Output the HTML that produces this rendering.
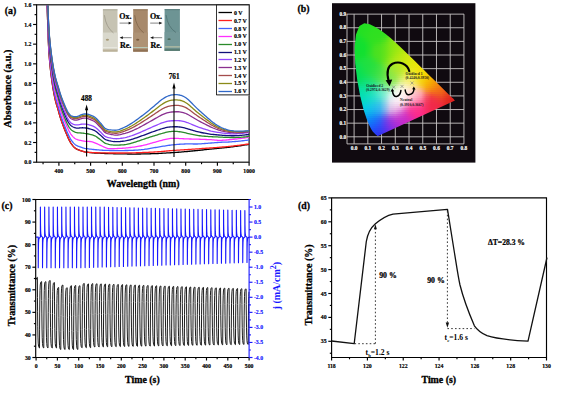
<!DOCTYPE html>
<html><head><meta charset="utf-8"><style>
html,body{margin:0;padding:0;background:#fff;width:575px;height:398px;overflow:hidden}
svg{display:block}
</style></head><body>
<svg width="575" height="398" viewBox="0 0 575 398">
<rect width="575" height="398" fill="#fff"/>
<text x="10.5" y="13.6" font-family="Liberation Serif" font-weight="bold" font-size="9.8" text-anchor="middle" fill="#000" stroke="#000" stroke-width="0.29" >(a)</text>
<rect x="36.6" y="4.8" width="212.5" height="157.4" fill="none" stroke="#111" stroke-width="1.2"/>
<line x1="33.1" y1="162.2" x2="36.6" y2="162.2" stroke="#000" stroke-width="1.15" />
<text x="31.4" y="164.3" font-family="Liberation Serif" font-weight="bold" font-size="5.8" text-anchor="end" fill="#000" stroke="#000" stroke-width="0.17" >0.0</text>
<line x1="34.6" y1="152.36" x2="36.6" y2="152.36" stroke="#000" stroke-width="1.15" />
<line x1="33.1" y1="142.52" x2="36.6" y2="142.52" stroke="#000" stroke-width="1.15" />
<text x="31.4" y="144.62" font-family="Liberation Serif" font-weight="bold" font-size="5.8" text-anchor="end" fill="#000" stroke="#000" stroke-width="0.17" >0.2</text>
<line x1="34.6" y1="132.69" x2="36.6" y2="132.69" stroke="#000" stroke-width="1.15" />
<line x1="33.1" y1="122.85" x2="36.6" y2="122.85" stroke="#000" stroke-width="1.15" />
<text x="31.4" y="124.95" font-family="Liberation Serif" font-weight="bold" font-size="5.8" text-anchor="end" fill="#000" stroke="#000" stroke-width="0.17" >0.4</text>
<line x1="34.6" y1="113.01" x2="36.6" y2="113.01" stroke="#000" stroke-width="1.15" />
<line x1="33.1" y1="103.17" x2="36.6" y2="103.17" stroke="#000" stroke-width="1.15" />
<text x="31.4" y="105.27" font-family="Liberation Serif" font-weight="bold" font-size="5.8" text-anchor="end" fill="#000" stroke="#000" stroke-width="0.17" >0.6</text>
<line x1="34.6" y1="93.34" x2="36.6" y2="93.34" stroke="#000" stroke-width="1.15" />
<line x1="33.1" y1="83.5" x2="36.6" y2="83.5" stroke="#000" stroke-width="1.15" />
<text x="31.4" y="85.6" font-family="Liberation Serif" font-weight="bold" font-size="5.8" text-anchor="end" fill="#000" stroke="#000" stroke-width="0.17" >0.8</text>
<line x1="34.6" y1="73.66" x2="36.6" y2="73.66" stroke="#000" stroke-width="1.15" />
<line x1="33.1" y1="63.83" x2="36.6" y2="63.83" stroke="#000" stroke-width="1.15" />
<text x="31.4" y="65.92" font-family="Liberation Serif" font-weight="bold" font-size="5.8" text-anchor="end" fill="#000" stroke="#000" stroke-width="0.17" >1.0</text>
<line x1="34.6" y1="53.99" x2="36.6" y2="53.99" stroke="#000" stroke-width="1.15" />
<line x1="33.1" y1="44.15" x2="36.6" y2="44.15" stroke="#000" stroke-width="1.15" />
<text x="31.4" y="46.25" font-family="Liberation Serif" font-weight="bold" font-size="5.8" text-anchor="end" fill="#000" stroke="#000" stroke-width="0.17" >1.2</text>
<line x1="34.6" y1="34.31" x2="36.6" y2="34.31" stroke="#000" stroke-width="1.15" />
<line x1="33.1" y1="24.48" x2="36.6" y2="24.48" stroke="#000" stroke-width="1.15" />
<text x="31.4" y="26.58" font-family="Liberation Serif" font-weight="bold" font-size="5.8" text-anchor="end" fill="#000" stroke="#000" stroke-width="0.17" >1.4</text>
<line x1="34.6" y1="14.64" x2="36.6" y2="14.64" stroke="#000" stroke-width="1.15" />
<line x1="33.1" y1="4.8" x2="36.6" y2="4.8" stroke="#000" stroke-width="1.15" />
<text x="31.4" y="6.9" font-family="Liberation Serif" font-weight="bold" font-size="5.8" text-anchor="end" fill="#000" stroke="#000" stroke-width="0.17" >1.6</text>
<line x1="43.05" y1="162.2" x2="43.05" y2="164.2" stroke="#000" stroke-width="1.15" />
<line x1="58.9" y1="162.2" x2="58.9" y2="165.7" stroke="#000" stroke-width="1.15" />
<text x="58.9" y="172.8" font-family="Liberation Serif" font-weight="bold" font-size="5.8" text-anchor="middle" fill="#000" stroke="#000" stroke-width="0.17" >400</text>
<line x1="74.75" y1="162.2" x2="74.75" y2="164.2" stroke="#000" stroke-width="1.15" />
<line x1="90.6" y1="162.2" x2="90.6" y2="165.7" stroke="#000" stroke-width="1.15" />
<text x="90.6" y="172.8" font-family="Liberation Serif" font-weight="bold" font-size="5.8" text-anchor="middle" fill="#000" stroke="#000" stroke-width="0.17" >500</text>
<line x1="106.45" y1="162.2" x2="106.45" y2="164.2" stroke="#000" stroke-width="1.15" />
<line x1="122.3" y1="162.2" x2="122.3" y2="165.7" stroke="#000" stroke-width="1.15" />
<text x="122.3" y="172.8" font-family="Liberation Serif" font-weight="bold" font-size="5.8" text-anchor="middle" fill="#000" stroke="#000" stroke-width="0.17" >600</text>
<line x1="138.15" y1="162.2" x2="138.15" y2="164.2" stroke="#000" stroke-width="1.15" />
<line x1="154" y1="162.2" x2="154" y2="165.7" stroke="#000" stroke-width="1.15" />
<text x="154" y="172.8" font-family="Liberation Serif" font-weight="bold" font-size="5.8" text-anchor="middle" fill="#000" stroke="#000" stroke-width="0.17" >700</text>
<line x1="169.85" y1="162.2" x2="169.85" y2="164.2" stroke="#000" stroke-width="1.15" />
<line x1="185.7" y1="162.2" x2="185.7" y2="165.7" stroke="#000" stroke-width="1.15" />
<text x="185.7" y="172.8" font-family="Liberation Serif" font-weight="bold" font-size="5.8" text-anchor="middle" fill="#000" stroke="#000" stroke-width="0.17" >800</text>
<line x1="201.55" y1="162.2" x2="201.55" y2="164.2" stroke="#000" stroke-width="1.15" />
<line x1="217.4" y1="162.2" x2="217.4" y2="165.7" stroke="#000" stroke-width="1.15" />
<text x="217.4" y="172.8" font-family="Liberation Serif" font-weight="bold" font-size="5.8" text-anchor="middle" fill="#000" stroke="#000" stroke-width="0.17" >900</text>
<line x1="233.25" y1="162.2" x2="233.25" y2="164.2" stroke="#000" stroke-width="1.15" />
<line x1="249.1" y1="162.2" x2="249.1" y2="165.7" stroke="#000" stroke-width="1.15" />
<text x="249.1" y="172.8" font-family="Liberation Serif" font-weight="bold" font-size="5.8" text-anchor="middle" fill="#000" stroke="#000" stroke-width="0.17" >1000</text>
<text x="143.2" y="186.6" font-family="Liberation Serif" font-weight="bold" font-size="9.9" text-anchor="middle" fill="#000" stroke="#000" stroke-width="0.30" >Wavelength (nm)</text>
<text x="11.5" y="88.6" font-family="Liberation Serif" font-weight="bold" font-size="10.3" text-anchor="middle" fill="#000" stroke="#000" stroke-width="0.31" transform="rotate(-90 11.5 88.6)">Absorbance (a.u.)</text>
<clipPath id="clipA"><rect x="36.6" y="5.3" width="212.5" height="157.39999999999998"/></clipPath>
<g clip-path="url(#clipA)">
<path d="M45.2,-51.28 L45.68,-36.68 L46.15,-22.45 L46.62,-8.56 L47.1,5 L47.57,19.05 L48.05,33.03 L48.52,44.86 L49,52.87 L49.47,59.11 L49.94,64.47 L50.42,69.11 L50.89,73.2 L51.37,76.9 L51.84,80.4 L52.31,83.71 L52.79,86.79 L53.26,89.66 L53.74,92.32 L54.21,94.81 L54.69,97.12 L55.16,99.28 L55.63,101.27 L56.11,103.07 L56.58,104.72 L57.06,106.29 L57.53,107.83 L58,109.41 L58.48,111.07 L58.95,112.76 L59.43,114.45 L59.9,116.11 L60.38,117.69 L60.85,119.16 L61.32,120.57 L61.8,121.94 L62.27,123.27 L62.75,124.56 L63.22,125.83 L63.69,127.06 L64.17,128.27 L64.64,129.46 L65.12,130.64 L65.59,131.81 L66.07,132.96 L66.54,134.1 L67.01,135.22 L67.49,136.31 L67.96,137.38 L68.44,138.41 L68.91,139.41 L69.38,140.36 L69.86,141.3 L70.33,142.19 L70.81,143 L71.28,143.69 L71.75,144.34 L72.23,144.97 L72.7,145.56 L73.18,146.13 L73.65,146.66 L74.13,147.16 L74.6,147.61 L75.07,148.01 L75.55,148.36 L76.02,148.66 L76.5,148.93 L76.97,149.18 L77.44,149.41 L77.92,149.63 L78.39,149.82 L78.87,150.01 L79.34,150.18 L79.82,150.35 L80.29,150.51 L80.76,150.67 L81.24,150.82 L81.71,150.98 L82.19,151.14 L82.66,151.29 L83.13,151.44 L83.61,151.59 L84.08,151.72 L84.56,151.84 L84.72,151.88 L85.98,152.1 L87.24,152.25 L88.51,152.4 L89.77,152.56 L91.04,152.7 L92.3,152.83 L93.57,152.93 L94.83,153 L96.09,153.05 L97.36,153.11 L98.62,153.16 L99.89,153.22 L101.15,153.28 L102.42,153.36 L103.68,153.43 L104.95,153.49 L106.21,153.54 L107.47,153.58 L108.74,153.62 L110,153.65 L111.27,153.68 L112.53,153.7 L113.8,153.73 L115.06,153.76 L116.32,153.78 L117.59,153.81 L118.85,153.84 L120.12,153.86 L121.38,153.89 L122.65,153.91 L123.91,153.94 L125.18,153.96 L126.44,153.97 L127.7,153.99 L128.97,154 L130.23,154.01 L131.5,154.02 L132.76,154.03 L134.03,154.03 L135.29,154.03 L136.56,154.02 L137.82,154.01 L139.08,154 L140.35,153.98 L141.61,153.97 L142.88,153.94 L144.14,153.92 L145.41,153.89 L146.67,153.86 L147.94,153.83 L149.2,153.79 L150.46,153.76 L151.73,153.72 L152.99,153.69 L154.26,153.65 L155.52,153.61 L156.79,153.55 L158.05,153.49 L159.31,153.42 L160.58,153.34 L161.84,153.26 L163.11,153.19 L164.37,153.12 L165.64,153.05 L166.9,152.97 L168.17,152.9 L169.43,152.83 L170.69,152.76 L171.96,152.68 L173.22,152.61 L174.49,152.53 L175.75,152.44 L177.02,152.35 L178.28,152.26 L179.55,152.16 L180.81,152.05 L182.07,151.94 L183.34,151.84 L184.6,151.72 L185.87,151.61 L187.13,151.49 L188.4,151.37 L189.66,151.26 L190.92,151.14 L192.19,151.01 L193.45,150.89 L194.72,150.77 L195.98,150.64 L197.25,150.52 L198.51,150.39 L199.78,150.27 L201.04,150.14 L202.3,150 L203.57,149.86 L204.83,149.72 L206.1,149.58 L207.36,149.44 L208.63,149.31 L209.89,149.19 L211.15,149.07 L212.42,148.95 L213.68,148.83 L214.95,148.71 L216.21,148.59 L217.48,148.47 L218.74,148.34 L220.01,148.21 L221.27,148.08 L222.53,147.95 L223.8,147.82 L225.06,147.68 L226.33,147.54 L227.59,147.4 L228.86,147.25 L230.12,147.1 L231.39,146.94 L232.65,146.78 L233.91,146.62 L235.18,146.45 L236.44,146.28 L237.71,146.1 L238.97,145.92 L240.24,145.74 L241.5,145.56 L242.76,145.37 L244.03,145.17 L245.29,144.97 L246.56,144.77 L247.82,144.57 L249.09,144.36" fill="none" stroke="#000000" stroke-width="1.3" stroke-linejoin="round" />
<path d="M45.2,-51.28 L45.68,-36.68 L46.15,-22.45 L46.62,-8.56 L47.1,5 L47.57,19.05 L48.05,33.03 L48.52,44.86 L49,52.87 L49.47,59.11 L49.94,64.47 L50.42,69.11 L50.89,73.2 L51.37,76.9 L51.84,80.4 L52.31,83.71 L52.79,86.79 L53.26,89.66 L53.74,92.32 L54.21,94.81 L54.69,97.12 L55.16,99.28 L55.63,101.27 L56.11,103.07 L56.58,104.72 L57.06,106.29 L57.53,107.83 L58,109.41 L58.48,111.07 L58.95,112.76 L59.43,114.45 L59.9,116.11 L60.38,117.69 L60.85,119.16 L61.32,120.57 L61.8,121.94 L62.27,123.27 L62.75,124.56 L63.22,125.83 L63.69,127.06 L64.17,128.27 L64.64,129.46 L65.12,130.64 L65.59,131.81 L66.07,132.96 L66.54,134.1 L67.01,135.22 L67.49,136.31 L67.96,137.38 L68.44,138.41 L68.91,139.41 L69.38,140.36 L69.86,141.3 L70.33,142.19 L70.81,143 L71.28,143.69 L71.75,144.34 L72.23,144.97 L72.7,145.56 L73.18,146.13 L73.65,146.66 L74.13,147.16 L74.6,147.61 L75.07,148.01 L75.55,148.36 L76.02,148.66 L76.5,148.93 L76.97,149.18 L77.44,149.41 L77.92,149.63 L78.39,149.82 L78.87,150.01 L79.34,150.18 L79.82,150.35 L80.29,150.51 L80.76,150.67 L81.24,150.82 L81.71,150.98 L82.19,151.14 L82.66,151.29 L83.13,151.44 L83.61,151.59 L84.08,151.72 L84.56,151.84 L84.72,151.88 L85.98,152.1 L87.24,152.23 L88.51,152.34 L89.77,152.44 L91.04,152.52 L92.3,152.59 L93.57,152.64 L94.83,152.69 L96.09,152.73 L97.36,152.76 L98.62,152.8 L99.89,152.83 L101.15,152.86 L102.42,152.89 L103.68,152.92 L104.95,152.94 L106.21,152.96 L107.47,152.97 L108.74,152.98 L110,152.98 L111.27,152.98 L112.53,152.98 L113.8,152.98 L115.06,152.98 L116.32,152.98 L117.59,152.98 L118.85,152.98 L120.12,152.98 L121.38,152.98 L122.65,152.98 L123.91,152.98 L125.18,152.97 L126.44,152.96 L127.7,152.94 L128.97,152.93 L130.23,152.9 L131.5,152.88 L132.76,152.85 L134.03,152.81 L135.29,152.78 L136.56,152.74 L137.82,152.7 L139.08,152.65 L140.35,152.61 L141.61,152.56 L142.88,152.51 L144.14,152.45 L145.41,152.4 L146.67,152.35 L147.94,152.29 L149.2,152.23 L150.46,152.18 L151.73,152.12 L152.99,152.06 L154.26,152 L155.52,151.93 L156.79,151.86 L158.05,151.77 L159.31,151.67 L160.58,151.57 L161.84,151.46 L163.11,151.35 L164.37,151.23 L165.64,151.11 L166.9,150.99 L168.17,150.88 L169.43,150.76 L170.69,150.65 L171.96,150.55 L173.22,150.45 L174.49,150.37 L175.75,150.28 L177.02,150.2 L178.28,150.12 L179.55,150.04 L180.81,149.97 L182.07,149.89 L183.34,149.81 L184.6,149.73 L185.87,149.65 L187.13,149.56 L188.4,149.48 L189.66,149.39 L190.92,149.3 L192.19,149.22 L193.45,149.13 L194.72,149.04 L195.98,148.95 L197.25,148.86 L198.51,148.78 L199.78,148.69 L201.04,148.6 L202.3,148.52 L203.57,148.43 L204.83,148.35 L206.1,148.27 L207.36,148.18 L208.63,148.09 L209.89,148 L211.15,147.91 L212.42,147.82 L213.68,147.72 L214.95,147.63 L216.21,147.53 L217.48,147.43 L218.74,147.33 L220.01,147.22 L221.27,147.12 L222.53,147.01 L223.8,146.91 L225.06,146.8 L226.33,146.68 L227.59,146.57 L228.86,146.44 L230.12,146.32 L231.39,146.18 L232.65,146.04 L233.91,145.9 L235.18,145.76 L236.44,145.61 L237.71,145.45 L238.97,145.29 L240.24,145.13 L241.5,144.96 L242.76,144.79 L244.03,144.61 L245.29,144.43 L246.56,144.25 L247.82,144.06 L249.09,143.87" fill="none" stroke="#ff2020" stroke-width="1.3" stroke-linejoin="round" />
<path d="M45.2,-54.81 L45.68,-40.21 L46.15,-25.98 L46.62,-12.09 L47.1,1.47 L47.57,15.52 L48.05,29.5 L48.52,41.34 L49,49.34 L49.47,55.58 L49.94,60.94 L50.42,65.58 L50.89,69.67 L51.37,73.37 L51.84,76.87 L52.31,80.18 L52.79,83.26 L53.26,86.13 L53.74,88.8 L54.21,91.28 L54.69,93.59 L55.16,95.75 L55.63,97.74 L56.11,99.54 L56.58,101.19 L57.06,102.76 L57.53,104.31 L58,105.89 L58.48,107.54 L58.95,109.23 L59.43,110.92 L59.9,112.58 L60.38,114.16 L60.85,115.63 L61.32,117.04 L61.8,118.41 L62.27,119.74 L62.75,121.04 L63.22,122.3 L63.69,123.53 L64.17,124.74 L64.64,125.94 L65.12,127.11 L65.59,128.28 L66.07,129.43 L66.54,130.57 L67.01,131.69 L67.49,132.79 L67.96,133.85 L68.44,134.88 L68.91,135.88 L69.38,136.83 L69.86,137.77 L70.33,138.66 L70.81,139.47 L71.28,140.17 L71.75,140.81 L72.23,141.44 L72.7,142.04 L73.18,142.6 L73.65,143.14 L74.13,143.63 L74.6,144.08 L75.07,144.48 L75.55,144.84 L76.02,145.14 L76.5,145.41 L76.97,145.66 L77.44,145.88 L77.92,146.1 L78.39,146.3 L78.87,146.48 L79.34,146.66 L79.82,146.82 L80.29,146.98 L80.76,147.14 L81.24,147.3 L81.71,147.45 L82.19,147.61 L82.66,147.76 L83.13,147.92 L83.61,148.06 L84.08,148.19 L84.56,148.31 L84.72,148.35 L85.98,148.57 L87.24,148.72 L88.51,148.88 L89.77,149.04 L91.04,149.2 L92.3,149.35 L93.57,149.49 L94.83,149.61 L96.09,149.73 L97.36,149.85 L98.62,149.97 L99.89,150.07 L101.15,150.17 L102.42,150.25 L103.68,150.31 L104.95,150.37 L106.21,150.41 L107.47,150.44 L108.74,150.47 L110,150.49 L111.27,150.5 L112.53,150.51 L113.8,150.52 L115.06,150.53 L116.32,150.53 L117.59,150.54 L118.85,150.54 L120.12,150.54 L121.38,150.54 L122.65,150.53 L123.91,150.53 L125.18,150.52 L126.44,150.5 L127.7,150.48 L128.97,150.45 L130.23,150.42 L131.5,150.37 L132.76,150.32 L134.03,150.27 L135.29,150.2 L136.56,150.12 L137.82,150.04 L139.08,149.95 L140.35,149.85 L141.61,149.72 L142.88,149.58 L144.14,149.42 L145.41,149.23 L146.67,149.04 L147.94,148.83 L149.2,148.62 L150.46,148.4 L151.73,148.18 L152.99,147.95 L154.26,147.73 L155.52,147.51 L156.79,147.29 L158.05,147.07 L159.31,146.85 L160.58,146.65 L161.84,146.44 L163.11,146.23 L164.37,146.03 L165.64,145.82 L166.9,145.63 L168.17,145.44 L169.43,145.25 L170.69,145.08 L171.96,144.93 L173.22,144.78 L174.49,144.65 L175.75,144.54 L177.02,144.44 L178.28,144.34 L179.55,144.26 L180.81,144.19 L182.07,144.13 L183.34,144.07 L184.6,144.01 L185.87,143.96 L187.13,143.93 L188.4,143.92 L189.66,143.92 L190.92,143.93 L192.19,143.96 L193.45,143.98 L194.72,143.99 L195.98,144 L197.25,143.98 L198.51,143.95 L199.78,143.89 L201.04,143.8 L202.3,143.71 L203.57,143.61 L204.83,143.51 L206.1,143.41 L207.36,143.31 L208.63,143.21 L209.89,143.11 L211.15,143.01 L212.42,142.91 L213.68,142.81 L214.95,142.71 L216.21,142.61 L217.48,142.51 L218.74,142.41 L220.01,142.32 L221.27,142.24 L222.53,142.18 L223.8,142.14 L225.06,142.11 L226.33,142.07 L227.59,142.04 L228.86,141.98 L230.12,141.91 L231.39,141.81 L232.65,141.72 L233.91,141.62 L235.18,141.51 L236.44,141.4 L237.71,141.28 L238.97,141.16 L240.24,141.03 L241.5,140.89 L242.76,140.75 L244.03,140.6 L245.29,140.45 L246.56,140.29 L247.82,140.12 L249.09,139.95" fill="none" stroke="#4464ff" stroke-width="1.3" stroke-linejoin="round" />
<path d="M45.2,-58.87 L45.68,-44.26 L46.15,-30.02 L46.62,-16.13 L47.1,-2.56 L47.57,11.5 L48.05,25.48 L48.52,37.32 L49,45.33 L49.47,51.58 L49.94,56.94 L50.42,61.57 L50.89,65.66 L51.37,69.37 L51.84,72.86 L52.31,76.16 L52.79,79.24 L53.26,82.1 L53.74,84.76 L54.21,87.23 L54.69,89.54 L55.16,91.68 L55.63,93.66 L56.11,95.44 L56.58,97.08 L57.06,98.63 L57.53,100.15 L58,101.71 L58.48,103.34 L58.95,105.01 L59.43,106.67 L59.9,108.3 L60.38,109.85 L60.85,111.29 L61.32,112.67 L61.8,114 L62.27,115.29 L62.75,116.54 L63.22,117.76 L63.69,118.95 L64.17,120.11 L64.64,121.26 L65.12,122.38 L65.59,123.5 L66.07,124.59 L66.54,125.68 L67.01,126.74 L67.49,127.78 L67.96,128.78 L68.44,129.75 L68.91,130.69 L69.38,131.58 L69.86,132.46 L70.33,133.29 L70.81,134.04 L71.28,134.67 L71.75,135.26 L72.23,135.82 L72.7,136.36 L73.18,136.87 L73.65,137.34 L74.13,137.77 L74.6,138.16 L75.07,138.51 L75.55,138.8 L76.02,139.04 L76.5,139.25 L76.97,139.44 L77.44,139.62 L77.92,139.77 L78.39,139.91 L78.87,140.04 L79.34,140.16 L79.82,140.27 L80.29,140.38 L80.76,140.48 L81.24,140.58 L81.71,140.68 L82.19,140.78 L82.66,140.89 L83.13,140.98 L83.61,141.07 L84.08,141.15 L84.56,141.22 L84.72,141.24 L85.98,141.32 L87.24,141.33 L88.51,141.39 L89.77,141.49 L91.04,141.68 L92.3,141.95 L93.57,142.34 L94.83,142.84 L96.09,143.37 L97.36,143.92 L98.62,144.49 L99.89,145.06 L101.15,145.64 L102.42,146.25 L103.68,146.87 L104.95,147.45 L106.21,147.96 L107.47,148.33 L108.74,148.57 L110,148.69 L111.27,148.72 L112.53,148.7 L113.8,148.64 L115.06,148.58 L116.32,148.54 L117.59,148.49 L118.85,148.44 L120.12,148.38 L121.38,148.32 L122.65,148.24 L123.91,148.15 L125.18,148.04 L126.44,147.93 L127.7,147.8 L128.97,147.66 L130.23,147.52 L131.5,147.36 L132.76,147.2 L134.03,147.02 L135.29,146.84 L136.56,146.64 L137.82,146.44 L139.08,146.22 L140.35,145.99 L141.61,145.74 L142.88,145.47 L144.14,145.17 L145.41,144.85 L146.67,144.52 L147.94,144.17 L149.2,143.81 L150.46,143.45 L151.73,143.09 L152.99,142.73 L154.26,142.37 L155.52,142.02 L156.79,141.66 L158.05,141.31 L159.31,140.97 L160.58,140.64 L161.84,140.3 L163.11,139.97 L164.37,139.64 L165.64,139.33 L166.9,139.04 L168.17,138.79 L169.43,138.58 L170.69,138.41 L171.96,138.31 L173.22,138.28 L174.49,138.3 L175.75,138.35 L177.02,138.4 L178.28,138.47 L179.55,138.54 L180.81,138.62 L182.07,138.69 L183.34,138.76 L184.6,138.82 L185.87,138.87 L187.13,138.91 L188.4,138.94 L189.66,138.98 L190.92,139.01 L192.19,139.04 L193.45,139.08 L194.72,139.11 L195.98,139.14 L197.25,139.18 L198.51,139.21 L199.78,139.25 L201.04,139.29 L202.3,139.34 L203.57,139.38 L204.83,139.44 L206.1,139.49 L207.36,139.54 L208.63,139.59 L209.89,139.64 L211.15,139.7 L212.42,139.8 L213.68,139.92 L214.95,140.05 L216.21,140.17 L217.48,140.27 L218.74,140.33 L220.01,140.34 L221.27,140.31 L222.53,140.25 L223.8,140.18 L225.06,140.09 L226.33,139.99 L227.59,139.89 L228.86,139.77 L230.12,139.65 L231.39,139.53 L232.65,139.4 L233.91,139.27 L235.18,139.13 L236.44,138.99 L237.71,138.84 L238.97,138.69 L240.24,138.54 L241.5,138.38 L242.76,138.21 L244.03,138.04 L245.29,137.87 L246.56,137.68 L247.82,137.5 L249.09,137.3" fill="none" stroke="#ff30ff" stroke-width="1.3" stroke-linejoin="round" />
<path d="M45.2,-63.04 L45.68,-48.44 L46.15,-34.21 L46.62,-20.32 L47.1,-6.76 L47.57,7.29 L48.05,21.27 L48.52,33.1 L49,41.11 L49.47,47.35 L49.94,52.71 L50.42,57.35 L50.89,61.44 L51.37,65.14 L51.84,68.64 L52.31,71.95 L52.79,75.03 L53.26,77.9 L53.74,80.56 L54.21,83.05 L54.69,85.36 L55.16,87.52 L55.63,89.51 L56.11,91.31 L56.58,92.96 L57.06,94.53 L57.53,96.07 L58,97.65 L58.48,99.31 L58.95,101 L59.43,102.69 L59.9,104.35 L60.38,105.93 L60.85,107.4 L61.32,108.81 L61.8,110.18 L62.27,111.51 L62.75,112.8 L63.22,114.07 L63.69,115.3 L64.17,116.51 L64.64,117.7 L65.12,118.88 L65.59,120.05 L66.07,121.19 L66.54,122.28 L67.01,123.31 L67.49,124.28 L67.96,125.19 L68.44,126.04 L68.91,126.83 L69.38,127.55 L69.86,128.24 L70.33,128.88 L70.81,129.42 L71.28,129.84 L71.75,130.2 L72.23,130.55 L72.7,130.87 L73.18,131.17 L73.65,131.44 L74.13,131.69 L74.6,131.92 L75.07,132.12 L75.55,132.3 L76.02,132.45 L76.5,132.57 L76.97,132.67 L77.44,132.75 L77.92,132.81 L78.39,132.85 L78.87,132.89 L79.34,132.92 L79.82,132.94 L80.29,132.96 L80.76,132.98 L81.24,133.01 L81.71,133.05 L82.19,133.09 L82.66,133.14 L83.13,133.2 L83.61,133.26 L84.08,133.33 L84.56,133.39 L84.72,133.42 L85.98,133.58 L87.24,133.75 L88.51,133.99 L89.77,134.27 L91.04,134.59 L92.3,134.94 L93.57,135.31 L94.83,135.78 L96.09,136.5 L97.36,137.4 L98.62,138.36 L99.89,139.3 L101.15,140.2 L102.42,141.23 L103.68,142.24 L104.95,143.09 L106.21,143.65 L107.47,143.99 L108.74,144.3 L110,144.57 L111.27,144.79 L112.53,144.97 L113.8,145.08 L115.06,145.14 L116.32,145.13 L117.59,145.11 L118.85,145.06 L120.12,145 L121.38,144.92 L122.65,144.83 L123.91,144.73 L125.18,144.59 L126.44,144.37 L127.7,144.11 L128.97,143.82 L130.23,143.51 L131.5,143.17 L132.76,142.81 L134.03,142.43 L135.29,142.03 L136.56,141.63 L137.82,141.21 L139.08,140.79 L140.35,140.36 L141.61,139.93 L142.88,139.5 L144.14,139.07 L145.41,138.64 L146.67,138.22 L147.94,137.8 L149.2,137.38 L150.46,136.97 L151.73,136.56 L152.99,136.17 L154.26,135.78 L155.52,135.39 L156.79,135.01 L158.05,134.62 L159.31,134.24 L160.58,133.86 L161.84,133.5 L163.11,133.14 L164.37,132.8 L165.64,132.49 L166.9,132.2 L168.17,131.95 L169.43,131.73 L170.69,131.56 L171.96,131.43 L173.22,131.35 L174.49,131.33 L175.75,131.36 L177.02,131.44 L178.28,131.57 L179.55,131.74 L180.81,131.94 L182.07,132.17 L183.34,132.42 L184.6,132.69 L185.87,132.97 L187.13,133.27 L188.4,133.56 L189.66,133.86 L190.92,134.15 L192.19,134.44 L193.45,134.71 L194.72,134.96 L195.98,135.19 L197.25,135.4 L198.51,135.59 L199.78,135.75 L201.04,135.9 L202.3,136.04 L203.57,136.16 L204.83,136.27 L206.1,136.37 L207.36,136.45 L208.63,136.53 L209.89,136.6 L211.15,136.67 L212.42,136.73 L213.68,136.79 L214.95,136.85 L216.21,136.91 L217.48,136.97 L218.74,137.04 L220.01,137.1 L221.27,137.16 L222.53,137.22 L223.8,137.28 L225.06,137.34 L226.33,137.39 L227.59,137.44 L228.86,137.47 L230.12,137.5 L231.39,137.51 L232.65,137.51 L233.91,137.51 L235.18,137.49 L236.44,137.46 L237.71,137.42 L238.97,137.36 L240.24,137.29 L241.5,137.2 L242.76,137.1 L244.03,136.98 L245.29,136.84 L246.56,136.69 L247.82,136.51 L249.09,136.32" fill="none" stroke="#2a8a2a" stroke-width="1.3" stroke-linejoin="round" />
<path d="M45.2,-66.11 L45.68,-51.51 L46.15,-37.29 L46.62,-23.4 L47.1,-9.85 L47.57,4.2 L48.05,18.16 L48.52,29.99 L49,37.99 L49.47,44.23 L49.94,49.57 L50.42,54.2 L50.89,58.28 L51.37,61.98 L51.84,65.46 L52.31,68.77 L52.79,71.84 L53.26,74.7 L53.74,77.35 L54.21,79.82 L54.69,82.12 L55.16,84.27 L55.63,86.25 L56.11,88.03 L56.58,89.67 L57.06,91.23 L57.53,92.76 L58,94.33 L58.48,95.97 L58.95,97.65 L59.43,99.32 L59.9,100.96 L60.38,102.52 L60.85,103.98 L61.32,105.38 L61.8,106.73 L62.27,108.04 L62.75,109.32 L63.22,110.56 L63.69,111.78 L64.17,112.97 L64.64,114.15 L65.12,115.3 L65.59,116.45 L66.07,117.57 L66.54,118.64 L67.01,119.65 L67.49,120.59 L67.96,121.47 L68.44,122.28 L68.91,123.04 L69.38,123.72 L69.86,124.38 L70.33,124.97 L70.81,125.47 L71.28,125.84 L71.75,126.17 L72.23,126.47 L72.7,126.74 L73.18,126.99 L73.65,127.22 L74.13,127.42 L74.6,127.6 L75.07,127.75 L75.55,127.88 L76.02,127.98 L76.5,128.05 L76.97,128.09 L77.44,128.1 L77.92,128.1 L78.39,128.08 L78.87,128.04 L79.34,128 L79.82,127.95 L80.29,127.9 L80.76,127.86 L81.24,127.82 L81.71,127.79 L82.19,127.77 L82.66,127.77 L83.13,127.78 L83.61,127.79 L84.08,127.82 L84.56,127.85 L84.72,127.87 L85.98,127.99 L87.24,128.21 L88.51,128.5 L89.77,128.85 L91.04,129.25 L92.3,129.69 L93.57,130.14 L94.83,130.71 L96.09,131.56 L97.36,132.6 L98.62,133.72 L99.89,134.81 L101.15,135.87 L102.42,137.08 L103.68,138.27 L104.95,139.27 L106.21,139.89 L107.47,140.25 L108.74,140.58 L110,140.87 L111.27,141.14 L112.53,141.36 L113.8,141.52 L115.06,141.63 L116.32,141.66 L117.59,141.65 L118.85,141.58 L120.12,141.49 L121.38,141.37 L122.65,141.23 L123.91,141.1 L125.18,140.93 L126.44,140.69 L127.7,140.41 L128.97,140.1 L130.23,139.77 L131.5,139.41 L132.76,139.03 L134.03,138.64 L135.29,138.23 L136.56,137.82 L137.82,137.39 L139.08,136.94 L140.35,136.46 L141.61,135.98 L142.88,135.5 L144.14,135.02 L145.41,134.54 L146.67,134.07 L147.94,133.6 L149.2,133.13 L150.46,132.66 L151.73,132.21 L152.99,131.75 L154.26,131.31 L155.52,130.87 L156.79,130.43 L158.05,129.99 L159.31,129.56 L160.58,129.15 L161.84,128.75 L163.11,128.37 L164.37,128.02 L165.64,127.71 L166.9,127.44 L168.17,127.21 L169.43,127.02 L170.69,126.88 L171.96,126.8 L173.22,126.77 L174.49,126.73 L175.75,126.72 L177.02,126.76 L178.28,126.86 L179.55,127 L180.81,127.18 L182.07,127.41 L183.34,127.67 L184.6,127.96 L185.87,128.29 L187.13,128.64 L188.4,129.02 L189.66,129.4 L190.92,129.8 L192.19,130.19 L193.45,130.58 L194.72,130.95 L195.98,131.3 L197.25,131.63 L198.51,131.93 L199.78,132.22 L201.04,132.49 L202.3,132.75 L203.57,132.99 L204.83,133.23 L206.1,133.46 L207.36,133.68 L208.63,133.9 L209.89,134.1 L211.15,134.3 L212.42,134.41 L213.68,134.52 L214.95,134.63 L216.21,134.75 L217.48,134.86 L218.74,134.98 L220.01,135.08 L221.27,135.19 L222.53,135.29 L223.8,135.39 L225.06,135.48 L226.33,135.55 L227.59,135.62 L228.86,135.67 L230.12,135.71 L231.39,135.73 L232.65,135.74 L233.91,135.73 L235.18,135.7 L236.44,135.66 L237.71,135.61 L238.97,135.53 L240.24,135.44 L241.5,135.34 L242.76,135.22 L244.03,135.08 L245.29,134.92 L246.56,134.75 L247.82,134.57 L249.09,134.36" fill="none" stroke="#10107a" stroke-width="1.3" stroke-linejoin="round" />
<path d="M45.2,-68.19 L45.68,-53.6 L46.15,-39.38 L46.62,-25.5 L47.1,-11.95 L47.57,2.09 L48.05,16.05 L48.52,27.88 L49,35.87 L49.47,42.1 L49.94,47.44 L50.42,52.07 L50.89,56.14 L51.37,59.83 L51.84,63.31 L52.31,66.6 L52.79,69.67 L53.26,72.52 L53.74,75.17 L54.21,77.63 L54.69,79.92 L55.16,82.06 L55.63,84.03 L56.11,85.81 L56.58,87.44 L57.06,88.99 L57.53,90.51 L58,92.06 L58.48,93.69 L58.95,95.36 L59.43,97.03 L59.9,98.65 L60.38,100.21 L60.85,101.66 L61.32,103.04 L61.8,104.38 L62.27,105.68 L62.75,106.94 L63.22,108.18 L63.69,109.38 L64.17,110.56 L64.64,111.72 L65.12,112.86 L65.59,114 L66.07,115.11 L66.54,116.16 L67.01,117.14 L67.49,118.07 L67.96,118.93 L68.44,119.72 L68.91,120.45 L69.38,121.11 L69.86,121.74 L70.33,122.3 L70.81,122.78 L71.28,123.12 L71.75,123.41 L72.23,123.68 L72.7,123.93 L73.18,124.15 L73.65,124.34 L74.13,124.51 L74.6,124.65 L75.07,124.77 L75.55,124.86 L76.02,124.92 L76.5,124.96 L76.97,124.96 L77.44,124.93 L77.92,124.88 L78.39,124.81 L78.87,124.73 L79.34,124.64 L79.82,124.54 L80.29,124.44 L80.76,124.35 L81.24,124.26 L81.71,124.19 L82.19,124.14 L82.66,124.09 L83.13,124.07 L83.61,124.05 L84.08,124.05 L84.56,124.06 L84.72,124.07 L85.98,124.17 L87.24,124.39 L88.51,124.69 L89.77,125.06 L91.04,125.48 L92.3,125.95 L93.57,126.44 L94.83,127.04 L96.09,127.96 L97.36,129.08 L98.62,130.28 L99.89,131.45 L101.15,132.6 L102.42,133.93 L103.68,135.23 L104.95,136.31 L106.21,136.96 L107.47,137.32 L108.74,137.64 L110,137.91 L111.27,138.19 L112.53,138.41 L113.8,138.59 L115.06,138.7 L116.32,138.74 L117.59,138.7 L118.85,138.59 L120.12,138.43 L121.38,138.24 L122.65,138.03 L123.91,137.82 L125.18,137.59 L126.44,137.28 L127.7,136.94 L128.97,136.57 L130.23,136.17 L131.5,135.75 L132.76,135.3 L134.03,134.84 L135.29,134.36 L136.56,133.88 L137.82,133.38 L139.08,132.85 L140.35,132.29 L141.61,131.73 L142.88,131.17 L144.14,130.61 L145.41,130.04 L146.67,129.48 L147.94,128.91 L149.2,128.35 L150.46,127.79 L151.73,127.24 L152.99,126.69 L154.26,126.14 L155.52,125.6 L156.79,125.05 L158.05,124.51 L159.31,123.98 L160.58,123.47 L161.84,122.98 L163.11,122.53 L164.37,122.12 L165.64,121.75 L166.9,121.44 L168.17,121.19 L169.43,120.99 L170.69,120.84 L171.96,120.76 L173.22,120.73 L174.49,120.65 L175.75,120.59 L177.02,120.58 L178.28,120.63 L179.55,120.73 L180.81,120.89 L182.07,121.11 L183.34,121.37 L184.6,121.7 L185.87,122.08 L187.13,122.51 L188.4,122.98 L189.66,123.49 L190.92,124.02 L192.19,124.56 L193.45,125.1 L194.72,125.62 L195.98,126.13 L197.25,126.61 L198.51,127.08 L199.78,127.52 L201.04,127.95 L202.3,128.36 L203.57,128.77 L204.83,129.18 L206.1,129.58 L207.36,129.99 L208.63,130.38 L209.89,130.77 L211.15,131.15 L212.42,131.37 L213.68,131.6 L214.95,131.83 L216.21,132.05 L217.48,132.27 L218.74,132.48 L220.01,132.68 L221.27,132.86 L222.53,133.04 L223.8,133.2 L225.06,133.35 L226.33,133.48 L227.59,133.58 L228.86,133.67 L230.12,133.74 L231.39,133.79 L232.65,133.81 L233.91,133.81 L235.18,133.8 L236.44,133.76 L237.71,133.7 L238.97,133.62 L240.24,133.53 L241.5,133.41 L242.76,133.28 L244.03,133.14 L245.29,132.97 L246.56,132.8 L247.82,132.61 L249.09,132.41" fill="none" stroke="#9448ff" stroke-width="1.3" stroke-linejoin="round" />
<path d="M45.2,-71.57 L45.68,-56.98 L46.15,-42.76 L46.62,-28.89 L47.1,-15.35 L47.57,-1.31 L48.05,12.64 L48.52,24.46 L49,32.44 L49.47,38.67 L49.94,44 L50.42,48.62 L50.89,52.68 L51.37,56.36 L51.84,59.83 L52.31,63.12 L52.79,66.17 L53.26,69.01 L53.74,71.65 L54.21,74.1 L54.69,76.38 L55.16,78.51 L55.63,80.47 L56.11,82.23 L56.58,83.85 L57.06,85.38 L57.53,86.89 L58,88.43 L58.48,90.05 L58.95,91.7 L59.43,93.35 L59.9,94.96 L60.38,96.5 L60.85,97.93 L61.32,99.3 L61.8,100.62 L62.27,101.91 L62.75,103.15 L63.22,104.37 L63.69,105.55 L64.17,106.71 L64.64,107.85 L65.12,108.98 L65.59,110.09 L66.07,111.18 L66.54,112.21 L67.01,113.17 L67.49,114.06 L67.96,114.89 L68.44,115.65 L68.91,116.34 L69.38,116.97 L69.86,117.55 L70.33,118.08 L70.81,118.5 L71.28,118.8 L71.75,119.05 L72.23,119.27 L72.7,119.47 L73.18,119.64 L73.65,119.78 L74.13,119.9 L74.6,119.99 L75.07,120.06 L75.55,120.1 L76.02,120.11 L76.5,120.08 L76.97,120.02 L77.44,119.93 L77.92,119.81 L78.39,119.67 L78.87,119.52 L79.34,119.35 L79.82,119.18 L80.29,119.01 L80.76,118.84 L81.24,118.69 L81.71,118.55 L82.19,118.43 L82.66,118.33 L83.13,118.25 L83.61,118.19 L84.08,118.15 L84.56,118.13 L84.72,118.12 L85.98,118.19 L87.24,118.48 L88.51,118.86 L89.77,119.32 L91.04,119.84 L92.3,120.41 L93.57,121.01 L94.83,121.74 L96.09,122.8 L97.36,124.09 L98.62,125.47 L99.89,126.82 L101.15,128.15 L102.42,129.68 L103.68,131.18 L104.95,132.42 L106.21,133.16 L107.47,133.55 L108.74,133.91 L110,134.22 L111.27,134.49 L112.53,134.73 L113.8,134.9 L115.06,135.03 L116.32,135.07 L117.59,135 L118.85,134.83 L120.12,134.59 L121.38,134.3 L122.65,133.99 L123.91,133.68 L125.18,133.37 L126.44,132.98 L127.7,132.55 L128.97,132.09 L130.23,131.6 L131.5,131.09 L132.76,130.55 L134.03,130 L135.29,129.43 L136.56,128.85 L137.82,128.26 L139.08,127.62 L140.35,126.93 L141.61,126.24 L142.88,125.54 L144.14,124.84 L145.41,124.14 L146.67,123.43 L147.94,122.72 L149.2,122.01 L150.46,121.29 L151.73,120.58 L152.99,119.86 L154.26,119.14 L155.52,118.42 L156.79,117.7 L158.05,116.98 L159.31,116.27 L160.58,115.6 L161.84,114.95 L163.11,114.36 L164.37,113.82 L165.64,113.34 L166.9,112.94 L168.17,112.61 L169.43,112.35 L170.69,112.15 L171.96,112.02 L173.22,111.96 L174.49,111.85 L175.75,111.76 L177.02,111.73 L178.28,111.76 L179.55,111.86 L180.81,112.03 L182.07,112.28 L183.34,112.61 L184.6,113.02 L185.87,113.52 L187.13,114.1 L188.4,114.76 L189.66,115.47 L190.92,116.21 L192.19,116.99 L193.45,117.77 L194.72,118.54 L195.98,119.29 L197.25,120.01 L198.51,120.71 L199.78,121.39 L201.04,122.05 L202.3,122.71 L203.57,123.36 L204.83,124 L206.1,124.65 L207.36,125.31 L208.63,125.95 L209.89,126.59 L211.15,127.21 L212.42,127.75 L213.68,128.27 L214.95,128.77 L216.21,129.24 L217.48,129.68 L218.74,130.09 L220.01,130.47 L221.27,130.83 L222.53,131.15 L223.8,131.45 L225.06,131.72 L226.33,131.96 L227.59,132.16 L228.86,132.34 L230.12,132.49 L231.39,132.61 L232.65,132.69 L233.91,132.76 L235.18,132.79 L236.44,132.81 L237.71,132.8 L238.97,132.76 L240.24,132.71 L241.5,132.63 L242.76,132.54 L244.03,132.43 L245.29,132.3 L246.56,132.16 L247.82,132.01 L249.09,131.85" fill="none" stroke="#8a3090" stroke-width="1.3" stroke-linejoin="round" />
<path d="M45.2,-72.55 L45.68,-57.97 L46.15,-43.75 L46.62,-29.88 L47.1,-16.34 L47.57,-2.31 L48.05,11.65 L48.52,23.46 L49,31.44 L49.47,37.67 L49.94,43 L50.42,47.61 L50.89,51.67 L51.37,55.35 L51.84,58.82 L52.31,62.1 L52.79,65.15 L53.26,67.99 L53.74,70.62 L54.21,73.07 L54.69,75.35 L55.16,77.47 L55.63,79.43 L56.11,81.19 L56.58,82.8 L57.06,84.33 L57.53,85.84 L58,87.37 L58.48,88.98 L58.95,90.63 L59.43,92.28 L59.9,93.89 L60.38,95.42 L60.85,96.85 L61.32,98.21 L61.8,99.52 L62.27,100.8 L62.75,102.04 L63.22,103.25 L63.69,104.43 L64.17,105.59 L64.64,106.72 L65.12,107.84 L65.59,108.95 L66.07,110.03 L66.54,111.05 L67.01,112 L67.49,112.89 L67.96,113.71 L68.44,114.46 L68.91,115.14 L69.38,115.75 L69.86,116.32 L70.33,116.84 L70.81,117.25 L71.28,117.54 L71.75,117.77 L72.23,117.98 L72.7,118.16 L73.18,118.31 L73.65,118.44 L74.13,118.55 L74.6,118.62 L75.07,118.67 L75.55,118.7 L76.02,118.69 L76.5,118.65 L76.97,118.57 L77.44,118.46 L77.92,118.32 L78.39,118.16 L78.87,117.98 L79.34,117.79 L79.82,117.6 L80.29,117.41 L80.76,117.22 L81.24,117.05 L81.71,116.89 L82.19,116.75 L82.66,116.63 L83.13,116.53 L83.61,116.46 L84.08,116.41 L84.56,116.38 L84.72,116.37 L85.98,116.43 L87.24,116.69 L88.51,117.06 L89.77,117.51 L91.04,118.03 L92.3,118.6 L93.57,119.19 L94.83,119.92 L96.09,121 L97.36,122.31 L98.62,123.72 L99.89,125.09 L101.15,126.46 L102.42,128.03 L103.68,129.58 L104.95,130.85 L106.21,131.59 L107.47,131.96 L108.74,132.3 L110,132.59 L111.27,132.83 L112.53,133.02 L113.8,133.17 L115.06,133.26 L116.32,133.26 L117.59,133.13 L118.85,132.89 L120.12,132.56 L121.38,132.18 L122.65,131.78 L123.91,131.37 L125.18,130.96 L126.44,130.47 L127.7,129.94 L128.97,129.38 L130.23,128.78 L131.5,128.16 L132.76,127.51 L134.03,126.84 L135.29,126.15 L136.56,125.44 L137.82,124.72 L139.08,123.97 L140.35,123.19 L141.61,122.4 L142.88,121.61 L144.14,120.8 L145.41,119.99 L146.67,119.18 L147.94,118.36 L149.2,117.53 L150.46,116.7 L151.73,115.86 L152.99,115.02 L154.26,114.17 L155.52,113.31 L156.79,112.45 L158.05,111.6 L159.31,110.76 L160.58,109.95 L161.84,109.19 L163.11,108.48 L164.37,107.84 L165.64,107.27 L166.9,106.79 L168.17,106.4 L169.43,106.08 L170.69,105.83 L171.96,105.67 L173.22,105.57 L174.49,105.46 L175.75,105.39 L177.02,105.38 L178.28,105.44 L179.55,105.58 L180.81,105.8 L182.07,106.11 L183.34,106.52 L184.6,107.03 L185.87,107.65 L187.13,108.38 L188.4,109.19 L189.66,110.07 L190.92,111 L192.19,111.96 L193.45,112.93 L194.72,113.9 L195.98,114.84 L197.25,115.75 L198.51,116.62 L199.78,117.48 L201.04,118.32 L202.3,119.14 L203.57,119.97 L204.83,120.79 L206.1,121.61 L207.36,122.44 L208.63,123.26 L209.89,124.06 L211.15,124.84 L212.42,125.55 L213.68,126.23 L214.95,126.88 L216.21,127.48 L217.48,128.05 L218.74,128.57 L220.01,129.06 L221.27,129.5 L222.53,129.91 L223.8,130.28 L225.06,130.62 L226.33,130.92 L227.59,131.18 L228.86,131.4 L230.12,131.59 L231.39,131.75 L232.65,131.87 L233.91,131.97 L235.18,132.03 L236.44,132.07 L237.71,132.08 L238.97,132.06 L240.24,132.03 L241.5,131.97 L242.76,131.9 L244.03,131.8 L245.29,131.69 L246.56,131.57 L247.82,131.44 L249.09,131.29" fill="none" stroke="#a44c4c" stroke-width="1.3" stroke-linejoin="round" />
<path d="M45.2,-73.2 L45.68,-58.62 L46.15,-44.41 L46.62,-30.54 L47.1,-17 L47.57,-2.97 L48.05,10.99 L48.52,22.8 L49,30.78 L49.47,37 L49.94,42.33 L50.42,46.94 L50.89,51 L51.37,54.68 L51.84,58.14 L52.31,61.42 L52.79,64.47 L53.26,67.31 L53.74,69.94 L54.21,72.38 L54.69,74.66 L55.16,76.78 L55.63,78.73 L56.11,80.49 L56.58,82.1 L57.06,83.63 L57.53,85.13 L58,86.66 L58.48,88.27 L58.95,89.92 L59.43,91.56 L59.9,93.17 L60.38,94.7 L60.85,96.12 L61.32,97.48 L61.8,98.79 L62.27,100.07 L62.75,101.3 L63.22,102.51 L63.69,103.68 L64.17,104.84 L64.64,105.97 L65.12,107.08 L65.59,108.18 L66.07,109.26 L66.54,110.28 L67.01,111.22 L67.49,112.1 L67.96,112.92 L68.44,113.66 L68.91,114.33 L69.38,114.94 L69.86,115.51 L70.33,116.01 L70.81,116.42 L71.28,116.69 L71.75,116.92 L72.23,117.11 L72.7,117.29 L73.18,117.43 L73.65,117.55 L74.13,117.64 L74.6,117.71 L75.07,117.75 L75.55,117.76 L76.02,117.75 L76.5,117.69 L76.97,117.6 L77.44,117.48 L77.92,117.32 L78.39,117.15 L78.87,116.96 L79.34,116.76 L79.82,116.55 L80.29,116.34 L80.76,116.14 L81.24,115.95 L81.71,115.78 L82.19,115.63 L82.66,115.5 L83.13,115.39 L83.61,115.31 L84.08,115.25 L84.56,115.21 L84.72,115.2 L85.98,115.25 L87.24,115.5 L88.51,115.85 L89.77,116.29 L91.04,116.8 L92.3,117.35 L93.57,117.94 L94.83,118.67 L96.09,119.75 L97.36,121.07 L98.62,122.5 L99.89,123.88 L101.15,125.26 L102.42,126.86 L103.68,128.43 L104.95,129.72 L106.21,130.46 L107.47,130.82 L108.74,131.14 L110,131.41 L111.27,131.62 L112.53,131.78 L113.8,131.9 L115.06,131.96 L116.32,131.93 L117.59,131.76 L118.85,131.46 L120.12,131.07 L121.38,130.62 L122.65,130.14 L123.91,129.65 L125.18,129.17 L126.44,128.61 L127.7,128 L128.97,127.36 L130.23,126.68 L131.5,125.98 L132.76,125.24 L134.03,124.48 L135.29,123.7 L136.56,122.9 L137.82,122.08 L139.08,121.23 L140.35,120.36 L141.61,119.48 L142.88,118.59 L144.14,117.69 L145.41,116.78 L146.67,115.87 L147.94,114.94 L149.2,114 L150.46,113.06 L151.73,112.11 L152.99,111.14 L154.26,110.17 L155.52,109.19 L156.79,108.19 L158.05,107.21 L159.31,106.24 L160.58,105.31 L161.84,104.42 L163.11,103.59 L164.37,102.84 L165.64,102.18 L166.9,101.61 L168.17,101.14 L169.43,100.74 L170.69,100.44 L171.96,100.21 L173.22,100.06 L174.49,99.96 L175.75,99.91 L177.02,99.94 L178.28,100.04 L179.55,100.22 L180.81,100.49 L182.07,100.87 L183.34,101.35 L184.6,101.96 L185.87,102.69 L187.13,103.55 L188.4,104.51 L189.66,105.55 L190.92,106.64 L192.19,107.77 L193.45,108.91 L194.72,110.05 L195.98,111.15 L197.25,112.22 L198.51,113.26 L199.78,114.27 L201.04,115.26 L202.3,116.24 L203.57,117.21 L204.83,118.18 L206.1,119.15 L207.36,120.12 L208.63,121.09 L209.89,122.03 L211.15,122.95 L212.42,123.81 L213.68,124.63 L214.95,125.4 L216.21,126.13 L217.48,126.8 L218.74,127.42 L220.01,127.99 L221.27,128.52 L222.53,129 L223.8,129.44 L225.06,129.83 L226.33,130.18 L227.59,130.49 L228.86,130.76 L230.12,130.99 L231.39,131.18 L232.65,131.33 L233.91,131.45 L235.18,131.54 L236.44,131.6 L237.71,131.63 L238.97,131.64 L240.24,131.62 L241.5,131.59 L242.76,131.53 L244.03,131.45 L245.29,131.36 L246.56,131.26 L247.82,131.14 L249.09,131.01" fill="none" stroke="#8a8a18" stroke-width="1.3" stroke-linejoin="round" />
<path d="M45.2,-73.96 L45.68,-59.38 L46.15,-45.16 L46.62,-31.3 L47.1,-17.76 L47.57,-3.73 L48.05,10.23 L48.52,22.04 L49,30.01 L49.47,36.23 L49.94,41.56 L50.42,46.17 L50.89,50.23 L51.37,53.91 L51.84,57.37 L52.31,60.65 L52.79,63.7 L53.26,66.53 L53.74,69.16 L54.21,71.6 L54.69,73.88 L55.16,75.99 L55.63,77.94 L56.11,79.7 L56.58,81.31 L57.06,82.83 L57.53,84.33 L58,85.86 L58.48,87.47 L58.95,89.11 L59.43,90.75 L59.9,92.35 L60.38,93.88 L60.85,95.3 L61.32,96.66 L61.8,97.97 L62.27,99.24 L62.75,100.47 L63.22,101.67 L63.69,102.85 L64.17,103.99 L64.64,105.12 L65.12,106.23 L65.59,107.33 L66.07,108.4 L66.54,109.41 L67.01,110.36 L67.49,111.23 L67.96,112.04 L68.44,112.77 L68.91,113.44 L69.38,114.04 L69.86,114.6 L70.33,115.09 L70.81,115.49 L71.28,115.76 L71.75,115.97 L72.23,116.16 L72.7,116.32 L73.18,116.46 L73.65,116.56 L74.13,116.65 L74.6,116.7 L75.07,116.73 L75.55,116.73 L76.02,116.71 L76.5,116.64 L76.97,116.54 L77.44,116.4 L77.92,116.23 L78.39,116.04 L78.87,115.84 L79.34,115.62 L79.82,115.4 L80.29,115.17 L80.76,114.96 L81.24,114.75 L81.71,114.57 L82.19,114.4 L82.66,114.26 L83.13,114.15 L83.61,114.05 L84.08,113.98 L84.56,113.94 L84.72,113.93 L85.98,113.98 L87.24,114.18 L88.51,114.49 L89.77,114.89 L91.04,115.36 L92.3,115.89 L93.57,116.45 L94.83,117.15 L96.09,118.21 L97.36,119.53 L98.62,120.95 L99.89,122.33 L101.15,123.72 L102.42,125.33 L103.68,126.93 L104.95,128.23 L106.21,128.95 L107.47,129.27 L108.74,129.55 L110,129.78 L111.27,129.97 L112.53,130.11 L113.8,130.2 L115.06,130.24 L116.32,130.19 L117.59,129.97 L118.85,129.62 L120.12,129.16 L121.38,128.63 L122.65,128.07 L123.91,127.51 L125.18,126.95 L126.44,126.31 L127.7,125.62 L128.97,124.9 L130.23,124.14 L131.5,123.35 L132.76,122.52 L134.03,121.67 L135.29,120.8 L136.56,119.9 L137.82,118.98 L139.08,118.05 L140.35,117.1 L141.61,116.14 L142.88,115.17 L144.14,114.19 L145.41,113.2 L146.67,112.2 L147.94,111.18 L149.2,110.16 L150.46,109.12 L151.73,108.07 L152.99,107.01 L154.26,105.94 L155.52,104.85 L156.79,103.75 L158.05,102.66 L159.31,101.59 L160.58,100.56 L161.84,99.58 L163.11,98.67 L164.37,97.84 L165.64,97.12 L166.9,96.5 L168.17,95.98 L169.43,95.55 L170.69,95.22 L171.96,94.97 L173.22,94.79 L174.49,94.7 L175.75,94.66 L177.02,94.69 L178.28,94.81 L179.55,95.01 L180.81,95.32 L182.07,95.74 L183.34,96.28 L184.6,96.96 L185.87,97.79 L187.13,98.76 L188.4,99.84 L189.66,101.01 L190.92,102.25 L192.19,103.53 L193.45,104.83 L194.72,106.12 L195.98,107.38 L197.25,108.6 L198.51,109.78 L199.78,110.94 L201.04,112.07 L202.3,113.19 L203.57,114.3 L204.83,115.42 L206.1,116.53 L207.36,117.65 L208.63,118.76 L209.89,119.85 L211.15,120.9 L212.42,121.92 L213.68,122.9 L214.95,123.81 L216.21,124.67 L217.48,125.46 L218.74,126.18 L220.01,126.85 L221.27,127.47 L222.53,128.03 L223.8,128.53 L225.06,128.99 L226.33,129.4 L227.59,129.76 L228.86,130.07 L230.12,130.34 L231.39,130.57 L232.65,130.76 L233.91,130.91 L235.18,131.03 L236.44,131.11 L237.71,131.17 L238.97,131.2 L240.24,131.21 L241.5,131.19 L242.76,131.15 L244.03,131.1 L245.29,131.02 L246.56,130.94 L247.82,130.84 L249.09,130.73" fill="none" stroke="#3068c8" stroke-width="1.3" stroke-linejoin="round" />
</g>
<line x1="86.6" y1="156.5" x2="86.6" y2="109.5" stroke="#000" stroke-width="1.1" />
<path d="M85.0,110.2 L86.6,104.4 L88.2,110.2 Z" fill="#000"/>
<text x="86.5" y="101" font-family="Liberation Serif" font-weight="bold" font-size="7.2" text-anchor="middle" fill="#000" stroke="#000" stroke-width="0.22" >488</text>
<line x1="174" y1="157" x2="174" y2="87.5" stroke="#000" stroke-width="1.1" />
<path d="M172.4,88.4 L174,82.6 L175.6,88.4 Z" fill="#000"/>
<text x="174.1" y="79.2" font-family="Liberation Serif" font-weight="bold" font-size="7.2" text-anchor="middle" fill="#000" stroke="#000" stroke-width="0.22" >761</text>
<rect x="216.5" y="5" width="32.6" height="89.8" fill="#fff" stroke="#222" stroke-width="0.9"/>
<line x1="217" y1="95.3" x2="249.5" y2="95.3" stroke="#999" stroke-width="0.8" />
<line x1="218.5" y1="12.5" x2="232" y2="12.5" stroke="#000000" stroke-width="1.3" />
<text x="233.9" y="14.9" font-family="Liberation Serif" font-weight="bold" font-size="5.9" text-anchor="start" fill="#000" stroke="#000" stroke-width="0.18" >0 V</text>
<line x1="218.5" y1="20.5" x2="232" y2="20.5" stroke="#ff2020" stroke-width="1.3" />
<text x="233.9" y="22.73" font-family="Liberation Serif" font-weight="bold" font-size="5.9" text-anchor="start" fill="#000" stroke="#000" stroke-width="0.18" >0.7 V</text>
<line x1="218.5" y1="28.5" x2="232" y2="28.5" stroke="#4464ff" stroke-width="1.3" />
<text x="233.9" y="30.56" font-family="Liberation Serif" font-weight="bold" font-size="5.9" text-anchor="start" fill="#000" stroke="#000" stroke-width="0.18" >0.8 V</text>
<line x1="218.5" y1="36.5" x2="232" y2="36.5" stroke="#ff30ff" stroke-width="1.3" />
<text x="233.9" y="38.39" font-family="Liberation Serif" font-weight="bold" font-size="5.9" text-anchor="start" fill="#000" stroke="#000" stroke-width="0.18" >0.9 V</text>
<line x1="218.5" y1="44.5" x2="232" y2="44.5" stroke="#2a8a2a" stroke-width="1.3" />
<text x="233.9" y="46.22" font-family="Liberation Serif" font-weight="bold" font-size="5.9" text-anchor="start" fill="#000" stroke="#000" stroke-width="0.18" >1.0 V</text>
<line x1="218.5" y1="52.5" x2="232" y2="52.5" stroke="#10107a" stroke-width="1.3" />
<text x="233.9" y="54.05" font-family="Liberation Serif" font-weight="bold" font-size="5.9" text-anchor="start" fill="#000" stroke="#000" stroke-width="0.18" >1.1 V</text>
<line x1="218.5" y1="59.5" x2="232" y2="59.5" stroke="#9448ff" stroke-width="1.3" />
<text x="233.9" y="61.88" font-family="Liberation Serif" font-weight="bold" font-size="5.9" text-anchor="start" fill="#000" stroke="#000" stroke-width="0.18" >1.2 V</text>
<line x1="218.5" y1="67.5" x2="232" y2="67.5" stroke="#8a3090" stroke-width="1.3" />
<text x="233.9" y="69.71" font-family="Liberation Serif" font-weight="bold" font-size="5.9" text-anchor="start" fill="#000" stroke="#000" stroke-width="0.18" >1.3 V</text>
<line x1="218.5" y1="75.5" x2="232" y2="75.5" stroke="#a44c4c" stroke-width="1.3" />
<text x="233.9" y="77.54" font-family="Liberation Serif" font-weight="bold" font-size="5.9" text-anchor="start" fill="#000" stroke="#000" stroke-width="0.18" >1.4 V</text>
<line x1="218.5" y1="83.5" x2="232" y2="83.5" stroke="#8a8a18" stroke-width="1.3" />
<text x="233.9" y="85.37" font-family="Liberation Serif" font-weight="bold" font-size="5.9" text-anchor="start" fill="#000" stroke="#000" stroke-width="0.18" >1.5 V</text>
<line x1="218.5" y1="91.5" x2="232" y2="91.5" stroke="#3068c8" stroke-width="1.3" />
<text x="233.9" y="93.2" font-family="Liberation Serif" font-weight="bold" font-size="5.9" text-anchor="start" fill="#000" stroke="#000" stroke-width="0.18" >1.6 V</text>
<rect x="102.9" y="9.2" width="14.6" height="42.4" fill="#c6c3b3"/>
<rect x="102.9" y="32.519999999999996" width="14.6" height="19.08" fill="#d9d8cc"/>
<path d="M104.4,15.2 Q105.9,27.2 113.5,32.944" stroke="#9a9686" stroke-width="0.8" fill="none"/>
<rect x="102.9" y="9.2" width="14.6" height="1.2" fill="#9a9686" opacity="0.5"/>
<ellipse cx="107.4" cy="39.727999999999994" rx="1.6" ry="0.9" fill="#a89a78"/>
<rect x="102.9" y="47.099999999999994" width="14.6" height="1.0" fill="#e8e8e0"/>
<rect x="102.9" y="49.39999999999999" width="14.6" height="2.2" fill="#a89a78" opacity="0.6"/>
<rect x="133.2" y="9.2" width="14.6" height="42.4" fill="#a7896b"/>
<rect x="133.2" y="32.519999999999996" width="14.6" height="19.08" fill="#ae9274"/>
<path d="M134.7,15.2 Q136.2,27.2 143.79999999999998,32.944" stroke="#806548" stroke-width="0.8" fill="none"/>
<rect x="133.2" y="9.2" width="14.6" height="1.2" fill="#806548" opacity="0.5"/>
<ellipse cx="137.7" cy="39.727999999999994" rx="1.6" ry="0.9" fill="#7a5c40"/>
<rect x="133.2" y="47.099999999999994" width="14.6" height="1.0" fill="#b8d0c0"/>
<rect x="133.2" y="49.39999999999999" width="14.6" height="2.2" fill="#7a5c40" opacity="0.6"/>
<rect x="164.6" y="9.0" width="15.3" height="41.9" fill="#6d9494"/>
<rect x="164.6" y="32.045" width="15.3" height="18.855" fill="#739898"/>
<path d="M166.1,15.0 Q167.6,27.0 175.9,32.464" stroke="#4f7070" stroke-width="0.8" fill="none"/>
<rect x="164.6" y="9.0" width="15.3" height="1.2" fill="#4f7070" opacity="0.5"/>
<ellipse cx="169.1" cy="39.168" rx="1.6" ry="0.9" fill="#4a6a5a"/>
<rect x="164.6" y="46.4" width="15.3" height="1.0" fill="#c8c8a8"/>
<rect x="164.6" y="48.699999999999996" width="15.3" height="2.2" fill="#4a6a5a" opacity="0.6"/>
<text x="125.4" y="19.3" font-family="Liberation Serif" font-weight="bold" font-size="8.0" text-anchor="middle" fill="#000" stroke="#000" stroke-width="0.24" >Ox.</text>
<text x="125.6" y="47.8" font-family="Liberation Serif" font-weight="bold" font-size="8.0" text-anchor="middle" fill="#000" stroke="#000" stroke-width="0.24" >Re.</text>
<line x1="119.6" y1="23.1" x2="129.6" y2="23.1" stroke="#666" stroke-width="0.8" />
<path d="M128.6,21.7 L131.79999999999998,23.1 L128.6,24.5 Z" fill="#111"/>
<line x1="121.6" y1="37.7" x2="131.6" y2="37.7" stroke="#666" stroke-width="0.8" />
<path d="M122.8,36.3 L119.6,37.7 L122.8,39.1 Z" fill="#111"/>
<text x="156" y="19.3" font-family="Liberation Serif" font-weight="bold" font-size="8.0" text-anchor="middle" fill="#000" stroke="#000" stroke-width="0.24" >Ox.</text>
<text x="156.2" y="47.8" font-family="Liberation Serif" font-weight="bold" font-size="8.0" text-anchor="middle" fill="#000" stroke="#000" stroke-width="0.24" >Re.</text>
<line x1="150.2" y1="23.1" x2="160.2" y2="23.1" stroke="#666" stroke-width="0.8" />
<path d="M159.2,21.7 L162.39999999999998,23.1 L159.2,24.5 Z" fill="#111"/>
<line x1="152.2" y1="37.7" x2="162.2" y2="37.7" stroke="#666" stroke-width="0.8" />
<path d="M153.39999999999998,36.3 L150.2,37.7 L153.39999999999998,39.1 Z" fill="#111"/>
<text x="303.5" y="12.2" font-family="Liberation Serif" font-weight="bold" font-size="9.8" text-anchor="middle" fill="#000" stroke="#000" stroke-width="0.29" >(b)</text>
<rect x="332" y="3.2" width="143.4" height="159.4" fill="#100a10"/>
<clipPath id="cie"><path d="M378.0,136.1 L377.9,136.1 L377.8,136.1 L377.6,136.1 L377.3,135.9 L376.7,135.3 L375.6,134.4 L373.9,132.8 L372.7,131.4 L371.1,128.9 L369.1,125.0 L366.6,118.7 L363.5,109.4 L360.3,96.6 L357.3,80.5 L355.2,63.4 L354.6,47.6 L356.0,34.5 L359.4,26.1 L364.3,23.2 L369.8,24.2 L375.3,27.0 L380.6,30.3 L385.6,34.0 L390.6,38.1 L395.5,42.4 L400.4,47.0 L405.3,51.7 L410.2,56.4 L415.1,61.2 L419.8,65.9 L424.5,70.5 L428.9,74.9 L433.1,79.0 L436.9,82.8 L440.2,86.0 L445.5,91.3 L449.0,94.8 L451.3,97.0 L453.2,98.5 L454.3,100.0 L455.0,100.6 Z"/></clipPath>
<line x1="354.1" y1="14.1" x2="354.1" y2="143.9" stroke="#c9c6c6" stroke-width="0.9" />
<line x1="367.83" y1="14.1" x2="367.83" y2="143.9" stroke="#c9c6c6" stroke-width="0.9" />
<line x1="381.56" y1="14.1" x2="381.56" y2="143.9" stroke="#c9c6c6" stroke-width="0.9" />
<line x1="395.29" y1="14.1" x2="395.29" y2="143.9" stroke="#c9c6c6" stroke-width="0.9" />
<line x1="409.02" y1="14.1" x2="409.02" y2="143.9" stroke="#c9c6c6" stroke-width="0.9" />
<line x1="422.75" y1="14.1" x2="422.75" y2="143.9" stroke="#c9c6c6" stroke-width="0.9" />
<line x1="436.48" y1="14.1" x2="436.48" y2="143.9" stroke="#c9c6c6" stroke-width="0.9" />
<line x1="450.21" y1="14.1" x2="450.21" y2="143.9" stroke="#c9c6c6" stroke-width="0.9" />
<line x1="463.94" y1="14.1" x2="463.94" y2="143.9" stroke="#c9c6c6" stroke-width="0.9" />
<line x1="347" y1="136.8" x2="464" y2="136.8" stroke="#c9c6c6" stroke-width="0.9" />
<line x1="347" y1="123.17" x2="464" y2="123.17" stroke="#c9c6c6" stroke-width="0.9" />
<line x1="347" y1="109.54" x2="464" y2="109.54" stroke="#c9c6c6" stroke-width="0.9" />
<line x1="347" y1="95.91" x2="464" y2="95.91" stroke="#c9c6c6" stroke-width="0.9" />
<line x1="347" y1="82.28" x2="464" y2="82.28" stroke="#c9c6c6" stroke-width="0.9" />
<line x1="347" y1="68.65" x2="464" y2="68.65" stroke="#c9c6c6" stroke-width="0.9" />
<line x1="347" y1="55.02" x2="464" y2="55.02" stroke="#c9c6c6" stroke-width="0.9" />
<line x1="347" y1="41.39" x2="464" y2="41.39" stroke="#c9c6c6" stroke-width="0.9" />
<line x1="347" y1="27.76" x2="464" y2="27.76" stroke="#c9c6c6" stroke-width="0.9" />
<line x1="347" y1="14.13" x2="464" y2="14.13" stroke="#c9c6c6" stroke-width="0.9" />
<line x1="347" y1="14.1" x2="347" y2="143.9" stroke="#c9c6c6" stroke-width="0.9" />
<line x1="347" y1="143.9" x2="464" y2="143.9" stroke="#c9c6c6" stroke-width="0.9" />
<g clip-path="url(#cie)">
<defs><linearGradient id="g20" gradientUnits="userSpaceOnUse" x1="354.1" y1="0" x2="457.1" y2="0"><stop offset="0.000" stop-color="#22e022"/><stop offset="0.050" stop-color="#22e022"/><stop offset="0.100" stop-color="#22e022"/><stop offset="0.150" stop-color="#23e022"/><stop offset="0.200" stop-color="#26e021"/><stop offset="0.250" stop-color="#2be021"/><stop offset="0.300" stop-color="#2fe020"/><stop offset="0.350" stop-color="#30e020"/><stop offset="0.400" stop-color="#31e020"/><stop offset="0.450" stop-color="#37e11f"/><stop offset="0.500" stop-color="#5de319"/><stop offset="0.550" stop-color="#8de712"/><stop offset="0.600" stop-color="#99e712"/><stop offset="0.650" stop-color="#95d339"/><stop offset="0.700" stop-color="#83b07d"/><stop offset="0.750" stop-color="#82ad81"/><stop offset="0.800" stop-color="#82ad81"/><stop offset="0.850" stop-color="#82ad81"/><stop offset="0.900" stop-color="#82ad81"/><stop offset="0.950" stop-color="#82ad81"/><stop offset="1.000" stop-color="#82ad81"/></linearGradient><linearGradient id="g22" gradientUnits="userSpaceOnUse" x1="354.1" y1="0" x2="457.1" y2="0"><stop offset="0.000" stop-color="#22e022"/><stop offset="0.050" stop-color="#22e022"/><stop offset="0.100" stop-color="#23e022"/><stop offset="0.150" stop-color="#24e022"/><stop offset="0.200" stop-color="#28e021"/><stop offset="0.250" stop-color="#2de020"/><stop offset="0.300" stop-color="#2fe020"/><stop offset="0.350" stop-color="#30e020"/><stop offset="0.400" stop-color="#32e020"/><stop offset="0.450" stop-color="#3fe11e"/><stop offset="0.500" stop-color="#74e516"/><stop offset="0.550" stop-color="#94e811"/><stop offset="0.600" stop-color="#9be810"/><stop offset="0.650" stop-color="#a1e31a"/><stop offset="0.700" stop-color="#8dba69"/><stop offset="0.750" stop-color="#82ae80"/><stop offset="0.800" stop-color="#82ad81"/><stop offset="0.850" stop-color="#82ad81"/><stop offset="0.900" stop-color="#82ad81"/><stop offset="0.950" stop-color="#82ad81"/><stop offset="1.000" stop-color="#82ad81"/></linearGradient><linearGradient id="g24" gradientUnits="userSpaceOnUse" x1="354.1" y1="0" x2="457.1" y2="0"><stop offset="0.000" stop-color="#22e022"/><stop offset="0.050" stop-color="#22e022"/><stop offset="0.100" stop-color="#23e022"/><stop offset="0.150" stop-color="#26e022"/><stop offset="0.200" stop-color="#2ae021"/><stop offset="0.250" stop-color="#2ee020"/><stop offset="0.300" stop-color="#30e020"/><stop offset="0.350" stop-color="#30e020"/><stop offset="0.400" stop-color="#34e01f"/><stop offset="0.450" stop-color="#50e21b"/><stop offset="0.500" stop-color="#87e713"/><stop offset="0.550" stop-color="#98e810"/><stop offset="0.600" stop-color="#9de810"/><stop offset="0.650" stop-color="#a8e712"/><stop offset="0.700" stop-color="#a9d339"/><stop offset="0.750" stop-color="#87b17a"/><stop offset="0.800" stop-color="#82ad81"/><stop offset="0.850" stop-color="#82ad81"/><stop offset="0.900" stop-color="#82ad81"/><stop offset="0.950" stop-color="#82ad81"/><stop offset="1.000" stop-color="#82ad81"/></linearGradient><linearGradient id="g26" gradientUnits="userSpaceOnUse" x1="354.1" y1="0" x2="457.1" y2="0"><stop offset="0.000" stop-color="#22e022"/><stop offset="0.050" stop-color="#22e022"/><stop offset="0.100" stop-color="#24e022"/><stop offset="0.150" stop-color="#27e021"/><stop offset="0.200" stop-color="#2ce021"/><stop offset="0.250" stop-color="#2fe020"/><stop offset="0.300" stop-color="#30e020"/><stop offset="0.350" stop-color="#31e020"/><stop offset="0.400" stop-color="#3ae11f"/><stop offset="0.450" stop-color="#67e418"/><stop offset="0.500" stop-color="#91e711"/><stop offset="0.550" stop-color="#99e810"/><stop offset="0.600" stop-color="#a0e810"/><stop offset="0.650" stop-color="#afe810"/><stop offset="0.700" stop-color="#c2e418"/><stop offset="0.750" stop-color="#9fc15a"/><stop offset="0.800" stop-color="#83ae7f"/><stop offset="0.850" stop-color="#82ad81"/><stop offset="0.900" stop-color="#82ad81"/><stop offset="0.950" stop-color="#82ad81"/><stop offset="1.000" stop-color="#82ad81"/></linearGradient><linearGradient id="g28" gradientUnits="userSpaceOnUse" x1="354.1" y1="0" x2="457.1" y2="0"><stop offset="0.000" stop-color="#22e022"/><stop offset="0.050" stop-color="#22e022"/><stop offset="0.100" stop-color="#25e022"/><stop offset="0.150" stop-color="#29e021"/><stop offset="0.200" stop-color="#2ee020"/><stop offset="0.250" stop-color="#2fe020"/><stop offset="0.300" stop-color="#30e020"/><stop offset="0.350" stop-color="#33e020"/><stop offset="0.400" stop-color="#46e21d"/><stop offset="0.450" stop-color="#7de614"/><stop offset="0.500" stop-color="#96e811"/><stop offset="0.550" stop-color="#9be810"/><stop offset="0.600" stop-color="#a3e810"/><stop offset="0.650" stop-color="#b6e90f"/><stop offset="0.700" stop-color="#cee80f"/><stop offset="0.750" stop-color="#cadb26"/><stop offset="0.800" stop-color="#8eb473"/><stop offset="0.850" stop-color="#82ad81"/><stop offset="0.900" stop-color="#82ad81"/><stop offset="0.950" stop-color="#82ad81"/><stop offset="1.000" stop-color="#82ad81"/></linearGradient><linearGradient id="g30" gradientUnits="userSpaceOnUse" x1="354.1" y1="0" x2="457.1" y2="0"><stop offset="0.000" stop-color="#21e023"/><stop offset="0.050" stop-color="#22e022"/><stop offset="0.100" stop-color="#26e022"/><stop offset="0.150" stop-color="#2be021"/><stop offset="0.200" stop-color="#2fe020"/><stop offset="0.250" stop-color="#30e020"/><stop offset="0.300" stop-color="#31e020"/><stop offset="0.350" stop-color="#36e01f"/><stop offset="0.400" stop-color="#59e31a"/><stop offset="0.450" stop-color="#8be712"/><stop offset="0.500" stop-color="#98e810"/><stop offset="0.550" stop-color="#9de810"/><stop offset="0.600" stop-color="#a8e910"/><stop offset="0.650" stop-color="#bee90f"/><stop offset="0.700" stop-color="#d4e90c"/><stop offset="0.750" stop-color="#dde60f"/><stop offset="0.800" stop-color="#b2c948"/><stop offset="0.850" stop-color="#84af7e"/><stop offset="0.900" stop-color="#82ad81"/><stop offset="0.950" stop-color="#82ad81"/><stop offset="1.000" stop-color="#82ad81"/></linearGradient><linearGradient id="g32" gradientUnits="userSpaceOnUse" x1="354.1" y1="0" x2="457.1" y2="0"><stop offset="0.000" stop-color="#1de026"/><stop offset="0.050" stop-color="#21e024"/><stop offset="0.100" stop-color="#27e022"/><stop offset="0.150" stop-color="#2de021"/><stop offset="0.200" stop-color="#2fe020"/><stop offset="0.250" stop-color="#30e020"/><stop offset="0.300" stop-color="#32e020"/><stop offset="0.350" stop-color="#3ee11e"/><stop offset="0.400" stop-color="#70e516"/><stop offset="0.450" stop-color="#92e711"/><stop offset="0.500" stop-color="#99e810"/><stop offset="0.550" stop-color="#a0e810"/><stop offset="0.600" stop-color="#aee910"/><stop offset="0.650" stop-color="#c5e90e"/><stop offset="0.700" stop-color="#d9e90b"/><stop offset="0.750" stop-color="#e2e80a"/><stop offset="0.800" stop-color="#d7df1b"/><stop offset="0.850" stop-color="#8eb472"/><stop offset="0.900" stop-color="#82ad81"/><stop offset="0.950" stop-color="#82ad81"/><stop offset="1.000" stop-color="#82ad81"/></linearGradient><linearGradient id="g34" gradientUnits="userSpaceOnUse" x1="354.1" y1="0" x2="457.1" y2="0"><stop offset="0.000" stop-color="#18e02a"/><stop offset="0.050" stop-color="#1ee027"/><stop offset="0.100" stop-color="#27e023"/><stop offset="0.150" stop-color="#2de021"/><stop offset="0.200" stop-color="#30e020"/><stop offset="0.250" stop-color="#31e020"/><stop offset="0.300" stop-color="#35e01f"/><stop offset="0.350" stop-color="#4de21c"/><stop offset="0.400" stop-color="#81e614"/><stop offset="0.450" stop-color="#95e811"/><stop offset="0.500" stop-color="#9be810"/><stop offset="0.550" stop-color="#a3e810"/><stop offset="0.600" stop-color="#b4e90f"/><stop offset="0.650" stop-color="#cbe90d"/><stop offset="0.700" stop-color="#dce90b"/><stop offset="0.750" stop-color="#e4e809"/><stop offset="0.800" stop-color="#e4e60c"/><stop offset="0.850" stop-color="#b0c74b"/><stop offset="0.900" stop-color="#83ae7f"/><stop offset="0.950" stop-color="#82ad81"/><stop offset="1.000" stop-color="#82ad81"/></linearGradient><linearGradient id="g36" gradientUnits="userSpaceOnUse" x1="354.1" y1="0" x2="457.1" y2="0"><stop offset="0.000" stop-color="#13e02e"/><stop offset="0.050" stop-color="#19e02a"/><stop offset="0.100" stop-color="#25e025"/><stop offset="0.150" stop-color="#2ee021"/><stop offset="0.200" stop-color="#30e020"/><stop offset="0.250" stop-color="#32e020"/><stop offset="0.300" stop-color="#3be11f"/><stop offset="0.350" stop-color="#60e319"/><stop offset="0.400" stop-color="#8ae712"/><stop offset="0.450" stop-color="#97e810"/><stop offset="0.500" stop-color="#9de810"/><stop offset="0.550" stop-color="#a7e910"/><stop offset="0.600" stop-color="#bbe90f"/><stop offset="0.650" stop-color="#d0e90d"/><stop offset="0.700" stop-color="#dfe80a"/><stop offset="0.750" stop-color="#e5e809"/><stop offset="0.800" stop-color="#e7e709"/><stop offset="0.850" stop-color="#d6db1e"/><stop offset="0.900" stop-color="#8ab177"/><stop offset="0.950" stop-color="#82ad81"/><stop offset="1.000" stop-color="#82ad81"/></linearGradient><linearGradient id="g38" gradientUnits="userSpaceOnUse" x1="354.1" y1="0" x2="457.1" y2="0"><stop offset="0.000" stop-color="#11e02f"/><stop offset="0.050" stop-color="#14e02d"/><stop offset="0.100" stop-color="#20e027"/><stop offset="0.150" stop-color="#2de022"/><stop offset="0.200" stop-color="#31e020"/><stop offset="0.250" stop-color="#35e020"/><stop offset="0.300" stop-color="#45e11e"/><stop offset="0.350" stop-color="#70e417"/><stop offset="0.400" stop-color="#8fe712"/><stop offset="0.450" stop-color="#98e810"/><stop offset="0.500" stop-color="#9fe810"/><stop offset="0.550" stop-color="#ade910"/><stop offset="0.600" stop-color="#c2e90f"/><stop offset="0.650" stop-color="#d5e90c"/><stop offset="0.700" stop-color="#e1e80a"/><stop offset="0.750" stop-color="#e6e808"/><stop offset="0.800" stop-color="#e8e708"/><stop offset="0.850" stop-color="#e6e20b"/><stop offset="0.900" stop-color="#a8be56"/><stop offset="0.950" stop-color="#83ae80"/><stop offset="1.000" stop-color="#82ad81"/></linearGradient><linearGradient id="g40" gradientUnits="userSpaceOnUse" x1="354.1" y1="0" x2="457.1" y2="0"><stop offset="0.000" stop-color="#10e030"/><stop offset="0.050" stop-color="#12e02f"/><stop offset="0.100" stop-color="#1be02a"/><stop offset="0.150" stop-color="#2be023"/><stop offset="0.200" stop-color="#33e020"/><stop offset="0.250" stop-color="#3be01f"/><stop offset="0.300" stop-color="#51e21c"/><stop offset="0.350" stop-color="#79e516"/><stop offset="0.400" stop-color="#91e712"/><stop offset="0.450" stop-color="#9ae810"/><stop offset="0.500" stop-color="#a3e810"/><stop offset="0.550" stop-color="#b3e910"/><stop offset="0.600" stop-color="#c8e90e"/><stop offset="0.650" stop-color="#d9e90b"/><stop offset="0.700" stop-color="#e3e809"/><stop offset="0.750" stop-color="#e7e808"/><stop offset="0.800" stop-color="#e9e707"/><stop offset="0.850" stop-color="#ebe206"/><stop offset="0.900" stop-color="#d6cf21"/><stop offset="0.950" stop-color="#8bb077"/><stop offset="1.000" stop-color="#82ad81"/></linearGradient><linearGradient id="g42" gradientUnits="userSpaceOnUse" x1="354.1" y1="0" x2="457.1" y2="0"><stop offset="0.000" stop-color="#10e030"/><stop offset="0.050" stop-color="#11e030"/><stop offset="0.100" stop-color="#17e02d"/><stop offset="0.150" stop-color="#29e025"/><stop offset="0.200" stop-color="#37e020"/><stop offset="0.250" stop-color="#42e01f"/><stop offset="0.300" stop-color="#5be21b"/><stop offset="0.350" stop-color="#7ee515"/><stop offset="0.400" stop-color="#92e711"/><stop offset="0.450" stop-color="#9ce810"/><stop offset="0.500" stop-color="#a7e910"/><stop offset="0.550" stop-color="#b9e90f"/><stop offset="0.600" stop-color="#cde90e"/><stop offset="0.650" stop-color="#dce90b"/><stop offset="0.700" stop-color="#e4e809"/><stop offset="0.750" stop-color="#e7e808"/><stop offset="0.800" stop-color="#eae607"/><stop offset="0.850" stop-color="#eee004"/><stop offset="0.900" stop-color="#ecd508"/><stop offset="0.950" stop-color="#acb752"/><stop offset="1.000" stop-color="#84ad7f"/></linearGradient><linearGradient id="g44" gradientUnits="userSpaceOnUse" x1="354.1" y1="0" x2="457.1" y2="0"><stop offset="0.000" stop-color="#10e030"/><stop offset="0.050" stop-color="#10e030"/><stop offset="0.100" stop-color="#14e02e"/><stop offset="0.150" stop-color="#28e026"/><stop offset="0.200" stop-color="#3ce021"/><stop offset="0.250" stop-color="#49e11f"/><stop offset="0.300" stop-color="#60e31b"/><stop offset="0.350" stop-color="#80e615"/><stop offset="0.400" stop-color="#93e711"/><stop offset="0.450" stop-color="#9ee810"/><stop offset="0.500" stop-color="#ace910"/><stop offset="0.550" stop-color="#bfe90f"/><stop offset="0.600" stop-color="#d1e90d"/><stop offset="0.650" stop-color="#dee90a"/><stop offset="0.700" stop-color="#e5e809"/><stop offset="0.750" stop-color="#e8e708"/><stop offset="0.800" stop-color="#ebe406"/><stop offset="0.850" stop-color="#f0de03"/><stop offset="0.900" stop-color="#f2d302"/><stop offset="0.950" stop-color="#dcbd1c"/><stop offset="1.000" stop-color="#8eae74"/></linearGradient><linearGradient id="g46" gradientUnits="userSpaceOnUse" x1="354.1" y1="0" x2="457.1" y2="0"><stop offset="0.000" stop-color="#10e030"/><stop offset="0.050" stop-color="#10e030"/><stop offset="0.100" stop-color="#13e02f"/><stop offset="0.150" stop-color="#27e028"/><stop offset="0.200" stop-color="#41e021"/><stop offset="0.250" stop-color="#4de11e"/><stop offset="0.300" stop-color="#63e31a"/><stop offset="0.350" stop-color="#81e615"/><stop offset="0.400" stop-color="#95e711"/><stop offset="0.450" stop-color="#a1e810"/><stop offset="0.500" stop-color="#b2e910"/><stop offset="0.550" stop-color="#c5e90f"/><stop offset="0.600" stop-color="#d5e90c"/><stop offset="0.650" stop-color="#e0e80a"/><stop offset="0.700" stop-color="#e6e808"/><stop offset="0.750" stop-color="#e9e707"/><stop offset="0.800" stop-color="#ede305"/><stop offset="0.850" stop-color="#f1db02"/><stop offset="0.900" stop-color="#f4cf01"/><stop offset="0.950" stop-color="#f1bc06"/><stop offset="1.000" stop-color="#b5ad4a"/></linearGradient><linearGradient id="g48" gradientUnits="userSpaceOnUse" x1="354.1" y1="0" x2="457.1" y2="0"><stop offset="0.000" stop-color="#10e030"/><stop offset="0.050" stop-color="#10e030"/><stop offset="0.100" stop-color="#13e02f"/><stop offset="0.150" stop-color="#28e029"/><stop offset="0.200" stop-color="#44e021"/><stop offset="0.250" stop-color="#4fe11e"/><stop offset="0.300" stop-color="#64e31a"/><stop offset="0.350" stop-color="#82e615"/><stop offset="0.400" stop-color="#97e811"/><stop offset="0.450" stop-color="#a6e810"/><stop offset="0.500" stop-color="#b8e910"/><stop offset="0.550" stop-color="#c9e90e"/><stop offset="0.600" stop-color="#d8e90c"/><stop offset="0.650" stop-color="#e2e809"/><stop offset="0.700" stop-color="#e7e808"/><stop offset="0.750" stop-color="#eae607"/><stop offset="0.800" stop-color="#eee104"/><stop offset="0.850" stop-color="#f3d801"/><stop offset="0.900" stop-color="#f5ca00"/><stop offset="0.950" stop-color="#f5b702"/><stop offset="1.000" stop-color="#e2a918"/></linearGradient><linearGradient id="g50" gradientUnits="userSpaceOnUse" x1="354.1" y1="0" x2="457.1" y2="0"><stop offset="0.000" stop-color="#10e030"/><stop offset="0.050" stop-color="#10e030"/><stop offset="0.100" stop-color="#13e030"/><stop offset="0.150" stop-color="#2ae029"/><stop offset="0.200" stop-color="#46e021"/><stop offset="0.250" stop-color="#50e11e"/><stop offset="0.300" stop-color="#65e31a"/><stop offset="0.350" stop-color="#83e615"/><stop offset="0.400" stop-color="#99e812"/><stop offset="0.450" stop-color="#abe911"/><stop offset="0.500" stop-color="#bde910"/><stop offset="0.550" stop-color="#cde90e"/><stop offset="0.600" stop-color="#dbe90b"/><stop offset="0.650" stop-color="#e4e809"/><stop offset="0.700" stop-color="#e8e708"/><stop offset="0.750" stop-color="#ebe406"/><stop offset="0.800" stop-color="#f0de03"/><stop offset="0.850" stop-color="#f3d501"/><stop offset="0.900" stop-color="#f6c500"/><stop offset="0.950" stop-color="#f7b201"/><stop offset="1.000" stop-color="#f2a408"/></linearGradient><linearGradient id="g52" gradientUnits="userSpaceOnUse" x1="354.1" y1="0" x2="457.1" y2="0"><stop offset="0.000" stop-color="#10e030"/><stop offset="0.050" stop-color="#10e030"/><stop offset="0.100" stop-color="#14e030"/><stop offset="0.150" stop-color="#2ce02a"/><stop offset="0.200" stop-color="#46e021"/><stop offset="0.250" stop-color="#50e11e"/><stop offset="0.300" stop-color="#65e31a"/><stop offset="0.350" stop-color="#85e615"/><stop offset="0.400" stop-color="#9de812"/><stop offset="0.450" stop-color="#b0e911"/><stop offset="0.500" stop-color="#c2e910"/><stop offset="0.550" stop-color="#d1e90e"/><stop offset="0.600" stop-color="#dde90b"/><stop offset="0.650" stop-color="#e5e809"/><stop offset="0.700" stop-color="#e9e707"/><stop offset="0.750" stop-color="#ede305"/><stop offset="0.800" stop-color="#f1dc02"/><stop offset="0.850" stop-color="#f4d101"/><stop offset="0.900" stop-color="#f6bf00"/><stop offset="0.950" stop-color="#f7ae01"/><stop offset="1.000" stop-color="#f69f05"/></linearGradient><linearGradient id="g54" gradientUnits="userSpaceOnUse" x1="354.1" y1="0" x2="457.1" y2="0"><stop offset="0.000" stop-color="#10e031"/><stop offset="0.050" stop-color="#11e031"/><stop offset="0.100" stop-color="#15e032"/><stop offset="0.150" stop-color="#2ce02d"/><stop offset="0.200" stop-color="#45e023"/><stop offset="0.250" stop-color="#50e11f"/><stop offset="0.300" stop-color="#66e31b"/><stop offset="0.350" stop-color="#87e615"/><stop offset="0.400" stop-color="#a2e813"/><stop offset="0.450" stop-color="#b6e912"/><stop offset="0.500" stop-color="#c6e910"/><stop offset="0.550" stop-color="#d4e90d"/><stop offset="0.600" stop-color="#e0e80a"/><stop offset="0.650" stop-color="#e6e808"/><stop offset="0.700" stop-color="#eae607"/><stop offset="0.750" stop-color="#eee104"/><stop offset="0.800" stop-color="#f2d901"/><stop offset="0.850" stop-color="#f5cc00"/><stop offset="0.900" stop-color="#f6ba01"/><stop offset="0.950" stop-color="#f7a902"/><stop offset="1.000" stop-color="#f69a06"/></linearGradient><linearGradient id="g56" gradientUnits="userSpaceOnUse" x1="354.1" y1="0" x2="457.1" y2="0"><stop offset="0.000" stop-color="#10e032"/><stop offset="0.050" stop-color="#12e033"/><stop offset="0.100" stop-color="#18e036"/><stop offset="0.150" stop-color="#2ae032"/><stop offset="0.200" stop-color="#42e026"/><stop offset="0.250" stop-color="#50e120"/><stop offset="0.300" stop-color="#68e31b"/><stop offset="0.350" stop-color="#8be616"/><stop offset="0.400" stop-color="#a7e814"/><stop offset="0.450" stop-color="#bae913"/><stop offset="0.500" stop-color="#c9e910"/><stop offset="0.550" stop-color="#d7e90d"/><stop offset="0.600" stop-color="#e1e80a"/><stop offset="0.650" stop-color="#e7e708"/><stop offset="0.700" stop-color="#ebe406"/><stop offset="0.750" stop-color="#f0df03"/><stop offset="0.800" stop-color="#f3d601"/><stop offset="0.850" stop-color="#f5c700"/><stop offset="0.900" stop-color="#f7b501"/><stop offset="0.950" stop-color="#f7a503"/><stop offset="1.000" stop-color="#f59508"/></linearGradient><linearGradient id="g58" gradientUnits="userSpaceOnUse" x1="354.1" y1="0" x2="457.1" y2="0"><stop offset="0.000" stop-color="#10e036"/><stop offset="0.050" stop-color="#14e038"/><stop offset="0.100" stop-color="#1be03b"/><stop offset="0.150" stop-color="#27e038"/><stop offset="0.200" stop-color="#3ce02c"/><stop offset="0.250" stop-color="#4ee122"/><stop offset="0.300" stop-color="#6ae31d"/><stop offset="0.350" stop-color="#91e719"/><stop offset="0.400" stop-color="#ace817"/><stop offset="0.450" stop-color="#bde915"/><stop offset="0.500" stop-color="#cbe911"/><stop offset="0.550" stop-color="#d9e90d"/><stop offset="0.600" stop-color="#e3e80a"/><stop offset="0.650" stop-color="#e8e708"/><stop offset="0.700" stop-color="#ede305"/><stop offset="0.750" stop-color="#f1dc02"/><stop offset="0.800" stop-color="#f4d201"/><stop offset="0.850" stop-color="#f6c200"/><stop offset="0.900" stop-color="#f7b001"/><stop offset="0.950" stop-color="#f6a004"/><stop offset="1.000" stop-color="#f58f0a"/></linearGradient><linearGradient id="g60" gradientUnits="userSpaceOnUse" x1="354.1" y1="0" x2="457.1" y2="0"><stop offset="0.000" stop-color="#0fe03f"/><stop offset="0.050" stop-color="#16e03f"/><stop offset="0.100" stop-color="#1de03f"/><stop offset="0.150" stop-color="#24e03d"/><stop offset="0.200" stop-color="#34e033"/><stop offset="0.250" stop-color="#4be127"/><stop offset="0.300" stop-color="#6de420"/><stop offset="0.350" stop-color="#97e71d"/><stop offset="0.400" stop-color="#afe91b"/><stop offset="0.450" stop-color="#bee917"/><stop offset="0.500" stop-color="#cde912"/><stop offset="0.550" stop-color="#dbe90d"/><stop offset="0.600" stop-color="#e5e80a"/><stop offset="0.650" stop-color="#e9e607"/><stop offset="0.700" stop-color="#eee104"/><stop offset="0.750" stop-color="#f2da01"/><stop offset="0.800" stop-color="#f5ce00"/><stop offset="0.850" stop-color="#f6bd01"/><stop offset="0.900" stop-color="#f7ab02"/><stop offset="0.950" stop-color="#f69b06"/><stop offset="1.000" stop-color="#f4890c"/></linearGradient><linearGradient id="g62" gradientUnits="userSpaceOnUse" x1="354.1" y1="0" x2="457.1" y2="0"><stop offset="0.000" stop-color="#0ce04a"/><stop offset="0.050" stop-color="#15e045"/><stop offset="0.100" stop-color="#1de041"/><stop offset="0.150" stop-color="#23e03f"/><stop offset="0.200" stop-color="#2fe039"/><stop offset="0.250" stop-color="#47e12f"/><stop offset="0.300" stop-color="#70e427"/><stop offset="0.350" stop-color="#9ce723"/><stop offset="0.400" stop-color="#b0e920"/><stop offset="0.450" stop-color="#bee91a"/><stop offset="0.500" stop-color="#cee913"/><stop offset="0.550" stop-color="#dde90d"/><stop offset="0.600" stop-color="#e6e70a"/><stop offset="0.650" stop-color="#ebe407"/><stop offset="0.700" stop-color="#f0df03"/><stop offset="0.750" stop-color="#f3d701"/><stop offset="0.800" stop-color="#f5ca00"/><stop offset="0.850" stop-color="#f6b701"/><stop offset="0.900" stop-color="#f7a603"/><stop offset="0.950" stop-color="#f59607"/><stop offset="1.000" stop-color="#f3820e"/></linearGradient><linearGradient id="g64" gradientUnits="userSpaceOnUse" x1="354.1" y1="0" x2="457.1" y2="0"><stop offset="0.000" stop-color="#09e050"/><stop offset="0.050" stop-color="#13e049"/><stop offset="0.100" stop-color="#1ce043"/><stop offset="0.150" stop-color="#22e040"/><stop offset="0.200" stop-color="#2de03d"/><stop offset="0.250" stop-color="#43e138"/><stop offset="0.300" stop-color="#71e430"/><stop offset="0.350" stop-color="#9ee72a"/><stop offset="0.400" stop-color="#b0e925"/><stop offset="0.450" stop-color="#bde91e"/><stop offset="0.500" stop-color="#cfe916"/><stop offset="0.550" stop-color="#e0e80f"/><stop offset="0.600" stop-color="#e8e70b"/><stop offset="0.650" stop-color="#ede307"/><stop offset="0.700" stop-color="#f1dd02"/><stop offset="0.750" stop-color="#f4d401"/><stop offset="0.800" stop-color="#f6c500"/><stop offset="0.850" stop-color="#f7b201"/><stop offset="0.900" stop-color="#f6a104"/><stop offset="0.950" stop-color="#f59009"/><stop offset="1.000" stop-color="#f27c10"/></linearGradient><linearGradient id="g66" gradientUnits="userSpaceOnUse" x1="354.1" y1="0" x2="457.1" y2="0"><stop offset="0.000" stop-color="#06e053"/><stop offset="0.050" stop-color="#10e04c"/><stop offset="0.100" stop-color="#1be045"/><stop offset="0.150" stop-color="#22e042"/><stop offset="0.200" stop-color="#2de040"/><stop offset="0.250" stop-color="#42e13d"/><stop offset="0.300" stop-color="#6ee438"/><stop offset="0.350" stop-color="#9be730"/><stop offset="0.400" stop-color="#ade82a"/><stop offset="0.450" stop-color="#bbe923"/><stop offset="0.500" stop-color="#d0e91b"/><stop offset="0.550" stop-color="#e2e814"/><stop offset="0.600" stop-color="#e9e60d"/><stop offset="0.650" stop-color="#eee107"/><stop offset="0.700" stop-color="#f2db02"/><stop offset="0.750" stop-color="#f4d100"/><stop offset="0.800" stop-color="#f6bf00"/><stop offset="0.850" stop-color="#f7ad02"/><stop offset="0.900" stop-color="#f69c05"/><stop offset="0.950" stop-color="#f4890c"/><stop offset="1.000" stop-color="#f27712"/></linearGradient><linearGradient id="g68" gradientUnits="userSpaceOnUse" x1="354.1" y1="0" x2="457.1" y2="0"><stop offset="0.000" stop-color="#05e055"/><stop offset="0.050" stop-color="#0ee04e"/><stop offset="0.100" stop-color="#19e047"/><stop offset="0.150" stop-color="#23e043"/><stop offset="0.200" stop-color="#2fe041"/><stop offset="0.250" stop-color="#43e140"/><stop offset="0.300" stop-color="#6ae43e"/><stop offset="0.350" stop-color="#96e736"/><stop offset="0.400" stop-color="#aae82f"/><stop offset="0.450" stop-color="#bae929"/><stop offset="0.500" stop-color="#d3e922"/><stop offset="0.550" stop-color="#e4e91b"/><stop offset="0.600" stop-color="#ece611"/><stop offset="0.650" stop-color="#f0e007"/><stop offset="0.700" stop-color="#f3d802"/><stop offset="0.750" stop-color="#f5cc00"/><stop offset="0.800" stop-color="#f6ba01"/><stop offset="0.850" stop-color="#f7a803"/><stop offset="0.900" stop-color="#f59607"/><stop offset="0.950" stop-color="#f3830e"/><stop offset="1.000" stop-color="#f17114"/></linearGradient><linearGradient id="g70" gradientUnits="userSpaceOnUse" x1="354.1" y1="0" x2="457.1" y2="0"><stop offset="0.000" stop-color="#03e056"/><stop offset="0.050" stop-color="#0be051"/><stop offset="0.100" stop-color="#17e04a"/><stop offset="0.150" stop-color="#23e045"/><stop offset="0.200" stop-color="#31e043"/><stop offset="0.250" stop-color="#45e142"/><stop offset="0.300" stop-color="#67e442"/><stop offset="0.350" stop-color="#90e73c"/><stop offset="0.400" stop-color="#a6e834"/><stop offset="0.450" stop-color="#bae930"/><stop offset="0.500" stop-color="#d6ea2e"/><stop offset="0.550" stop-color="#e8e926"/><stop offset="0.600" stop-color="#eee517"/><stop offset="0.650" stop-color="#f2de08"/><stop offset="0.700" stop-color="#f4d602"/><stop offset="0.750" stop-color="#f5c800"/><stop offset="0.800" stop-color="#f6b401"/><stop offset="0.850" stop-color="#f6a204"/><stop offset="0.900" stop-color="#f59009"/><stop offset="0.950" stop-color="#f37d10"/><stop offset="1.000" stop-color="#f06c15"/></linearGradient><linearGradient id="g72" gradientUnits="userSpaceOnUse" x1="354.1" y1="0" x2="457.1" y2="0"><stop offset="0.000" stop-color="#02e057"/><stop offset="0.050" stop-color="#09e053"/><stop offset="0.100" stop-color="#15e04e"/><stop offset="0.150" stop-color="#23e049"/><stop offset="0.200" stop-color="#33e046"/><stop offset="0.250" stop-color="#47e144"/><stop offset="0.300" stop-color="#66e445"/><stop offset="0.350" stop-color="#8be741"/><stop offset="0.400" stop-color="#a2e83b"/><stop offset="0.450" stop-color="#bbea3a"/><stop offset="0.500" stop-color="#dceb3d"/><stop offset="0.550" stop-color="#ecea36"/><stop offset="0.600" stop-color="#f0e51f"/><stop offset="0.650" stop-color="#f3dd09"/><stop offset="0.700" stop-color="#f4d302"/><stop offset="0.750" stop-color="#f6c201"/><stop offset="0.800" stop-color="#f7af02"/><stop offset="0.850" stop-color="#f69d05"/><stop offset="0.900" stop-color="#f48a0b"/><stop offset="0.950" stop-color="#f27712"/><stop offset="1.000" stop-color="#ef6617"/></linearGradient><linearGradient id="g74" gradientUnits="userSpaceOnUse" x1="354.1" y1="0" x2="457.1" y2="0"><stop offset="0.000" stop-color="#02e058"/><stop offset="0.050" stop-color="#07e056"/><stop offset="0.100" stop-color="#13e054"/><stop offset="0.150" stop-color="#22e050"/><stop offset="0.200" stop-color="#34e04b"/><stop offset="0.250" stop-color="#49e247"/><stop offset="0.300" stop-color="#67e448"/><stop offset="0.350" stop-color="#87e746"/><stop offset="0.400" stop-color="#9fe842"/><stop offset="0.450" stop-color="#bfeb46"/><stop offset="0.500" stop-color="#e3ed4f"/><stop offset="0.550" stop-color="#f0eb46"/><stop offset="0.600" stop-color="#f2e528"/><stop offset="0.650" stop-color="#f4db0b"/><stop offset="0.700" stop-color="#f5cf02"/><stop offset="0.750" stop-color="#f6bd01"/><stop offset="0.800" stop-color="#f7a903"/><stop offset="0.850" stop-color="#f59707"/><stop offset="0.900" stop-color="#f3840e"/><stop offset="0.950" stop-color="#f17214"/><stop offset="1.000" stop-color="#ee5f18"/></linearGradient><linearGradient id="g76" gradientUnits="userSpaceOnUse" x1="354.1" y1="0" x2="457.1" y2="0"><stop offset="0.000" stop-color="#02e059"/><stop offset="0.050" stop-color="#06e059"/><stop offset="0.100" stop-color="#11e05b"/><stop offset="0.150" stop-color="#20e05a"/><stop offset="0.200" stop-color="#34e152"/><stop offset="0.250" stop-color="#4be24d"/><stop offset="0.300" stop-color="#69e54d"/><stop offset="0.350" stop-color="#85e74b"/><stop offset="0.400" stop-color="#9ce94a"/><stop offset="0.450" stop-color="#c5ec55"/><stop offset="0.500" stop-color="#e9ee5f"/><stop offset="0.550" stop-color="#f3ec54"/><stop offset="0.600" stop-color="#f4e531"/><stop offset="0.650" stop-color="#f4d90d"/><stop offset="0.700" stop-color="#f5cb02"/><stop offset="0.750" stop-color="#f6b701"/><stop offset="0.800" stop-color="#f6a404"/><stop offset="0.850" stop-color="#f59109"/><stop offset="0.900" stop-color="#f37d10"/><stop offset="0.950" stop-color="#f06d15"/><stop offset="1.000" stop-color="#ec5719"/></linearGradient><linearGradient id="g78" gradientUnits="userSpaceOnUse" x1="354.1" y1="0" x2="457.1" y2="0"><stop offset="0.000" stop-color="#01e05b"/><stop offset="0.050" stop-color="#06e05e"/><stop offset="0.100" stop-color="#10e065"/><stop offset="0.150" stop-color="#1ee066"/><stop offset="0.200" stop-color="#33e15d"/><stop offset="0.250" stop-color="#4de355"/><stop offset="0.300" stop-color="#6ce653"/><stop offset="0.350" stop-color="#85e851"/><stop offset="0.400" stop-color="#9de954"/><stop offset="0.450" stop-color="#cced67"/><stop offset="0.500" stop-color="#eeef6f"/><stop offset="0.550" stop-color="#f5ed62"/><stop offset="0.600" stop-color="#f5e53b"/><stop offset="0.650" stop-color="#f5d710"/><stop offset="0.700" stop-color="#f6c603"/><stop offset="0.750" stop-color="#f6b102"/><stop offset="0.800" stop-color="#f69e05"/><stop offset="0.850" stop-color="#f48b0b"/><stop offset="0.900" stop-color="#f27812"/><stop offset="0.950" stop-color="#ef6716"/><stop offset="1.000" stop-color="#ea4e1b"/></linearGradient><linearGradient id="g80" gradientUnits="userSpaceOnUse" x1="354.1" y1="0" x2="457.1" y2="0"><stop offset="0.000" stop-color="#02e05f"/><stop offset="0.050" stop-color="#06e065"/><stop offset="0.100" stop-color="#0fe070"/><stop offset="0.150" stop-color="#1be072"/><stop offset="0.200" stop-color="#31e26b"/><stop offset="0.250" stop-color="#50e464"/><stop offset="0.300" stop-color="#70e75e"/><stop offset="0.350" stop-color="#86e85a"/><stop offset="0.400" stop-color="#a1eb63"/><stop offset="0.450" stop-color="#d5ef7d"/><stop offset="0.500" stop-color="#f2f080"/><stop offset="0.550" stop-color="#f7ed6f"/><stop offset="0.600" stop-color="#f6e547"/><stop offset="0.650" stop-color="#f5d515"/><stop offset="0.700" stop-color="#f6c003"/><stop offset="0.750" stop-color="#f6ab03"/><stop offset="0.800" stop-color="#f69807"/><stop offset="0.850" stop-color="#f3840e"/><stop offset="0.900" stop-color="#f17314"/><stop offset="0.950" stop-color="#ee6118"/><stop offset="1.000" stop-color="#e8441c"/></linearGradient><linearGradient id="g82" gradientUnits="userSpaceOnUse" x1="354.1" y1="0" x2="457.1" y2="0"><stop offset="0.000" stop-color="#02e067"/><stop offset="0.050" stop-color="#06e071"/><stop offset="0.100" stop-color="#0fe07b"/><stop offset="0.150" stop-color="#1ae17e"/><stop offset="0.200" stop-color="#30e27c"/><stop offset="0.250" stop-color="#54e678"/><stop offset="0.300" stop-color="#73e86f"/><stop offset="0.350" stop-color="#8aea67"/><stop offset="0.400" stop-color="#abed78"/><stop offset="0.450" stop-color="#dff198"/><stop offset="0.500" stop-color="#f5f194"/><stop offset="0.550" stop-color="#f8ed7f"/><stop offset="0.600" stop-color="#f7e457"/><stop offset="0.650" stop-color="#f6d11d"/><stop offset="0.700" stop-color="#f6ba05"/><stop offset="0.750" stop-color="#f6a504"/><stop offset="0.800" stop-color="#f59109"/><stop offset="0.850" stop-color="#f37e10"/><stop offset="0.900" stop-color="#f06d15"/><stop offset="0.950" stop-color="#ec5919"/><stop offset="1.000" stop-color="#e63b1d"/></linearGradient><linearGradient id="g84" gradientUnits="userSpaceOnUse" x1="354.1" y1="0" x2="457.1" y2="0"><stop offset="0.000" stop-color="#02e077"/><stop offset="0.050" stop-color="#07e080"/><stop offset="0.100" stop-color="#0ee086"/><stop offset="0.150" stop-color="#19e189"/><stop offset="0.200" stop-color="#31e38d"/><stop offset="0.250" stop-color="#58e790"/><stop offset="0.300" stop-color="#77ea85"/><stop offset="0.350" stop-color="#91eb7b"/><stop offset="0.400" stop-color="#bbf095"/><stop offset="0.450" stop-color="#e9f3b5"/><stop offset="0.500" stop-color="#f8f1ac"/><stop offset="0.550" stop-color="#faeb94"/><stop offset="0.600" stop-color="#f9e06f"/><stop offset="0.650" stop-color="#f7cc2d"/><stop offset="0.700" stop-color="#f6b309"/><stop offset="0.750" stop-color="#f69e06"/><stop offset="0.800" stop-color="#f48a0c"/><stop offset="0.850" stop-color="#f27812"/><stop offset="0.900" stop-color="#ef6816"/><stop offset="0.950" stop-color="#eb501a"/><stop offset="1.000" stop-color="#e4331e"/></linearGradient><linearGradient id="g86" gradientUnits="userSpaceOnUse" x1="354.1" y1="0" x2="457.1" y2="0"><stop offset="0.000" stop-color="#02e08c"/><stop offset="0.050" stop-color="#06e090"/><stop offset="0.100" stop-color="#0ee091"/><stop offset="0.150" stop-color="#19e194"/><stop offset="0.200" stop-color="#33e49d"/><stop offset="0.250" stop-color="#5be9a5"/><stop offset="0.300" stop-color="#7bec9d"/><stop offset="0.350" stop-color="#9cee97"/><stop offset="0.400" stop-color="#cef3b5"/><stop offset="0.450" stop-color="#f1f5ce"/><stop offset="0.500" stop-color="#fbf1c2"/><stop offset="0.550" stop-color="#fbe8ab"/><stop offset="0.600" stop-color="#fbd98d"/><stop offset="0.650" stop-color="#f9c54a"/><stop offset="0.700" stop-color="#f7ab11"/><stop offset="0.750" stop-color="#f5960a"/><stop offset="0.800" stop-color="#f3830f"/><stop offset="0.850" stop-color="#f17214"/><stop offset="0.900" stop-color="#ee6218"/><stop offset="0.950" stop-color="#e9471b"/><stop offset="1.000" stop-color="#e32c1f"/></linearGradient><linearGradient id="g88" gradientUnits="userSpaceOnUse" x1="354.1" y1="0" x2="457.1" y2="0"><stop offset="0.000" stop-color="#02e09e"/><stop offset="0.050" stop-color="#05e09e"/><stop offset="0.100" stop-color="#0de09c"/><stop offset="0.150" stop-color="#19e19f"/><stop offset="0.200" stop-color="#34e5ab"/><stop offset="0.250" stop-color="#5deab5"/><stop offset="0.300" stop-color="#7fedb3"/><stop offset="0.350" stop-color="#aaf1b4"/><stop offset="0.400" stop-color="#def6d1"/><stop offset="0.450" stop-color="#f7f7df"/><stop offset="0.500" stop-color="#fdf0d4"/><stop offset="0.550" stop-color="#fde2c0"/><stop offset="0.600" stop-color="#fdd0aa"/><stop offset="0.650" stop-color="#fabc71"/><stop offset="0.700" stop-color="#f79f21"/><stop offset="0.750" stop-color="#f58a10"/><stop offset="0.800" stop-color="#f37a12"/><stop offset="0.850" stop-color="#f06d16"/><stop offset="0.900" stop-color="#ed5b19"/><stop offset="0.950" stop-color="#e63d1d"/><stop offset="1.000" stop-color="#e2281f"/></linearGradient><linearGradient id="g90" gradientUnits="userSpaceOnUse" x1="354.1" y1="0" x2="457.1" y2="0"><stop offset="0.000" stop-color="#01e0a8"/><stop offset="0.050" stop-color="#04e0a7"/><stop offset="0.100" stop-color="#0be0a6"/><stop offset="0.150" stop-color="#19e1aa"/><stop offset="0.200" stop-color="#35e5b6"/><stop offset="0.250" stop-color="#5deac0"/><stop offset="0.300" stop-color="#82eec2"/><stop offset="0.350" stop-color="#b7f3cc"/><stop offset="0.400" stop-color="#eaf8e3"/><stop offset="0.450" stop-color="#fbf7ea"/><stop offset="0.500" stop-color="#feefdf"/><stop offset="0.550" stop-color="#fedccd"/><stop offset="0.600" stop-color="#fec7bc"/><stop offset="0.650" stop-color="#fcb393"/><stop offset="0.700" stop-color="#f78f38"/><stop offset="0.750" stop-color="#f47a19"/><stop offset="0.800" stop-color="#f27018"/><stop offset="0.850" stop-color="#f06618"/><stop offset="0.900" stop-color="#eb521a"/><stop offset="0.950" stop-color="#e5351e"/><stop offset="1.000" stop-color="#e1251f"/></linearGradient><linearGradient id="g92" gradientUnits="userSpaceOnUse" x1="354.1" y1="0" x2="457.1" y2="0"><stop offset="0.000" stop-color="#01e0ad"/><stop offset="0.050" stop-color="#03e0ad"/><stop offset="0.100" stop-color="#0ae0ae"/><stop offset="0.150" stop-color="#18e1b3"/><stop offset="0.200" stop-color="#33e4be"/><stop offset="0.250" stop-color="#5be9c7"/><stop offset="0.300" stop-color="#84eecc"/><stop offset="0.350" stop-color="#c3f4dc"/><stop offset="0.400" stop-color="#f1f9ee"/><stop offset="0.450" stop-color="#fcf7ef"/><stop offset="0.500" stop-color="#feece4"/><stop offset="0.550" stop-color="#fed5d2"/><stop offset="0.600" stop-color="#febfc4"/><stop offset="0.650" stop-color="#fdaaa6"/><stop offset="0.700" stop-color="#f67b51"/><stop offset="0.750" stop-color="#f36527"/><stop offset="0.800" stop-color="#f1641f"/><stop offset="0.850" stop-color="#ef5f1b"/><stop offset="0.900" stop-color="#e9491c"/><stop offset="0.950" stop-color="#e32e1f"/><stop offset="1.000" stop-color="#e12320"/></linearGradient><linearGradient id="g94" gradientUnits="userSpaceOnUse" x1="354.1" y1="0" x2="457.1" y2="0"><stop offset="0.000" stop-color="#01e0b0"/><stop offset="0.050" stop-color="#03dfb1"/><stop offset="0.100" stop-color="#09dfb4"/><stop offset="0.150" stop-color="#17e0bb"/><stop offset="0.200" stop-color="#30e2c4"/><stop offset="0.250" stop-color="#57e7cc"/><stop offset="0.300" stop-color="#87edd3"/><stop offset="0.350" stop-color="#cef4e6"/><stop offset="0.400" stop-color="#f5f8f3"/><stop offset="0.450" stop-color="#fdf6f2"/><stop offset="0.500" stop-color="#fee9e6"/><stop offset="0.550" stop-color="#ffcdd3"/><stop offset="0.600" stop-color="#ffb7c5"/><stop offset="0.650" stop-color="#fda0ac"/><stop offset="0.700" stop-color="#f66760"/><stop offset="0.750" stop-color="#f25035"/><stop offset="0.800" stop-color="#f05528"/><stop offset="0.850" stop-color="#ee5520"/><stop offset="0.900" stop-color="#e73f1e"/><stop offset="0.950" stop-color="#e2291f"/><stop offset="1.000" stop-color="#e02220"/></linearGradient><linearGradient id="g96" gradientUnits="userSpaceOnUse" x1="354.1" y1="0" x2="457.1" y2="0"><stop offset="0.000" stop-color="#01dfb2"/><stop offset="0.050" stop-color="#02dfb4"/><stop offset="0.100" stop-color="#08deba"/><stop offset="0.150" stop-color="#15dec2"/><stop offset="0.200" stop-color="#2ddfca"/><stop offset="0.250" stop-color="#52e3d0"/><stop offset="0.300" stop-color="#89e9d9"/><stop offset="0.350" stop-color="#d6f1ec"/><stop offset="0.400" stop-color="#f7f6f6"/><stop offset="0.450" stop-color="#fdf4f4"/><stop offset="0.500" stop-color="#fee4e6"/><stop offset="0.550" stop-color="#ffc4d0"/><stop offset="0.600" stop-color="#ffadc2"/><stop offset="0.650" stop-color="#fd94ab"/><stop offset="0.700" stop-color="#f55766"/><stop offset="0.750" stop-color="#f13f3f"/><stop offset="0.800" stop-color="#f04632"/><stop offset="0.850" stop-color="#ed4a25"/><stop offset="0.900" stop-color="#e6361f"/><stop offset="0.950" stop-color="#e12620"/><stop offset="1.000" stop-color="#e02120"/></linearGradient><linearGradient id="g98" gradientUnits="userSpaceOnUse" x1="354.1" y1="0" x2="457.1" y2="0"><stop offset="0.000" stop-color="#00dfb4"/><stop offset="0.050" stop-color="#02deb9"/><stop offset="0.100" stop-color="#08dcc0"/><stop offset="0.150" stop-color="#14dbc9"/><stop offset="0.200" stop-color="#2adad0"/><stop offset="0.250" stop-color="#4cdcd5"/><stop offset="0.300" stop-color="#8be3de"/><stop offset="0.350" stop-color="#dbecee"/><stop offset="0.400" stop-color="#f7f1f6"/><stop offset="0.450" stop-color="#fcf1f4"/><stop offset="0.500" stop-color="#fedde4"/><stop offset="0.550" stop-color="#ffb7cb"/><stop offset="0.600" stop-color="#ff9fbc"/><stop offset="0.650" stop-color="#fc85a5"/><stop offset="0.700" stop-color="#f44b66"/><stop offset="0.750" stop-color="#f13546"/><stop offset="0.800" stop-color="#f03a3a"/><stop offset="0.850" stop-color="#ec3f2c"/><stop offset="0.900" stop-color="#e42f21"/><stop offset="0.950" stop-color="#e12420"/><stop offset="1.000" stop-color="#e02120"/></linearGradient><linearGradient id="g100" gradientUnits="userSpaceOnUse" x1="354.1" y1="0" x2="457.1" y2="0"><stop offset="0.000" stop-color="#00deb8"/><stop offset="0.050" stop-color="#02dcbf"/><stop offset="0.100" stop-color="#07dac8"/><stop offset="0.150" stop-color="#13d7d0"/><stop offset="0.200" stop-color="#27d4d7"/><stop offset="0.250" stop-color="#45d4dc"/><stop offset="0.300" stop-color="#8bdae3"/><stop offset="0.350" stop-color="#dee4ef"/><stop offset="0.400" stop-color="#f6eaf4"/><stop offset="0.450" stop-color="#fbeaf2"/><stop offset="0.500" stop-color="#fdd1df"/><stop offset="0.550" stop-color="#ffa4c2"/><stop offset="0.600" stop-color="#ff8cb4"/><stop offset="0.650" stop-color="#fc739d"/><stop offset="0.700" stop-color="#f44264"/><stop offset="0.750" stop-color="#f12f49"/><stop offset="0.800" stop-color="#f03140"/><stop offset="0.850" stop-color="#ec3532"/><stop offset="0.900" stop-color="#e32a22"/><stop offset="0.950" stop-color="#e12220"/><stop offset="1.000" stop-color="#e02020"/></linearGradient><linearGradient id="g102" gradientUnits="userSpaceOnUse" x1="354.1" y1="0" x2="457.1" y2="0"><stop offset="0.000" stop-color="#00dcbe"/><stop offset="0.050" stop-color="#02d9c8"/><stop offset="0.100" stop-color="#06d6d1"/><stop offset="0.150" stop-color="#13d2d8"/><stop offset="0.200" stop-color="#25ccde"/><stop offset="0.250" stop-color="#40cae3"/><stop offset="0.300" stop-color="#89d1e7"/><stop offset="0.350" stop-color="#dedbee"/><stop offset="0.400" stop-color="#f4e0f1"/><stop offset="0.450" stop-color="#f8dfef"/><stop offset="0.500" stop-color="#fbbed8"/><stop offset="0.550" stop-color="#fe8bb7"/><stop offset="0.600" stop-color="#ff75a9"/><stop offset="0.650" stop-color="#fc6095"/><stop offset="0.700" stop-color="#f43b62"/><stop offset="0.750" stop-color="#f12c4a"/><stop offset="0.800" stop-color="#f02d44"/><stop offset="0.850" stop-color="#ec2f37"/><stop offset="0.900" stop-color="#e32724"/><stop offset="0.950" stop-color="#e02120"/><stop offset="1.000" stop-color="#e02020"/></linearGradient><linearGradient id="g104" gradientUnits="userSpaceOnUse" x1="354.1" y1="0" x2="457.1" y2="0"><stop offset="0.000" stop-color="#00d9c7"/><stop offset="0.050" stop-color="#01d6d1"/><stop offset="0.100" stop-color="#06d2da"/><stop offset="0.150" stop-color="#12cce0"/><stop offset="0.200" stop-color="#24c5e4"/><stop offset="0.250" stop-color="#3cc2e8"/><stop offset="0.300" stop-color="#86c8ea"/><stop offset="0.350" stop-color="#dcd1ec"/><stop offset="0.400" stop-color="#f1d5ee"/><stop offset="0.450" stop-color="#f4ceea"/><stop offset="0.500" stop-color="#f8a3ce"/><stop offset="0.550" stop-color="#fd70ab"/><stop offset="0.600" stop-color="#fe5e9f"/><stop offset="0.650" stop-color="#fc4f8e"/><stop offset="0.700" stop-color="#f53562"/><stop offset="0.750" stop-color="#f12a4b"/><stop offset="0.800" stop-color="#f02a46"/><stop offset="0.850" stop-color="#ec2b3b"/><stop offset="0.900" stop-color="#e32525"/><stop offset="0.950" stop-color="#e02120"/><stop offset="1.000" stop-color="#e02020"/></linearGradient><linearGradient id="g106" gradientUnits="userSpaceOnUse" x1="354.1" y1="0" x2="457.1" y2="0"><stop offset="0.000" stop-color="#00d6d1"/><stop offset="0.050" stop-color="#01d2da"/><stop offset="0.100" stop-color="#05cee1"/><stop offset="0.150" stop-color="#11c7e5"/><stop offset="0.200" stop-color="#23bfe9"/><stop offset="0.250" stop-color="#3abcec"/><stop offset="0.300" stop-color="#84c0eb"/><stop offset="0.350" stop-color="#d9c7ea"/><stop offset="0.400" stop-color="#edc7ea"/><stop offset="0.450" stop-color="#efb9e5"/><stop offset="0.500" stop-color="#f386c5"/><stop offset="0.550" stop-color="#fc57a2"/><stop offset="0.600" stop-color="#fe4a97"/><stop offset="0.650" stop-color="#fd4189"/><stop offset="0.700" stop-color="#f63163"/><stop offset="0.750" stop-color="#f12a4c"/><stop offset="0.800" stop-color="#f02947"/><stop offset="0.850" stop-color="#ed293d"/><stop offset="0.900" stop-color="#e32327"/><stop offset="0.950" stop-color="#e02120"/><stop offset="1.000" stop-color="#e02020"/></linearGradient><linearGradient id="g108" gradientUnits="userSpaceOnUse" x1="354.1" y1="0" x2="457.1" y2="0"><stop offset="0.000" stop-color="#00d3da"/><stop offset="0.050" stop-color="#01cfe1"/><stop offset="0.100" stop-color="#05cae5"/><stop offset="0.150" stop-color="#10c1e9"/><stop offset="0.200" stop-color="#21b8ec"/><stop offset="0.250" stop-color="#38b5ee"/><stop offset="0.300" stop-color="#81b7ec"/><stop offset="0.350" stop-color="#d5bbe8"/><stop offset="0.400" stop-color="#e8b6e6"/><stop offset="0.450" stop-color="#e89fde"/><stop offset="0.500" stop-color="#eb6abf"/><stop offset="0.550" stop-color="#f9449c"/><stop offset="0.600" stop-color="#fe3c91"/><stop offset="0.650" stop-color="#fd3787"/><stop offset="0.700" stop-color="#f62e66"/><stop offset="0.750" stop-color="#f1294d"/><stop offset="0.800" stop-color="#f02948"/><stop offset="0.850" stop-color="#ed2840"/><stop offset="0.900" stop-color="#e42328"/><stop offset="0.950" stop-color="#e02021"/><stop offset="1.000" stop-color="#e02020"/></linearGradient><linearGradient id="g110" gradientUnits="userSpaceOnUse" x1="354.1" y1="0" x2="457.1" y2="0"><stop offset="0.000" stop-color="#00d0e1"/><stop offset="0.050" stop-color="#01cce5"/><stop offset="0.100" stop-color="#04c5e8"/><stop offset="0.150" stop-color="#0eb9ec"/><stop offset="0.200" stop-color="#1eafef"/><stop offset="0.250" stop-color="#35abf0"/><stop offset="0.300" stop-color="#7da9ec"/><stop offset="0.350" stop-color="#cfa9e6"/><stop offset="0.400" stop-color="#e2a0e2"/><stop offset="0.450" stop-color="#e082d9"/><stop offset="0.500" stop-color="#e353be"/><stop offset="0.550" stop-color="#f5389b"/><stop offset="0.600" stop-color="#fd338e"/><stop offset="0.650" stop-color="#fd3086"/><stop offset="0.700" stop-color="#f82c6b"/><stop offset="0.750" stop-color="#f2294f"/><stop offset="0.800" stop-color="#f02848"/><stop offset="0.850" stop-color="#ee2741"/><stop offset="0.900" stop-color="#e4232a"/><stop offset="0.950" stop-color="#e02021"/><stop offset="1.000" stop-color="#e02020"/></linearGradient><linearGradient id="g112" gradientUnits="userSpaceOnUse" x1="354.1" y1="0" x2="457.1" y2="0"><stop offset="0.000" stop-color="#00cde5"/><stop offset="0.050" stop-color="#01c7e8"/><stop offset="0.100" stop-color="#04bdeb"/><stop offset="0.150" stop-color="#0dafee"/><stop offset="0.200" stop-color="#1ba4f1"/><stop offset="0.250" stop-color="#329df2"/><stop offset="0.300" stop-color="#7795eb"/><stop offset="0.350" stop-color="#c690e3"/><stop offset="0.400" stop-color="#d984dd"/><stop offset="0.450" stop-color="#d867d4"/><stop offset="0.500" stop-color="#db43bf"/><stop offset="0.550" stop-color="#f0319e"/><stop offset="0.600" stop-color="#fc2e8e"/><stop offset="0.650" stop-color="#fe2d86"/><stop offset="0.700" stop-color="#f92a6f"/><stop offset="0.750" stop-color="#f22951"/><stop offset="0.800" stop-color="#f02849"/><stop offset="0.850" stop-color="#ee2743"/><stop offset="0.900" stop-color="#e5232c"/><stop offset="0.950" stop-color="#e02021"/><stop offset="1.000" stop-color="#e02020"/></linearGradient><linearGradient id="g114" gradientUnits="userSpaceOnUse" x1="354.1" y1="0" x2="457.1" y2="0"><stop offset="0.000" stop-color="#00c9e8"/><stop offset="0.050" stop-color="#01c1ea"/><stop offset="0.100" stop-color="#04b4ed"/><stop offset="0.150" stop-color="#0ba3f1"/><stop offset="0.200" stop-color="#1896f4"/><stop offset="0.250" stop-color="#2f8bf4"/><stop offset="0.300" stop-color="#717beb"/><stop offset="0.350" stop-color="#b972e0"/><stop offset="0.400" stop-color="#ce68d9"/><stop offset="0.450" stop-color="#d051d0"/><stop offset="0.500" stop-color="#d539c1"/><stop offset="0.550" stop-color="#ea2da3"/><stop offset="0.600" stop-color="#fa2b8f"/><stop offset="0.650" stop-color="#fd2a87"/><stop offset="0.700" stop-color="#fa2974"/><stop offset="0.750" stop-color="#f32854"/><stop offset="0.800" stop-color="#f02849"/><stop offset="0.850" stop-color="#ee2744"/><stop offset="0.900" stop-color="#e5232e"/><stop offset="0.950" stop-color="#e12021"/><stop offset="1.000" stop-color="#e02020"/></linearGradient><linearGradient id="g116" gradientUnits="userSpaceOnUse" x1="354.1" y1="0" x2="457.1" y2="0"><stop offset="0.000" stop-color="#00c3ea"/><stop offset="0.050" stop-color="#01b8ec"/><stop offset="0.100" stop-color="#04a8f0"/><stop offset="0.150" stop-color="#0b97f3"/><stop offset="0.200" stop-color="#1688f6"/><stop offset="0.250" stop-color="#2d79f5"/><stop offset="0.300" stop-color="#6b63eb"/><stop offset="0.350" stop-color="#ac56de"/><stop offset="0.400" stop-color="#c450d6"/><stop offset="0.450" stop-color="#ca41ce"/><stop offset="0.500" stop-color="#d032c3"/><stop offset="0.550" stop-color="#e32bab"/><stop offset="0.600" stop-color="#f72a92"/><stop offset="0.650" stop-color="#fd2988"/><stop offset="0.700" stop-color="#fb2978"/><stop offset="0.750" stop-color="#f42858"/><stop offset="0.800" stop-color="#f0284a"/><stop offset="0.850" stop-color="#ef2745"/><stop offset="0.900" stop-color="#e62330"/><stop offset="0.950" stop-color="#e12022"/><stop offset="1.000" stop-color="#e02020"/></linearGradient><linearGradient id="g118" gradientUnits="userSpaceOnUse" x1="354.1" y1="0" x2="457.1" y2="0"><stop offset="0.000" stop-color="#01bbec"/><stop offset="0.050" stop-color="#02adee"/><stop offset="0.100" stop-color="#059cf2"/><stop offset="0.150" stop-color="#0c8bf5"/><stop offset="0.200" stop-color="#167bf8"/><stop offset="0.250" stop-color="#2d6af6"/><stop offset="0.300" stop-color="#6751eb"/><stop offset="0.350" stop-color="#a144de"/><stop offset="0.400" stop-color="#bb40d5"/><stop offset="0.450" stop-color="#c637ce"/><stop offset="0.500" stop-color="#cc2ec5"/><stop offset="0.550" stop-color="#dc2ab2"/><stop offset="0.600" stop-color="#f32996"/><stop offset="0.650" stop-color="#fc2989"/><stop offset="0.700" stop-color="#fc287c"/><stop offset="0.750" stop-color="#f5285c"/><stop offset="0.800" stop-color="#f1284b"/><stop offset="0.850" stop-color="#ef2745"/><stop offset="0.900" stop-color="#e72432"/><stop offset="0.950" stop-color="#e12022"/><stop offset="1.000" stop-color="#e02020"/></linearGradient><linearGradient id="g120" gradientUnits="userSpaceOnUse" x1="354.1" y1="0" x2="457.1" y2="0"><stop offset="0.000" stop-color="#01b1ee"/><stop offset="0.050" stop-color="#03a1f1"/><stop offset="0.100" stop-color="#0790f4"/><stop offset="0.150" stop-color="#0e80f7"/><stop offset="0.200" stop-color="#1871f9"/><stop offset="0.250" stop-color="#2e5ff7"/><stop offset="0.300" stop-color="#6347ec"/><stop offset="0.350" stop-color="#9739de"/><stop offset="0.400" stop-color="#b336d5"/><stop offset="0.450" stop-color="#c131ce"/><stop offset="0.500" stop-color="#c92cc7"/><stop offset="0.550" stop-color="#d529b9"/><stop offset="0.600" stop-color="#ee289c"/><stop offset="0.650" stop-color="#fb288b"/><stop offset="0.700" stop-color="#fc2880"/><stop offset="0.750" stop-color="#f62862"/><stop offset="0.800" stop-color="#f1284c"/><stop offset="0.850" stop-color="#ef2846"/><stop offset="0.900" stop-color="#e82434"/><stop offset="0.950" stop-color="#e12022"/><stop offset="1.000" stop-color="#e02020"/></linearGradient><linearGradient id="g122" gradientUnits="userSpaceOnUse" x1="354.1" y1="0" x2="457.1" y2="0"><stop offset="0.000" stop-color="#02a5f0"/><stop offset="0.050" stop-color="#0595f3"/><stop offset="0.100" stop-color="#0985f6"/><stop offset="0.150" stop-color="#1076f8"/><stop offset="0.200" stop-color="#1a68f9"/><stop offset="0.250" stop-color="#2f57f7"/><stop offset="0.300" stop-color="#6040ec"/><stop offset="0.350" stop-color="#9034e0"/><stop offset="0.400" stop-color="#ab31d7"/><stop offset="0.450" stop-color="#bd2ecf"/><stop offset="0.500" stop-color="#c72bc8"/><stop offset="0.550" stop-color="#d129be"/><stop offset="0.600" stop-color="#e728a4"/><stop offset="0.650" stop-color="#f9288e"/><stop offset="0.700" stop-color="#fd2883"/><stop offset="0.750" stop-color="#f72867"/><stop offset="0.800" stop-color="#f1284e"/><stop offset="0.850" stop-color="#ef2847"/><stop offset="0.900" stop-color="#e92436"/><stop offset="0.950" stop-color="#e12123"/><stop offset="1.000" stop-color="#e02020"/></linearGradient><linearGradient id="g124" gradientUnits="userSpaceOnUse" x1="354.1" y1="0" x2="457.1" y2="0"><stop offset="0.000" stop-color="#0399f2"/><stop offset="0.050" stop-color="#078af5"/><stop offset="0.100" stop-color="#0c7bf7"/><stop offset="0.150" stop-color="#136df9"/><stop offset="0.200" stop-color="#1c5ffa"/><stop offset="0.250" stop-color="#3050f7"/><stop offset="0.300" stop-color="#5d3ced"/><stop offset="0.350" stop-color="#8931e1"/><stop offset="0.400" stop-color="#a42fd9"/><stop offset="0.450" stop-color="#b92dd0"/><stop offset="0.500" stop-color="#c52aca"/><stop offset="0.550" stop-color="#cd29c2"/><stop offset="0.600" stop-color="#e028ac"/><stop offset="0.650" stop-color="#f62892"/><stop offset="0.700" stop-color="#fc2885"/><stop offset="0.750" stop-color="#f9286d"/><stop offset="0.800" stop-color="#f22850"/><stop offset="0.850" stop-color="#f02847"/><stop offset="0.900" stop-color="#ea2538"/><stop offset="0.950" stop-color="#e12123"/><stop offset="1.000" stop-color="#e02020"/></linearGradient><linearGradient id="g126" gradientUnits="userSpaceOnUse" x1="354.1" y1="0" x2="457.1" y2="0"><stop offset="0.000" stop-color="#068df4"/><stop offset="0.050" stop-color="#0a7ff6"/><stop offset="0.100" stop-color="#1070f8"/><stop offset="0.150" stop-color="#1763f9"/><stop offset="0.200" stop-color="#1f57f9"/><stop offset="0.250" stop-color="#3149f6"/><stop offset="0.300" stop-color="#5938ed"/><stop offset="0.350" stop-color="#822fe3"/><stop offset="0.400" stop-color="#9d2ddb"/><stop offset="0.450" stop-color="#b42cd2"/><stop offset="0.500" stop-color="#c32acb"/><stop offset="0.550" stop-color="#ca29c5"/><stop offset="0.600" stop-color="#d928b4"/><stop offset="0.650" stop-color="#f12898"/><stop offset="0.700" stop-color="#fc2888"/><stop offset="0.750" stop-color="#fa2873"/><stop offset="0.800" stop-color="#f32853"/><stop offset="0.850" stop-color="#f02848"/><stop offset="0.900" stop-color="#eb253a"/><stop offset="0.950" stop-color="#e22124"/><stop offset="1.000" stop-color="#e02020"/></linearGradient><linearGradient id="g128" gradientUnits="userSpaceOnUse" x1="354.1" y1="0" x2="457.1" y2="0"><stop offset="0.000" stop-color="#0982f6"/><stop offset="0.050" stop-color="#0e74f8"/><stop offset="0.100" stop-color="#1466f9"/><stop offset="0.150" stop-color="#1b59f9"/><stop offset="0.200" stop-color="#224ef9"/><stop offset="0.250" stop-color="#3143f5"/><stop offset="0.300" stop-color="#5435ee"/><stop offset="0.350" stop-color="#7b2ee5"/><stop offset="0.400" stop-color="#962cdd"/><stop offset="0.450" stop-color="#af2cd4"/><stop offset="0.500" stop-color="#c02acc"/><stop offset="0.550" stop-color="#c829c7"/><stop offset="0.600" stop-color="#d428ba"/><stop offset="0.650" stop-color="#eb289f"/><stop offset="0.700" stop-color="#fa288b"/><stop offset="0.750" stop-color="#fb2878"/><stop offset="0.800" stop-color="#f32857"/><stop offset="0.850" stop-color="#f02849"/><stop offset="0.900" stop-color="#eb263c"/><stop offset="0.950" stop-color="#e22125"/><stop offset="1.000" stop-color="#e02020"/></linearGradient><linearGradient id="g130" gradientUnits="userSpaceOnUse" x1="354.1" y1="0" x2="457.1" y2="0"><stop offset="0.000" stop-color="#0d76f7"/><stop offset="0.050" stop-color="#1368f9"/><stop offset="0.100" stop-color="#185bf9"/><stop offset="0.150" stop-color="#1e50f9"/><stop offset="0.200" stop-color="#2446f7"/><stop offset="0.250" stop-color="#313df4"/><stop offset="0.300" stop-color="#4f32ee"/><stop offset="0.350" stop-color="#732de7"/><stop offset="0.400" stop-color="#8f2cdf"/><stop offset="0.450" stop-color="#a82cd6"/><stop offset="0.500" stop-color="#bd2acd"/><stop offset="0.550" stop-color="#c729c8"/><stop offset="0.600" stop-color="#cf28bf"/><stop offset="0.650" stop-color="#e528a7"/><stop offset="0.700" stop-color="#f8288e"/><stop offset="0.750" stop-color="#fb287d"/><stop offset="0.800" stop-color="#f4285c"/><stop offset="0.850" stop-color="#f0284a"/><stop offset="0.900" stop-color="#ec263e"/><stop offset="0.950" stop-color="#e22126"/><stop offset="1.000" stop-color="#e02020"/></linearGradient><linearGradient id="g132" gradientUnits="userSpaceOnUse" x1="354.1" y1="0" x2="457.1" y2="0"><stop offset="0.000" stop-color="#116bf9"/><stop offset="0.050" stop-color="#175ef9"/><stop offset="0.100" stop-color="#1c52f9"/><stop offset="0.150" stop-color="#2148f8"/><stop offset="0.200" stop-color="#263ff6"/><stop offset="0.250" stop-color="#3037f2"/><stop offset="0.300" stop-color="#492fee"/><stop offset="0.350" stop-color="#6b2be8"/><stop offset="0.400" stop-color="#872be2"/><stop offset="0.450" stop-color="#a12bd9"/><stop offset="0.500" stop-color="#b92acf"/><stop offset="0.550" stop-color="#c529c9"/><stop offset="0.600" stop-color="#cc28c3"/><stop offset="0.650" stop-color="#de28af"/><stop offset="0.700" stop-color="#f42893"/><stop offset="0.750" stop-color="#fb2881"/><stop offset="0.800" stop-color="#f62861"/><stop offset="0.850" stop-color="#f1284b"/><stop offset="0.900" stop-color="#ed2640"/><stop offset="0.950" stop-color="#e32227"/><stop offset="1.000" stop-color="#e02021"/></linearGradient><linearGradient id="g134" gradientUnits="userSpaceOnUse" x1="354.1" y1="0" x2="457.1" y2="0"><stop offset="0.000" stop-color="#1660f9"/><stop offset="0.050" stop-color="#1b54fa"/><stop offset="0.100" stop-color="#2049f9"/><stop offset="0.150" stop-color="#2441f7"/><stop offset="0.200" stop-color="#2839f4"/><stop offset="0.250" stop-color="#3032f1"/><stop offset="0.300" stop-color="#432ded"/><stop offset="0.350" stop-color="#632ae9"/><stop offset="0.400" stop-color="#802be4"/><stop offset="0.450" stop-color="#9a2bdb"/><stop offset="0.500" stop-color="#b42ad1"/><stop offset="0.550" stop-color="#c329ca"/><stop offset="0.600" stop-color="#ca28c5"/><stop offset="0.650" stop-color="#d728b6"/><stop offset="0.700" stop-color="#ef2899"/><stop offset="0.750" stop-color="#fb2885"/><stop offset="0.800" stop-color="#f72867"/><stop offset="0.850" stop-color="#f1284d"/><stop offset="0.900" stop-color="#ed2741"/><stop offset="0.950" stop-color="#e32229"/><stop offset="1.000" stop-color="#e02021"/></linearGradient><linearGradient id="g136" gradientUnits="userSpaceOnUse" x1="354.1" y1="0" x2="457.1" y2="0"><stop offset="0.000" stop-color="#1958fa"/><stop offset="0.050" stop-color="#1e4df9"/><stop offset="0.100" stop-color="#2244f8"/><stop offset="0.150" stop-color="#253cf5"/><stop offset="0.200" stop-color="#2935f2"/><stop offset="0.250" stop-color="#2f2ff0"/><stop offset="0.300" stop-color="#3f2bed"/><stop offset="0.350" stop-color="#5c29ea"/><stop offset="0.400" stop-color="#792ae5"/><stop offset="0.450" stop-color="#942bde"/><stop offset="0.500" stop-color="#af2bd3"/><stop offset="0.550" stop-color="#c129cb"/><stop offset="0.600" stop-color="#c928c6"/><stop offset="0.650" stop-color="#d328bb"/><stop offset="0.700" stop-color="#eb289f"/><stop offset="0.750" stop-color="#fa2888"/><stop offset="0.800" stop-color="#f8286b"/><stop offset="0.850" stop-color="#f1284f"/><stop offset="0.900" stop-color="#ed2743"/><stop offset="0.950" stop-color="#e3232a"/><stop offset="1.000" stop-color="#e02122"/></linearGradient><linearGradient id="g138" gradientUnits="userSpaceOnUse" x1="354.1" y1="0" x2="457.1" y2="0"><stop offset="0.000" stop-color="#1958fa"/><stop offset="0.050" stop-color="#1e4df9"/><stop offset="0.100" stop-color="#2244f8"/><stop offset="0.150" stop-color="#253cf5"/><stop offset="0.200" stop-color="#2935f2"/><stop offset="0.250" stop-color="#2f2ff0"/><stop offset="0.300" stop-color="#3f2bed"/><stop offset="0.350" stop-color="#5c29ea"/><stop offset="0.400" stop-color="#792ae5"/><stop offset="0.450" stop-color="#942bde"/><stop offset="0.500" stop-color="#af2bd3"/><stop offset="0.550" stop-color="#c129cb"/><stop offset="0.600" stop-color="#c928c6"/><stop offset="0.650" stop-color="#d328bb"/><stop offset="0.700" stop-color="#eb289f"/><stop offset="0.750" stop-color="#fa2888"/><stop offset="0.800" stop-color="#f8286b"/><stop offset="0.850" stop-color="#f1284f"/><stop offset="0.900" stop-color="#ed2743"/><stop offset="0.950" stop-color="#e3232a"/><stop offset="1.000" stop-color="#e02122"/></linearGradient></defs>
<rect x="354.1" y="20" width="103.0" height="2.05" fill="url(#g20)"/><rect x="354.1" y="22" width="103.0" height="2.05" fill="url(#g22)"/><rect x="354.1" y="24" width="103.0" height="2.05" fill="url(#g24)"/><rect x="354.1" y="26" width="103.0" height="2.05" fill="url(#g26)"/><rect x="354.1" y="28" width="103.0" height="2.05" fill="url(#g28)"/><rect x="354.1" y="30" width="103.0" height="2.05" fill="url(#g30)"/><rect x="354.1" y="32" width="103.0" height="2.05" fill="url(#g32)"/><rect x="354.1" y="34" width="103.0" height="2.05" fill="url(#g34)"/><rect x="354.1" y="36" width="103.0" height="2.05" fill="url(#g36)"/><rect x="354.1" y="38" width="103.0" height="2.05" fill="url(#g38)"/><rect x="354.1" y="40" width="103.0" height="2.05" fill="url(#g40)"/><rect x="354.1" y="42" width="103.0" height="2.05" fill="url(#g42)"/><rect x="354.1" y="44" width="103.0" height="2.05" fill="url(#g44)"/><rect x="354.1" y="46" width="103.0" height="2.05" fill="url(#g46)"/><rect x="354.1" y="48" width="103.0" height="2.05" fill="url(#g48)"/><rect x="354.1" y="50" width="103.0" height="2.05" fill="url(#g50)"/><rect x="354.1" y="52" width="103.0" height="2.05" fill="url(#g52)"/><rect x="354.1" y="54" width="103.0" height="2.05" fill="url(#g54)"/><rect x="354.1" y="56" width="103.0" height="2.05" fill="url(#g56)"/><rect x="354.1" y="58" width="103.0" height="2.05" fill="url(#g58)"/><rect x="354.1" y="60" width="103.0" height="2.05" fill="url(#g60)"/><rect x="354.1" y="62" width="103.0" height="2.05" fill="url(#g62)"/><rect x="354.1" y="64" width="103.0" height="2.05" fill="url(#g64)"/><rect x="354.1" y="66" width="103.0" height="2.05" fill="url(#g66)"/><rect x="354.1" y="68" width="103.0" height="2.05" fill="url(#g68)"/><rect x="354.1" y="70" width="103.0" height="2.05" fill="url(#g70)"/><rect x="354.1" y="72" width="103.0" height="2.05" fill="url(#g72)"/><rect x="354.1" y="74" width="103.0" height="2.05" fill="url(#g74)"/><rect x="354.1" y="76" width="103.0" height="2.05" fill="url(#g76)"/><rect x="354.1" y="78" width="103.0" height="2.05" fill="url(#g78)"/><rect x="354.1" y="80" width="103.0" height="2.05" fill="url(#g80)"/><rect x="354.1" y="82" width="103.0" height="2.05" fill="url(#g82)"/><rect x="354.1" y="84" width="103.0" height="2.05" fill="url(#g84)"/><rect x="354.1" y="86" width="103.0" height="2.05" fill="url(#g86)"/><rect x="354.1" y="88" width="103.0" height="2.05" fill="url(#g88)"/><rect x="354.1" y="90" width="103.0" height="2.05" fill="url(#g90)"/><rect x="354.1" y="92" width="103.0" height="2.05" fill="url(#g92)"/><rect x="354.1" y="94" width="103.0" height="2.05" fill="url(#g94)"/><rect x="354.1" y="96" width="103.0" height="2.05" fill="url(#g96)"/><rect x="354.1" y="98" width="103.0" height="2.05" fill="url(#g98)"/><rect x="354.1" y="100" width="103.0" height="2.05" fill="url(#g100)"/><rect x="354.1" y="102" width="103.0" height="2.05" fill="url(#g102)"/><rect x="354.1" y="104" width="103.0" height="2.05" fill="url(#g104)"/><rect x="354.1" y="106" width="103.0" height="2.05" fill="url(#g106)"/><rect x="354.1" y="108" width="103.0" height="2.05" fill="url(#g108)"/><rect x="354.1" y="110" width="103.0" height="2.05" fill="url(#g110)"/><rect x="354.1" y="112" width="103.0" height="2.05" fill="url(#g112)"/><rect x="354.1" y="114" width="103.0" height="2.05" fill="url(#g114)"/><rect x="354.1" y="116" width="103.0" height="2.05" fill="url(#g116)"/><rect x="354.1" y="118" width="103.0" height="2.05" fill="url(#g118)"/><rect x="354.1" y="120" width="103.0" height="2.05" fill="url(#g120)"/><rect x="354.1" y="122" width="103.0" height="2.05" fill="url(#g122)"/><rect x="354.1" y="124" width="103.0" height="2.05" fill="url(#g124)"/><rect x="354.1" y="126" width="103.0" height="2.05" fill="url(#g126)"/><rect x="354.1" y="128" width="103.0" height="2.05" fill="url(#g128)"/><rect x="354.1" y="130" width="103.0" height="2.05" fill="url(#g130)"/><rect x="354.1" y="132" width="103.0" height="2.05" fill="url(#g132)"/><rect x="354.1" y="134" width="103.0" height="2.05" fill="url(#g134)"/><rect x="354.1" y="136" width="103.0" height="2.05" fill="url(#g136)"/><rect x="354.1" y="138" width="103.0" height="2.05" fill="url(#g138)"/>
</g>
<text x="342.9" y="138.5" font-family="Liberation Serif" font-weight="bold" font-size="5.4" text-anchor="middle" fill="#ffffff" stroke="#ffffff" stroke-width="0.16" >0.0</text>
<text x="342.9" y="124.87" font-family="Liberation Serif" font-weight="bold" font-size="5.4" text-anchor="middle" fill="#ffffff" stroke="#ffffff" stroke-width="0.16" >0.1</text>
<text x="342.9" y="111.24" font-family="Liberation Serif" font-weight="bold" font-size="5.4" text-anchor="middle" fill="#ffffff" stroke="#ffffff" stroke-width="0.16" >0.2</text>
<text x="342.9" y="97.61" font-family="Liberation Serif" font-weight="bold" font-size="5.4" text-anchor="middle" fill="#ffffff" stroke="#ffffff" stroke-width="0.16" >0.3</text>
<text x="342.9" y="83.98" font-family="Liberation Serif" font-weight="bold" font-size="5.4" text-anchor="middle" fill="#ffffff" stroke="#ffffff" stroke-width="0.16" >0.4</text>
<text x="342.9" y="70.35" font-family="Liberation Serif" font-weight="bold" font-size="5.4" text-anchor="middle" fill="#ffffff" stroke="#ffffff" stroke-width="0.16" >0.5</text>
<text x="342.9" y="56.72" font-family="Liberation Serif" font-weight="bold" font-size="5.4" text-anchor="middle" fill="#ffffff" stroke="#ffffff" stroke-width="0.16" >0.6</text>
<text x="342.9" y="43.09" font-family="Liberation Serif" font-weight="bold" font-size="5.4" text-anchor="middle" fill="#ffffff" stroke="#ffffff" stroke-width="0.16" >0.7</text>
<text x="342.9" y="29.46" font-family="Liberation Serif" font-weight="bold" font-size="5.4" text-anchor="middle" fill="#ffffff" stroke="#ffffff" stroke-width="0.16" >0.8</text>
<text x="342.9" y="15.83" font-family="Liberation Serif" font-weight="bold" font-size="5.4" text-anchor="middle" fill="#ffffff" stroke="#ffffff" stroke-width="0.16" >0.9</text>
<text x="354.1" y="150.4" font-family="Liberation Serif" font-weight="bold" font-size="5.4" text-anchor="middle" fill="#ffffff" stroke="#ffffff" stroke-width="0.16" >0.0</text>
<text x="367.83" y="150.4" font-family="Liberation Serif" font-weight="bold" font-size="5.4" text-anchor="middle" fill="#ffffff" stroke="#ffffff" stroke-width="0.16" >0.1</text>
<text x="381.56" y="150.4" font-family="Liberation Serif" font-weight="bold" font-size="5.4" text-anchor="middle" fill="#ffffff" stroke="#ffffff" stroke-width="0.16" >0.2</text>
<text x="395.29" y="150.4" font-family="Liberation Serif" font-weight="bold" font-size="5.4" text-anchor="middle" fill="#ffffff" stroke="#ffffff" stroke-width="0.16" >0.3</text>
<text x="409.02" y="150.4" font-family="Liberation Serif" font-weight="bold" font-size="5.4" text-anchor="middle" fill="#ffffff" stroke="#ffffff" stroke-width="0.16" >0.4</text>
<text x="422.75" y="150.4" font-family="Liberation Serif" font-weight="bold" font-size="5.4" text-anchor="middle" fill="#ffffff" stroke="#ffffff" stroke-width="0.16" >0.5</text>
<text x="436.48" y="150.4" font-family="Liberation Serif" font-weight="bold" font-size="5.4" text-anchor="middle" fill="#ffffff" stroke="#ffffff" stroke-width="0.16" >0.6</text>
<text x="450.21" y="150.4" font-family="Liberation Serif" font-weight="bold" font-size="5.4" text-anchor="middle" fill="#ffffff" stroke="#ffffff" stroke-width="0.16" >0.7</text>
<text x="463.94" y="150.4" font-family="Liberation Serif" font-weight="bold" font-size="5.4" text-anchor="middle" fill="#ffffff" stroke="#ffffff" stroke-width="0.16" >0.8</text>
<path d="M409.3,71.2 C407.5,63.5 399,60.8 392.5,63.8 C387.2,66.5 386.6,73 388.6,81" fill="none" stroke="#000" stroke-width="2.1" stroke-linecap="round"/>
<path d="M385.6,80.2 L392.2,79.6 L389.6,86.2 Z" fill="#000"/>
<path d="M392.2,85.7 L395.2,88.7 M392.2,88.7 L395.2,85.7" stroke="#777" stroke-width="0.6"/>
<path d="M400.5,84.9 L403.5,87.9 M400.5,87.9 L403.5,84.9" stroke="#777" stroke-width="0.6"/>
<path d="M410.6,81.5 L413.6,84.5 M410.6,84.5 L413.6,81.5" stroke="#777" stroke-width="0.6"/>
<path d="M392.4,90.8 C393,95 394.8,96.6 396.6,96.4 C399,96.1 400.6,93.5 400.9,90.4" fill="none" stroke="#000" stroke-width="1.5" stroke-linecap="round"/>
<path d="M390.6,91.5 L392.3,88.6 L394.2,91.3 Z" fill="#000"/>
<path d="M405.2,90 C405.6,93.6 407.2,94.9 408.8,94.7 C411.8,94.4 413.9,92 414,88.8" fill="none" stroke="#000" stroke-width="1.5" stroke-linecap="round"/>
<path d="M412.2,89.2 L413.8,86.6 L415.6,89.4 Z" fill="#000"/>
<text x="405.6" y="74.9" font-family="Liberation Serif" font-weight="bold" font-size="3.7" fill="#161616">Oxidized 1</text>
<text x="405.4" y="78.9" font-family="Liberation Serif" font-weight="bold" font-size="3.7" fill="#161616">(0.4240,0.3950)</text>
<text x="366.3" y="86.7" font-family="Liberation Serif" font-weight="bold" font-size="3.7" fill="#161616">Oxidized 2</text>
<text x="366.1" y="90.9" font-family="Liberation Serif" font-weight="bold" font-size="3.7" fill="#161616">(0.2974,0.3629)</text>
<text x="400.1" y="100.9" font-family="Liberation Serif" font-weight="bold" font-size="3.7" fill="#161616">Neutral</text>
<text x="399.9" y="106.2" font-family="Liberation Serif" font-weight="bold" font-size="3.7" fill="#161616">(0.3910,0.3667)</text>
<text x="7" y="208.6" font-family="Liberation Serif" font-weight="bold" font-size="9.8" text-anchor="middle" fill="#000" stroke="#000" stroke-width="0.29" >(c)</text>
<path d="M36.1,237.12 L38.23,237.12 L38.26,267.82 L38.38,250.93 L38.53,243.26 L38.74,239.88 L39.08,238.35 L39.72,237.58 L40.36,237.12 L40.39,207.02 L40.51,223.58 L40.66,231.1 L40.87,234.41 L41.21,235.92 L41.85,236.67 L42.49,237.12 L42.52,267.82 L42.64,250.93 L42.79,243.26 L43,239.88 L43.34,238.35 L43.98,237.58 L44.62,237.12 L44.65,207.02 L44.77,223.58 L44.92,231.1 L45.13,234.41 L45.47,235.92 L46.11,236.67 L46.75,237.12 L46.78,267.82 L46.9,250.93 L47.05,243.26 L47.26,239.88 L47.6,238.35 L48.24,237.58 L48.88,237.12 L48.91,207.02 L49.03,223.58 L49.18,231.1 L49.39,234.41 L49.73,235.92 L50.37,236.67 L51.01,237.12 L51.04,267.82 L51.16,250.93 L51.31,243.26 L51.52,239.88 L51.86,238.35 L52.5,237.58 L53.14,237.12 L53.17,207.02 L53.29,223.58 L53.44,231.1 L53.65,234.41 L53.99,235.92 L54.63,236.67 L55.27,237.12 L55.3,267.82 L55.42,250.93 L55.57,243.26 L55.78,239.88 L56.12,238.35 L56.76,237.58 L57.4,237.12 L57.43,207.02 L57.55,223.58 L57.7,231.1 L57.91,234.41 L58.25,235.92 L58.89,236.67 L59.53,237.12 L59.56,267.82 L59.68,250.93 L59.83,243.26 L60.04,239.88 L60.38,238.35 L61.02,237.58 L61.66,237.12 L61.69,207.02 L61.81,223.58 L61.96,231.1 L62.17,234.41 L62.51,235.92 L63.15,236.67 L63.79,237.12 L63.82,267.82 L63.94,250.93 L64.09,243.26 L64.3,239.88 L64.64,238.35 L65.28,237.58 L65.92,237.12 L65.95,207.02 L66.07,223.58 L66.22,231.1 L66.43,234.41 L66.77,235.92 L67.41,236.67 L68.05,237.12 L68.08,267.82 L68.2,250.93 L68.35,243.26 L68.56,239.88 L68.9,238.35 L69.54,237.58 L70.18,237.12 L70.21,207.02 L70.33,223.58 L70.48,231.1 L70.69,234.41 L71.03,235.92 L71.67,236.67 L72.31,237.12 L72.34,267.82 L72.46,250.93 L72.61,243.26 L72.82,239.88 L73.16,238.35 L73.8,237.58 L74.44,237.12 L74.47,207.02 L74.59,223.58 L74.74,231.1 L74.95,234.41 L75.29,235.92 L75.93,236.67 L76.57,237.12 L76.6,267.82 L76.72,250.93 L76.87,243.26 L77.08,239.88 L77.42,238.35 L78.06,237.58 L78.7,237.12 L78.73,207.02 L78.85,223.58 L79,231.1 L79.21,234.41 L79.55,235.92 L80.19,236.67 L80.83,237.12 L80.86,267.75 L80.98,250.9 L81.13,243.24 L81.34,239.88 L81.68,238.34 L82.32,237.58 L82.96,237.12 L82.99,207.02 L83.11,223.58 L83.26,231.1 L83.47,234.41 L83.81,235.92 L84.45,236.67 L85.09,237.12 L85.12,267.61 L85.24,250.84 L85.39,243.22 L85.6,239.86 L85.94,238.34 L86.58,237.58 L87.22,237.12 L87.25,207.02 L87.37,223.58 L87.52,231.1 L87.73,234.41 L88.07,235.92 L88.71,236.67 L89.35,237.12 L89.38,267.48 L89.5,250.78 L89.65,243.19 L89.86,239.85 L90.2,238.33 L90.84,237.57 L91.48,237.12 L91.51,207.02 L91.63,223.58 L91.78,231.1 L91.99,234.41 L92.33,235.92 L92.97,236.67 L93.61,237.12 L93.64,267.34 L93.76,250.72 L93.91,243.16 L94.12,239.84 L94.46,238.33 L95.1,237.57 L95.74,237.12 L95.77,207.02 L95.89,223.58 L96.04,231.1 L96.25,234.41 L96.59,235.92 L97.23,236.67 L97.87,237.12 L97.9,267.21 L98.02,250.66 L98.17,243.14 L98.38,239.83 L98.72,238.32 L99.36,237.57 L100,237.12 L100.03,207.02 L100.15,223.58 L100.3,231.1 L100.51,234.41 L100.85,235.92 L101.49,236.67 L102.13,237.12 L102.16,267.07 L102.28,250.6 L102.43,243.11 L102.64,239.81 L102.98,238.32 L103.62,237.57 L104.26,237.12 L104.29,207.13 L104.41,223.62 L104.56,231.12 L104.77,234.42 L105.11,235.92 L105.75,236.67 L106.39,237.12 L106.42,266.94 L106.54,250.54 L106.69,243.08 L106.9,239.8 L107.24,238.31 L107.88,237.57 L108.52,237.12 L108.55,207.23 L108.67,223.67 L108.82,231.14 L109.03,234.43 L109.37,235.92 L110.01,236.67 L110.65,237.12 L110.68,266.8 L110.8,250.48 L110.95,243.06 L111.16,239.79 L111.5,238.31 L112.14,237.56 L112.78,237.12 L112.81,207.33 L112.93,223.72 L113.08,231.16 L113.29,234.44 L113.63,235.93 L114.27,236.67 L114.91,237.12 L114.94,266.67 L115.06,250.41 L115.21,243.03 L115.42,239.78 L115.76,238.3 L116.4,237.56 L117.04,237.12 L117.07,207.44 L117.19,223.76 L117.34,231.18 L117.55,234.45 L117.89,235.93 L118.53,236.67 L119.17,237.12 L119.2,266.53 L119.32,250.35 L119.47,243 L119.68,239.77 L120.02,238.3 L120.66,237.56 L121.3,237.12 L121.33,207.54 L121.45,223.81 L121.6,231.2 L121.81,234.46 L122.15,235.94 L122.79,236.68 L123.43,237.12 L123.46,266.39 L123.58,250.29 L123.73,242.97 L123.94,239.75 L124.28,238.29 L124.92,237.56 L125.56,237.12 L125.59,207.64 L125.71,223.85 L125.86,231.22 L126.07,234.47 L126.41,235.94 L127.05,236.68 L127.69,237.12 L127.72,266.26 L127.84,250.23 L127.99,242.95 L128.2,239.74 L128.54,238.28 L129.18,237.56 L129.82,237.12 L129.85,207.75 L129.97,223.9 L130.12,231.24 L130.33,234.48 L130.67,235.94 L131.31,236.68 L131.95,237.12 L131.98,266.12 L132.1,250.17 L132.25,242.92 L132.46,239.73 L132.8,238.28 L133.44,237.55 L134.08,237.12 L134.11,207.85 L134.23,223.95 L134.38,231.27 L134.59,234.48 L134.93,235.95 L135.57,236.68 L136.21,237.12 L136.24,265.99 L136.36,250.11 L136.51,242.89 L136.72,239.72 L137.06,238.27 L137.7,237.55 L138.34,237.12 L138.37,207.95 L138.49,223.99 L138.64,231.29 L138.85,234.49 L139.19,235.95 L139.83,236.68 L140.47,237.12 L140.5,265.85 L140.62,250.05 L140.77,242.87 L140.98,239.71 L141.32,238.27 L141.96,237.55 L142.6,237.12 L142.63,208.06 L142.75,224.04 L142.9,231.31 L143.11,234.5 L143.45,235.96 L144.09,236.68 L144.73,237.12 L144.76,265.72 L144.88,249.99 L145.03,242.84 L145.24,239.69 L145.58,238.26 L146.22,237.55 L146.86,237.12 L146.89,208.16 L147.01,224.09 L147.16,231.33 L147.37,234.51 L147.71,235.96 L148.35,236.68 L148.99,237.12 L149.02,265.58 L149.14,249.93 L149.29,242.81 L149.5,239.68 L149.84,238.26 L150.48,237.55 L151.12,237.12 L151.15,208.26 L151.27,224.13 L151.42,231.35 L151.63,234.52 L151.97,235.96 L152.61,236.69 L153.25,237.12 L153.28,265.45 L153.4,249.87 L153.55,242.78 L153.76,239.67 L154.1,238.25 L154.74,237.54 L155.38,237.12 L155.41,208.37 L155.53,224.18 L155.68,231.37 L155.89,234.53 L156.23,235.97 L156.87,236.69 L157.51,237.12 L157.54,265.31 L157.66,249.81 L157.81,242.76 L158.02,239.66 L158.36,238.25 L159,237.54 L159.64,237.12 L159.67,208.47 L159.79,224.23 L159.94,231.39 L160.15,234.54 L160.49,235.97 L161.13,236.69 L161.77,237.12 L161.8,265.18 L161.92,249.74 L162.07,242.73 L162.28,239.64 L162.62,238.24 L163.26,237.54 L163.9,237.12 L163.93,208.57 L164.05,224.27 L164.2,231.41 L164.41,234.55 L164.75,235.98 L165.39,236.69 L166.03,237.12 L166.06,265.04 L166.18,249.68 L166.33,242.7 L166.54,239.63 L166.88,238.24 L167.52,237.54 L168.16,237.12 L168.19,208.67 L168.31,224.32 L168.46,231.43 L168.67,234.56 L169.01,235.98 L169.65,236.69 L170.29,237.12 L170.32,264.9 L170.44,249.62 L170.59,242.68 L170.8,239.62 L171.14,238.23 L171.78,237.54 L172.42,237.12 L172.45,208.78 L172.57,224.37 L172.72,231.45 L172.93,234.57 L173.27,235.99 L173.91,236.69 L174.55,237.12 L174.58,264.77 L174.7,249.56 L174.85,242.65 L175.06,239.61 L175.4,238.23 L176.04,237.53 L176.68,237.12 L176.71,208.88 L176.83,224.41 L176.98,231.47 L177.19,234.58 L177.53,235.99 L178.17,236.7 L178.81,237.12 L178.84,264.63 L178.96,249.5 L179.11,242.62 L179.32,239.6 L179.66,238.22 L180.3,237.53 L180.94,237.12 L180.97,208.98 L181.09,224.46 L181.24,231.49 L181.45,234.59 L181.79,235.99 L182.43,236.7 L183.07,237.12 L183.1,264.5 L183.22,249.44 L183.37,242.59 L183.58,239.58 L183.92,238.21 L184.56,237.53 L185.2,237.12 L185.23,209.09 L185.35,224.5 L185.5,231.51 L185.71,234.6 L186.05,236 L186.69,236.7 L187.33,237.12 L187.36,264.36 L187.48,249.38 L187.63,242.57 L187.84,239.57 L188.18,238.21 L188.82,237.53 L189.46,237.12 L189.49,209.19 L189.61,224.55 L189.76,231.53 L189.97,234.61 L190.31,236 L190.95,236.7 L191.59,237.12 L191.62,264.23 L191.74,249.32 L191.89,242.54 L192.1,239.56 L192.44,238.2 L193.08,237.53 L193.72,237.12 L193.75,209.29 L193.87,224.6 L194.02,231.55 L194.23,234.61 L194.57,236.01 L195.21,236.7 L195.85,237.12 L195.88,264.09 L196,249.26 L196.15,242.51 L196.36,239.55 L196.7,238.2 L197.34,237.52 L197.98,237.12 L198.01,209.4 L198.13,224.64 L198.28,231.57 L198.49,234.62 L198.83,236.01 L199.47,236.7 L200.11,237.12 L200.14,263.96 L200.26,249.2 L200.41,242.49 L200.62,239.53 L200.96,238.19 L201.6,237.52 L202.24,237.12 L202.27,209.5 L202.39,224.69 L202.54,231.6 L202.75,234.63 L203.09,236.01 L203.73,236.7 L204.37,237.12 L204.4,263.82 L204.52,249.13 L204.67,242.46 L204.88,239.52 L205.22,238.19 L205.86,237.52 L206.5,237.12 L206.53,209.6 L206.65,224.74 L206.8,231.62 L207.01,234.64 L207.35,236.02 L207.99,236.71 L208.63,237.12 L208.66,263.69 L208.78,249.07 L208.93,242.43 L209.14,239.51 L209.48,238.18 L210.12,237.52 L210.76,237.12 L210.79,209.71 L210.91,224.78 L211.06,231.64 L211.27,234.65 L211.61,236.02 L212.25,236.71 L212.89,237.12 L212.92,263.55 L213.04,249.01 L213.19,242.41 L213.4,239.5 L213.74,238.18 L214.38,237.52 L215.02,237.12 L215.05,209.81 L215.17,224.83 L215.32,231.66 L215.53,234.66 L215.87,236.03 L216.51,236.71 L217.15,237.12 L217.18,263.41 L217.3,248.95 L217.45,242.38 L217.66,239.49 L218,238.17 L218.64,237.51 L219.28,237.12 L219.31,209.91 L219.43,224.88 L219.58,231.68 L219.79,234.67 L220.13,236.03 L220.77,236.71 L221.41,237.12 L221.44,263.28 L221.56,248.89 L221.71,242.35 L221.92,239.47 L222.26,238.17 L222.9,237.51 L223.54,237.12 L223.57,210.02 L223.69,224.92 L223.84,231.7 L224.05,234.68 L224.39,236.03 L225.03,236.71 L225.67,237.12 L225.7,263.14 L225.82,248.83 L225.97,242.32 L226.18,239.46 L226.52,238.16 L227.16,237.51 L227.8,237.12 L227.83,210.12 L227.95,224.97 L228.1,231.72 L228.31,234.69 L228.65,236.04 L229.29,236.71 L229.93,237.12 L229.96,263.01 L230.08,248.77 L230.23,242.3 L230.44,239.45 L230.78,238.15 L231.42,237.51 L232.06,237.12 L232.09,210.22 L232.21,225.02 L232.36,231.74 L232.57,234.7 L232.91,236.04 L233.55,236.72 L234.19,237.12 L234.22,262.87 L234.34,248.71 L234.49,242.27 L234.7,239.44 L235.04,238.15 L235.68,237.51 L236.32,237.12 L236.35,210.33 L236.47,225.06 L236.62,231.76 L236.83,234.71 L237.17,236.05 L237.81,236.72 L238.45,237.12 L238.48,262.74 L238.6,248.65 L238.75,242.24 L238.96,239.42 L239.3,238.14 L239.94,237.5 L240.58,237.12 L240.61,210.43 L240.73,225.11 L240.88,231.78 L241.09,234.72 L241.43,236.05 L242.07,236.72 L242.71,237.12 L242.74,262.6 L242.86,248.59 L243.01,242.22 L243.22,239.41 L243.56,238.14 L244.2,237.5 L244.84,237.12 L244.87,210.53 L244.99,225.15 L245.14,231.8 L245.35,234.73 L245.69,236.06 L246.33,236.72 L246.97,237.12 L247,262.47 L247.12,248.53 L247.27,242.19 L247.48,239.4 L247.82,238.13 L248.46,237.5 L249.1,237.12" fill="none" stroke="#1818ff" stroke-width="1.1" stroke-linejoin="round" />
<path d="M36.1,279.63 L36.74,277.82 L37.38,277.37 L37.48,297.4 L37.59,311.75 L37.76,326.74 L37.97,337.1 L38.23,343.11 L38.57,346.33 L39,347.57 L39.51,347.93 L39.59,329.14 L39.7,312.96 L39.85,299.13 L40.02,290.63 L40.27,284.96 L40.62,282.53 L41.04,281.82 L41.64,281.68 L41.74,300.47 L41.85,313.95 L42.02,328.03 L42.23,337.76 L42.49,343.41 L42.83,346.43 L43.26,347.6 L43.77,347.94 L43.85,329.15 L43.96,312.97 L44.11,299.13 L44.28,290.63 L44.53,284.96 L44.88,282.53 L45.3,281.82 L45.9,281.68 L46,300.47 L46.11,313.95 L46.28,328.03 L46.49,337.76 L46.75,343.41 L47.09,346.43 L47.52,347.6 L48.03,347.94 L48.11,328.83 L48.22,312.37 L48.37,298.3 L48.54,289.65 L48.79,283.89 L49.14,281.42 L49.56,280.7 L50.16,280.55 L50.26,299.66 L50.37,313.37 L50.54,327.69 L50.75,337.58 L51.01,343.33 L51.35,346.41 L51.78,347.59 L52.29,347.93 L52.37,329.4 L52.48,313.44 L52.63,299.79 L52.8,291.41 L53.05,285.82 L53.4,283.42 L53.82,282.72 L54.42,282.58 L54.52,301.12 L54.63,314.41 L54.8,328.3 L55.01,337.9 L55.27,343.47 L55.61,346.45 L56.04,347.61 L56.55,347.94 L56.63,330.81 L56.74,316.06 L56.89,303.45 L57.06,295.7 L57.31,290.54 L57.66,288.32 L58.08,287.68 L58.68,287.54 L58.78,305.12 L58.89,317.73 L59.06,330.9 L59.27,340 L59.53,345.29 L59.87,348.12 L60.3,349.21 L60.81,349.52 L60.89,331.24 L61,315.5 L61.15,302.04 L61.32,293.77 L61.57,288.26 L61.92,285.89 L62.34,285.21 L62.94,285.06 L63.04,303.34 L63.15,316.46 L63.32,330.16 L63.53,339.62 L63.79,345.11 L64.13,348.06 L64.56,349.19 L65.07,349.52 L65.15,332.01 L65.26,316.93 L65.41,304.03 L65.58,296.11 L65.83,290.83 L66.18,288.56 L66.6,287.91 L67.2,287.77 L67.3,305.29 L67.41,317.85 L67.58,330.97 L67.79,340.04 L68.05,345.3 L68.39,348.12 L68.82,349.21 L69.33,349.52 L69.41,331.44 L69.52,315.86 L69.67,302.54 L69.84,294.36 L70.09,288.9 L70.44,286.56 L70.86,285.88 L71.46,285.74 L71.56,303.83 L71.67,316.8 L71.84,330.36 L72.05,339.72 L72.31,345.16 L72.65,348.07 L73.08,349.2 L73.59,349.52 L73.67,331.37 L73.78,315.74 L73.93,302.37 L74.1,294.16 L74.35,288.68 L74.7,286.34 L75.12,285.66 L75.72,285.51 L75.82,303.67 L75.93,316.69 L76.1,330.29 L76.31,339.69 L76.57,345.15 L76.91,348.07 L77.34,349.2 L77.85,349.52 L77.93,331.43 L78.04,315.86 L78.19,302.54 L78.36,294.36 L78.61,288.9 L78.96,286.56 L79.38,285.88 L79.98,285.74 L80.08,303.32 L80.19,315.93 L80.36,329.1 L80.57,338.2 L80.83,343.48 L81.17,346.31 L81.6,347.4 L82.11,347.72 L82.19,329.5 L82.3,313.82 L82.45,300.4 L82.62,292.16 L82.87,286.66 L83.22,284.31 L83.64,283.62 L84.24,283.48 L84.34,301.7 L84.45,314.77 L84.62,328.42 L84.83,337.85 L85.09,343.32 L85.43,346.26 L85.86,347.39 L86.37,347.71 L86.45,329.63 L86.56,314.05 L86.71,300.73 L86.88,292.55 L87.13,287.09 L87.48,284.75 L87.9,284.08 L88.5,283.93 L88.6,302.02 L88.71,315 L88.88,328.55 L89.09,337.92 L89.35,343.36 L89.69,346.27 L90.12,347.39 L90.63,347.71 L90.71,329.54 L90.82,313.89 L90.97,300.51 L91.14,292.29 L91.39,286.8 L91.74,284.45 L92.16,283.77 L92.76,283.63 L92.86,301.61 L92.97,314.51 L93.14,327.99 L93.35,337.3 L93.61,342.7 L93.95,345.6 L94.38,346.72 L94.89,347.04 L94.97,329.1 L95.08,313.65 L95.23,300.44 L95.4,292.32 L95.65,286.91 L96,284.59 L96.42,283.92 L97.02,283.77 L97.12,301.7 L97.23,314.55 L97.4,327.98 L97.61,337.26 L97.87,342.65 L98.21,345.53 L98.64,346.65 L99.15,346.96 L99.23,329.09 L99.34,313.69 L99.49,300.53 L99.66,292.44 L99.91,287.04 L100.26,284.73 L100.68,284.06 L101.28,283.92 L101.38,301.78 L101.49,314.59 L101.66,327.98 L101.87,337.22 L102.13,342.59 L102.47,345.46 L102.9,346.57 L103.41,346.89 L103.49,329.08 L103.6,313.73 L103.75,300.62 L103.92,292.56 L104.17,287.18 L104.52,284.88 L104.94,284.21 L105.54,284.07 L105.64,301.87 L105.75,314.63 L105.92,327.97 L106.13,337.18 L106.39,342.53 L106.73,345.39 L107.16,346.5 L107.67,346.82 L107.75,329.07 L107.86,313.78 L108.01,300.7 L108.18,292.67 L108.43,287.32 L108.78,285.02 L109.2,284.35 L109.8,284.21 L109.9,301.95 L110.01,314.67 L110.18,327.96 L110.39,337.14 L110.65,342.47 L110.99,345.33 L111.42,346.43 L111.93,346.74 L112.01,329.06 L112.12,313.82 L112.27,300.79 L112.44,292.79 L112.69,287.45 L113.04,285.16 L113.46,284.5 L114.06,284.36 L114.16,302.03 L114.27,314.71 L114.44,327.95 L114.65,337.1 L114.91,342.41 L115.25,345.26 L115.68,346.36 L116.19,346.67 L116.27,329.05 L116.38,313.86 L116.53,300.88 L116.7,292.91 L116.95,287.59 L117.3,285.31 L117.72,284.64 L118.32,284.51 L118.42,302.12 L118.53,314.75 L118.7,327.95 L118.91,337.06 L119.17,342.36 L119.51,345.19 L119.94,346.29 L120.45,346.6 L120.53,329.03 L120.64,313.91 L120.79,300.97 L120.96,293.02 L121.21,287.72 L121.56,285.45 L121.98,284.79 L122.58,284.65 L122.68,302.2 L122.79,314.79 L122.96,327.94 L123.17,337.02 L123.43,342.3 L123.77,345.12 L124.2,346.21 L124.71,346.53 L124.79,329.02 L124.9,313.95 L125.05,301.06 L125.22,293.14 L125.47,287.86 L125.82,285.59 L126.24,284.94 L126.84,284.8 L126.94,302.29 L127.05,314.83 L127.22,327.93 L127.43,336.98 L127.69,342.24 L128.03,345.05 L128.46,346.14 L128.97,346.45 L129.05,329.01 L129.16,313.99 L129.31,301.15 L129.48,293.26 L129.73,287.99 L130.08,285.74 L130.5,285.08 L131.1,284.94 L131.2,302.37 L131.31,314.87 L131.48,327.93 L131.69,336.94 L131.95,342.18 L132.29,344.99 L132.72,346.07 L133.23,346.38 L133.31,329 L133.42,314.03 L133.57,301.24 L133.74,293.37 L133.99,288.13 L134.34,285.88 L134.76,285.23 L135.36,285.09 L135.46,302.46 L135.57,314.91 L135.74,327.92 L135.95,336.9 L136.21,342.13 L136.55,344.92 L136.98,346 L137.49,346.31 L137.57,328.99 L137.68,314.08 L137.83,301.32 L138,293.49 L138.25,288.26 L138.6,286.02 L139.02,285.37 L139.62,285.24 L139.72,302.54 L139.83,314.95 L140,327.91 L140.21,336.87 L140.47,342.07 L140.81,344.85 L141.24,345.93 L141.75,346.23 L141.83,328.98 L141.94,314.12 L142.09,301.41 L142.26,293.61 L142.51,288.4 L142.86,286.17 L143.28,285.52 L143.88,285.38 L143.98,302.62 L144.09,314.99 L144.26,327.91 L144.47,336.83 L144.73,342.01 L145.07,344.78 L145.5,345.86 L146.01,346.16 L146.09,328.97 L146.2,314.16 L146.35,301.5 L146.52,293.72 L146.77,288.53 L147.12,286.31 L147.54,285.67 L148.14,285.53 L148.24,302.71 L148.35,315.03 L148.52,327.9 L148.73,336.79 L148.99,341.95 L149.33,344.72 L149.76,345.78 L150.27,346.09 L150.35,328.96 L150.46,314.21 L150.61,301.59 L150.78,293.84 L151.03,288.67 L151.38,286.45 L151.8,285.81 L152.4,285.68 L152.5,302.79 L152.61,315.07 L152.78,327.89 L152.99,336.75 L153.25,341.89 L153.59,344.65 L154.02,345.71 L154.53,346.02 L154.61,328.95 L154.72,314.25 L154.87,301.68 L155.04,293.96 L155.29,288.81 L155.64,286.6 L156.06,285.96 L156.66,285.82 L156.76,302.88 L156.87,315.11 L157.04,327.88 L157.25,336.71 L157.51,341.84 L157.85,344.58 L158.28,345.64 L158.79,345.94 L158.87,328.94 L158.98,314.29 L159.13,301.77 L159.3,294.07 L159.55,288.94 L159.9,286.74 L160.32,286.1 L160.92,285.97 L161.02,302.96 L161.13,315.15 L161.3,327.88 L161.51,336.67 L161.77,341.78 L162.11,344.51 L162.54,345.57 L163.05,345.87 L163.13,328.93 L163.24,314.33 L163.39,301.86 L163.56,294.19 L163.81,289.08 L164.16,286.89 L164.58,286.25 L165.18,286.12 L165.28,303.04 L165.39,315.18 L165.56,327.87 L165.77,336.63 L166.03,341.72 L166.37,344.44 L166.8,345.5 L167.31,345.8 L167.39,328.92 L167.5,314.38 L167.65,301.94 L167.82,294.31 L168.07,289.21 L168.42,287.03 L168.84,286.4 L169.44,286.26 L169.54,303.13 L169.65,315.22 L169.82,327.86 L170.03,336.59 L170.29,341.66 L170.63,344.38 L171.06,345.42 L171.57,345.72 L171.65,328.91 L171.76,314.42 L171.91,302.03 L172.08,294.42 L172.33,289.35 L172.68,287.17 L173.1,286.54 L173.7,286.41 L173.8,303.21 L173.91,315.26 L174.08,327.86 L174.29,336.55 L174.55,341.6 L174.89,344.31 L175.32,345.35 L175.83,345.65 L175.91,328.89 L176.02,314.46 L176.17,302.12 L176.34,294.54 L176.59,289.48 L176.94,287.32 L177.36,286.69 L177.96,286.55 L178.06,303.3 L178.17,315.3 L178.34,327.85 L178.55,336.51 L178.81,341.55 L179.15,344.24 L179.58,345.28 L180.09,345.58 L180.17,328.88 L180.28,314.5 L180.43,302.21 L180.6,294.66 L180.85,289.62 L181.2,287.46 L181.62,286.83 L182.22,286.7 L182.32,303.38 L182.43,315.34 L182.6,327.84 L182.81,336.47 L183.07,341.49 L183.41,344.17 L183.84,345.21 L184.35,345.5 L184.43,328.87 L184.54,314.55 L184.69,302.3 L184.86,294.77 L185.11,289.75 L185.46,287.6 L185.88,286.98 L186.48,286.85 L186.58,303.47 L186.69,315.38 L186.86,327.83 L187.07,336.43 L187.33,341.43 L187.67,344.1 L188.1,345.14 L188.61,345.43 L188.69,328.86 L188.8,314.59 L188.95,302.39 L189.12,294.89 L189.37,289.89 L189.72,287.75 L190.14,287.12 L190.74,286.99 L190.84,303.55 L190.95,315.42 L191.12,327.83 L191.33,336.39 L191.59,341.37 L191.93,344.04 L192.36,345.06 L192.87,345.36 L192.95,328.85 L193.06,314.63 L193.21,302.48 L193.38,295.01 L193.63,290.03 L193.98,287.89 L194.4,287.27 L195,287.14 L195.1,303.63 L195.21,315.46 L195.38,327.82 L195.59,336.35 L195.85,341.31 L196.19,343.97 L196.62,344.99 L197.13,345.29 L197.21,328.84 L197.32,314.68 L197.47,302.56 L197.64,295.12 L197.89,290.16 L198.24,288.03 L198.66,287.42 L199.26,287.29 L199.36,303.72 L199.47,315.5 L199.64,327.81 L199.85,336.32 L200.11,341.26 L200.45,343.9 L200.88,344.92 L201.39,345.21 L201.47,328.83 L201.58,314.72 L201.73,302.65 L201.9,295.24 L202.15,290.3 L202.5,288.18 L202.92,287.56 L203.52,287.43 L203.62,303.8 L203.73,315.54 L203.9,327.81 L204.11,336.28 L204.37,341.2 L204.71,343.83 L205.14,344.85 L205.65,345.14 L205.73,328.82 L205.84,314.76 L205.99,302.74 L206.16,295.36 L206.41,290.43 L206.76,288.32 L207.18,287.71 L207.78,287.58 L207.88,303.89 L207.99,315.58 L208.16,327.8 L208.37,336.24 L208.63,341.14 L208.97,343.76 L209.4,344.78 L209.91,345.07 L209.99,328.81 L210.1,314.8 L210.25,302.83 L210.42,295.47 L210.67,290.57 L211.02,288.46 L211.44,287.85 L212.04,287.73 L212.14,303.97 L212.25,315.62 L212.42,327.79 L212.63,336.2 L212.89,341.08 L213.23,343.7 L213.66,344.71 L214.17,344.99 L214.25,328.8 L214.36,314.85 L214.51,302.92 L214.68,295.59 L214.93,290.7 L215.28,288.61 L215.7,288 L216.3,287.87 L216.4,304.05 L216.51,315.66 L216.68,327.79 L216.89,336.16 L217.15,341.02 L217.49,343.63 L217.92,344.63 L218.43,344.92 L218.51,328.79 L218.62,314.89 L218.77,303.01 L218.94,295.71 L219.19,290.84 L219.54,288.75 L219.96,288.15 L220.56,288.02 L220.66,304.14 L220.77,315.7 L220.94,327.78 L221.15,336.12 L221.41,340.97 L221.75,343.56 L222.18,344.56 L222.69,344.85 L222.77,328.78 L222.88,314.93 L223.03,303.1 L223.2,295.82 L223.45,290.97 L223.8,288.89 L224.22,288.29 L224.82,288.16 L224.92,304.22 L225.03,315.74 L225.2,327.77 L225.41,336.08 L225.67,340.91 L226.01,343.49 L226.44,344.49 L226.95,344.78 L227.03,328.77 L227.14,314.98 L227.29,303.18 L227.46,295.94 L227.71,291.11 L228.06,289.04 L228.48,288.44 L229.08,288.31 L229.18,304.31 L229.29,315.78 L229.46,327.76 L229.67,336.04 L229.93,340.85 L230.27,343.42 L230.7,344.42 L231.21,344.7 L231.29,328.76 L231.4,315.02 L231.55,303.27 L231.72,296.06 L231.97,291.24 L232.32,289.18 L232.74,288.58 L233.34,288.46 L233.44,304.39 L233.55,315.82 L233.72,327.76 L233.93,336 L234.19,340.79 L234.53,343.36 L234.96,344.35 L235.47,344.63 L235.55,328.74 L235.66,315.06 L235.81,303.36 L235.98,296.17 L236.23,291.38 L236.58,289.33 L237,288.73 L237.6,288.6 L237.7,304.48 L237.81,315.86 L237.98,327.75 L238.19,335.96 L238.45,340.73 L238.79,343.29 L239.22,344.27 L239.73,344.56 L239.81,328.73 L239.92,315.1 L240.07,303.45 L240.24,296.29 L240.49,291.52 L240.84,289.47 L241.26,288.87 L241.86,288.75 L241.96,304.56 L242.07,315.9 L242.24,327.74 L242.45,335.92 L242.71,340.68 L243.05,343.22 L243.48,344.2 L243.99,344.48 L244.07,328.72 L244.18,315.15 L244.33,303.54 L244.5,296.41 L244.75,291.65 L245.1,289.61 L245.52,289.02 L246.12,288.9 L246.22,304.64 L246.33,315.94 L246.5,327.74 L246.71,335.88 L246.97,340.62 L247.31,343.15 L247.74,344.13 L248.25,344.41 L248.33,328.71 L248.44,315.19 L248.59,303.63 L248.76,296.52 L249.01,291.79" fill="none" stroke="#111" stroke-width="0.95" stroke-linejoin="round" />
<line x1="35.7" y1="199.5" x2="249.1" y2="199.5" stroke="#000" stroke-width="1.15" />
<line x1="35.7" y1="199" x2="35.7" y2="358" stroke="#000" stroke-width="1.15" />
<line x1="35.7" y1="357.5" x2="249.1" y2="357.5" stroke="#000" stroke-width="1.15" />
<line x1="249.1" y1="199" x2="249.1" y2="358" stroke="#1818ff" stroke-width="1.1" />
<line x1="32.4" y1="357.5" x2="35.7" y2="357.5" stroke="#000" stroke-width="1.15" />
<text x="30.7" y="359.5" font-family="Liberation Serif" font-weight="bold" font-size="5.8" text-anchor="end" fill="#000" stroke="#000" stroke-width="0.17" >30</text>
<line x1="33.9" y1="346.21" x2="35.7" y2="346.21" stroke="#000" stroke-width="1.15" />
<line x1="32.4" y1="334.93" x2="35.7" y2="334.93" stroke="#000" stroke-width="1.15" />
<text x="30.7" y="336.93" font-family="Liberation Serif" font-weight="bold" font-size="5.8" text-anchor="end" fill="#000" stroke="#000" stroke-width="0.17" >40</text>
<line x1="33.9" y1="323.64" x2="35.7" y2="323.64" stroke="#000" stroke-width="1.15" />
<line x1="32.4" y1="312.36" x2="35.7" y2="312.36" stroke="#000" stroke-width="1.15" />
<text x="30.7" y="314.36" font-family="Liberation Serif" font-weight="bold" font-size="5.8" text-anchor="end" fill="#000" stroke="#000" stroke-width="0.17" >50</text>
<line x1="33.9" y1="301.07" x2="35.7" y2="301.07" stroke="#000" stroke-width="1.15" />
<line x1="32.4" y1="289.79" x2="35.7" y2="289.79" stroke="#000" stroke-width="1.15" />
<text x="30.7" y="291.79" font-family="Liberation Serif" font-weight="bold" font-size="5.8" text-anchor="end" fill="#000" stroke="#000" stroke-width="0.17" >60</text>
<line x1="33.9" y1="278.5" x2="35.7" y2="278.5" stroke="#000" stroke-width="1.15" />
<line x1="32.4" y1="267.21" x2="35.7" y2="267.21" stroke="#000" stroke-width="1.15" />
<text x="30.7" y="269.21" font-family="Liberation Serif" font-weight="bold" font-size="5.8" text-anchor="end" fill="#000" stroke="#000" stroke-width="0.17" >70</text>
<line x1="33.9" y1="255.93" x2="35.7" y2="255.93" stroke="#000" stroke-width="1.15" />
<line x1="32.4" y1="244.64" x2="35.7" y2="244.64" stroke="#000" stroke-width="1.15" />
<text x="30.7" y="246.64" font-family="Liberation Serif" font-weight="bold" font-size="5.8" text-anchor="end" fill="#000" stroke="#000" stroke-width="0.17" >80</text>
<line x1="33.9" y1="233.36" x2="35.7" y2="233.36" stroke="#000" stroke-width="1.15" />
<line x1="32.4" y1="222.07" x2="35.7" y2="222.07" stroke="#000" stroke-width="1.15" />
<text x="30.7" y="224.07" font-family="Liberation Serif" font-weight="bold" font-size="5.8" text-anchor="end" fill="#000" stroke="#000" stroke-width="0.17" >90</text>
<line x1="33.9" y1="210.79" x2="35.7" y2="210.79" stroke="#000" stroke-width="1.15" />
<line x1="32.4" y1="199.5" x2="35.7" y2="199.5" stroke="#000" stroke-width="1.15" />
<text x="30.7" y="201.5" font-family="Liberation Serif" font-weight="bold" font-size="5.8" text-anchor="end" fill="#000" stroke="#000" stroke-width="0.17" >100</text>
<line x1="36.1" y1="357.5" x2="36.1" y2="360.5" stroke="#000" stroke-width="1.15" />
<text x="36.1" y="368.1" font-family="Liberation Serif" font-weight="bold" font-size="5.8" text-anchor="middle" fill="#000" stroke="#000" stroke-width="0.17" >0</text>
<line x1="46.75" y1="357.5" x2="46.75" y2="359.3" stroke="#000" stroke-width="1.15" />
<line x1="57.4" y1="357.5" x2="57.4" y2="360.5" stroke="#000" stroke-width="1.15" />
<text x="57.4" y="368.1" font-family="Liberation Serif" font-weight="bold" font-size="5.8" text-anchor="middle" fill="#000" stroke="#000" stroke-width="0.17" >50</text>
<line x1="68.05" y1="357.5" x2="68.05" y2="359.3" stroke="#000" stroke-width="1.15" />
<line x1="78.7" y1="357.5" x2="78.7" y2="360.5" stroke="#000" stroke-width="1.15" />
<text x="78.7" y="368.1" font-family="Liberation Serif" font-weight="bold" font-size="5.8" text-anchor="middle" fill="#000" stroke="#000" stroke-width="0.17" >100</text>
<line x1="89.35" y1="357.5" x2="89.35" y2="359.3" stroke="#000" stroke-width="1.15" />
<line x1="100" y1="357.5" x2="100" y2="360.5" stroke="#000" stroke-width="1.15" />
<text x="100" y="368.1" font-family="Liberation Serif" font-weight="bold" font-size="5.8" text-anchor="middle" fill="#000" stroke="#000" stroke-width="0.17" >150</text>
<line x1="110.65" y1="357.5" x2="110.65" y2="359.3" stroke="#000" stroke-width="1.15" />
<line x1="121.3" y1="357.5" x2="121.3" y2="360.5" stroke="#000" stroke-width="1.15" />
<text x="121.3" y="368.1" font-family="Liberation Serif" font-weight="bold" font-size="5.8" text-anchor="middle" fill="#000" stroke="#000" stroke-width="0.17" >200</text>
<line x1="131.95" y1="357.5" x2="131.95" y2="359.3" stroke="#000" stroke-width="1.15" />
<line x1="142.6" y1="357.5" x2="142.6" y2="360.5" stroke="#000" stroke-width="1.15" />
<text x="142.6" y="368.1" font-family="Liberation Serif" font-weight="bold" font-size="5.8" text-anchor="middle" fill="#000" stroke="#000" stroke-width="0.17" >250</text>
<line x1="153.25" y1="357.5" x2="153.25" y2="359.3" stroke="#000" stroke-width="1.15" />
<line x1="163.9" y1="357.5" x2="163.9" y2="360.5" stroke="#000" stroke-width="1.15" />
<text x="163.9" y="368.1" font-family="Liberation Serif" font-weight="bold" font-size="5.8" text-anchor="middle" fill="#000" stroke="#000" stroke-width="0.17" >300</text>
<line x1="174.55" y1="357.5" x2="174.55" y2="359.3" stroke="#000" stroke-width="1.15" />
<line x1="185.2" y1="357.5" x2="185.2" y2="360.5" stroke="#000" stroke-width="1.15" />
<text x="185.2" y="368.1" font-family="Liberation Serif" font-weight="bold" font-size="5.8" text-anchor="middle" fill="#000" stroke="#000" stroke-width="0.17" >350</text>
<line x1="195.85" y1="357.5" x2="195.85" y2="359.3" stroke="#000" stroke-width="1.15" />
<line x1="206.5" y1="357.5" x2="206.5" y2="360.5" stroke="#000" stroke-width="1.15" />
<text x="206.5" y="368.1" font-family="Liberation Serif" font-weight="bold" font-size="5.8" text-anchor="middle" fill="#000" stroke="#000" stroke-width="0.17" >400</text>
<line x1="217.15" y1="357.5" x2="217.15" y2="359.3" stroke="#000" stroke-width="1.15" />
<line x1="227.8" y1="357.5" x2="227.8" y2="360.5" stroke="#000" stroke-width="1.15" />
<text x="227.8" y="368.1" font-family="Liberation Serif" font-weight="bold" font-size="5.8" text-anchor="middle" fill="#000" stroke="#000" stroke-width="0.17" >450</text>
<line x1="238.45" y1="357.5" x2="238.45" y2="359.3" stroke="#000" stroke-width="1.15" />
<line x1="249.1" y1="357.5" x2="249.1" y2="360.5" stroke="#000" stroke-width="1.15" />
<text x="249.1" y="368.1" font-family="Liberation Serif" font-weight="bold" font-size="5.8" text-anchor="middle" fill="#000" stroke="#000" stroke-width="0.17" >500</text>
<line x1="249.1" y1="357.5" x2="252.5" y2="357.5" stroke="#1818ff" stroke-width="1.15" />
<text x="253.9" y="359.5" font-family="Liberation Serif" font-weight="bold" font-size="5.8" text-anchor="start" fill="#1818ff" stroke="#1818ff" stroke-width="0.17" >-4.0</text>
<line x1="249.1" y1="349.98" x2="250.9" y2="349.98" stroke="#1818ff" stroke-width="1.15" />
<line x1="249.1" y1="342.45" x2="252.5" y2="342.45" stroke="#1818ff" stroke-width="1.15" />
<text x="253.9" y="344.45" font-family="Liberation Serif" font-weight="bold" font-size="5.8" text-anchor="start" fill="#1818ff" stroke="#1818ff" stroke-width="0.17" >-3.5</text>
<line x1="249.1" y1="334.93" x2="250.9" y2="334.93" stroke="#1818ff" stroke-width="1.15" />
<line x1="249.1" y1="327.4" x2="252.5" y2="327.4" stroke="#1818ff" stroke-width="1.15" />
<text x="253.9" y="329.4" font-family="Liberation Serif" font-weight="bold" font-size="5.8" text-anchor="start" fill="#1818ff" stroke="#1818ff" stroke-width="0.17" >-3.0</text>
<line x1="249.1" y1="319.88" x2="250.9" y2="319.88" stroke="#1818ff" stroke-width="1.15" />
<line x1="249.1" y1="312.36" x2="252.5" y2="312.36" stroke="#1818ff" stroke-width="1.15" />
<text x="253.9" y="314.36" font-family="Liberation Serif" font-weight="bold" font-size="5.8" text-anchor="start" fill="#1818ff" stroke="#1818ff" stroke-width="0.17" >-2.5</text>
<line x1="249.1" y1="304.83" x2="250.9" y2="304.83" stroke="#1818ff" stroke-width="1.15" />
<line x1="249.1" y1="297.31" x2="252.5" y2="297.31" stroke="#1818ff" stroke-width="1.15" />
<text x="253.9" y="299.31" font-family="Liberation Serif" font-weight="bold" font-size="5.8" text-anchor="start" fill="#1818ff" stroke="#1818ff" stroke-width="0.17" >-2.0</text>
<line x1="249.1" y1="289.79" x2="250.9" y2="289.79" stroke="#1818ff" stroke-width="1.15" />
<line x1="249.1" y1="282.26" x2="252.5" y2="282.26" stroke="#1818ff" stroke-width="1.15" />
<text x="253.9" y="284.26" font-family="Liberation Serif" font-weight="bold" font-size="5.8" text-anchor="start" fill="#1818ff" stroke="#1818ff" stroke-width="0.17" >-1.5</text>
<line x1="249.1" y1="274.74" x2="250.9" y2="274.74" stroke="#1818ff" stroke-width="1.15" />
<line x1="249.1" y1="267.21" x2="252.5" y2="267.21" stroke="#1818ff" stroke-width="1.15" />
<text x="253.9" y="269.21" font-family="Liberation Serif" font-weight="bold" font-size="5.8" text-anchor="start" fill="#1818ff" stroke="#1818ff" stroke-width="0.17" >-1.0</text>
<line x1="249.1" y1="259.69" x2="250.9" y2="259.69" stroke="#1818ff" stroke-width="1.15" />
<line x1="249.1" y1="252.17" x2="252.5" y2="252.17" stroke="#1818ff" stroke-width="1.15" />
<text x="253.9" y="254.17" font-family="Liberation Serif" font-weight="bold" font-size="5.8" text-anchor="start" fill="#1818ff" stroke="#1818ff" stroke-width="0.17" >-0.5</text>
<line x1="249.1" y1="244.64" x2="250.9" y2="244.64" stroke="#1818ff" stroke-width="1.15" />
<line x1="249.1" y1="237.12" x2="252.5" y2="237.12" stroke="#1818ff" stroke-width="1.15" />
<text x="253.9" y="239.12" font-family="Liberation Serif" font-weight="bold" font-size="5.8" text-anchor="start" fill="#1818ff" stroke="#1818ff" stroke-width="0.17" >0.0</text>
<line x1="249.1" y1="229.6" x2="250.9" y2="229.6" stroke="#1818ff" stroke-width="1.15" />
<line x1="249.1" y1="222.07" x2="252.5" y2="222.07" stroke="#1818ff" stroke-width="1.15" />
<text x="253.9" y="224.07" font-family="Liberation Serif" font-weight="bold" font-size="5.8" text-anchor="start" fill="#1818ff" stroke="#1818ff" stroke-width="0.17" >0.5</text>
<line x1="249.1" y1="214.55" x2="250.9" y2="214.55" stroke="#1818ff" stroke-width="1.15" />
<line x1="249.1" y1="207.02" x2="252.5" y2="207.02" stroke="#1818ff" stroke-width="1.15" />
<text x="253.9" y="209.02" font-family="Liberation Serif" font-weight="bold" font-size="5.8" text-anchor="start" fill="#1818ff" stroke="#1818ff" stroke-width="0.17" >1.0</text>
<line x1="249.1" y1="199.5" x2="250.9" y2="199.5" stroke="#1818ff" stroke-width="1.15" />
<text x="142.4" y="383.2" font-family="Liberation Serif" font-weight="bold" font-size="9.9" text-anchor="middle" fill="#000" stroke="#000" stroke-width="0.30" >Time (s)</text>
<text x="14.8" y="285.6" font-family="Liberation Serif" font-weight="bold" font-size="10.0" text-anchor="middle" fill="#000" stroke="#000" stroke-width="0.30" transform="rotate(-90 14.8 285.6)">Transmittance (%)</text>
<text x="279.8" y="286.6" font-family="Liberation Serif" font-weight="bold" font-size="10" text-anchor="middle" fill="#1818ff" transform="rotate(-90 279.6 285.8)">j (mA/cm<tspan dy="-4.2" font-size="8">2</tspan><tspan dy="4.2">)</tspan></text>
<text x="304" y="208.6" font-family="Liberation Serif" font-weight="bold" font-size="9.8" text-anchor="middle" fill="#000" stroke="#000" stroke-width="0.29" >(d)</text>
<line x1="331.6" y1="197.9" x2="546.5" y2="197.9" stroke="#000" stroke-width="1.15" />
<line x1="331.6" y1="197.4" x2="331.6" y2="358" stroke="#000" stroke-width="1.15" />
<line x1="331.6" y1="357.5" x2="546.5" y2="357.5" stroke="#000" stroke-width="1.15" />
<line x1="546.5" y1="197.4" x2="546.5" y2="358" stroke="#000" stroke-width="1.15" />
<line x1="329.8" y1="353.25" x2="331.6" y2="353.25" stroke="#000" stroke-width="1.15" />
<line x1="328.3" y1="341.3" x2="331.6" y2="341.3" stroke="#000" stroke-width="1.15" />
<text x="326.6" y="343.3" font-family="Liberation Serif" font-weight="bold" font-size="5.8" text-anchor="end" fill="#000" stroke="#000" stroke-width="0.17" >35</text>
<line x1="329.8" y1="329.35" x2="331.6" y2="329.35" stroke="#000" stroke-width="1.15" />
<line x1="328.3" y1="317.4" x2="331.6" y2="317.4" stroke="#000" stroke-width="1.15" />
<text x="326.6" y="319.4" font-family="Liberation Serif" font-weight="bold" font-size="5.8" text-anchor="end" fill="#000" stroke="#000" stroke-width="0.17" >40</text>
<line x1="329.8" y1="305.45" x2="331.6" y2="305.45" stroke="#000" stroke-width="1.15" />
<line x1="328.3" y1="293.5" x2="331.6" y2="293.5" stroke="#000" stroke-width="1.15" />
<text x="326.6" y="295.5" font-family="Liberation Serif" font-weight="bold" font-size="5.8" text-anchor="end" fill="#000" stroke="#000" stroke-width="0.17" >45</text>
<line x1="329.8" y1="281.55" x2="331.6" y2="281.55" stroke="#000" stroke-width="1.15" />
<line x1="328.3" y1="269.6" x2="331.6" y2="269.6" stroke="#000" stroke-width="1.15" />
<text x="326.6" y="271.6" font-family="Liberation Serif" font-weight="bold" font-size="5.8" text-anchor="end" fill="#000" stroke="#000" stroke-width="0.17" >50</text>
<line x1="329.8" y1="257.65" x2="331.6" y2="257.65" stroke="#000" stroke-width="1.15" />
<line x1="328.3" y1="245.7" x2="331.6" y2="245.7" stroke="#000" stroke-width="1.15" />
<text x="326.6" y="247.7" font-family="Liberation Serif" font-weight="bold" font-size="5.8" text-anchor="end" fill="#000" stroke="#000" stroke-width="0.17" >55</text>
<line x1="329.8" y1="233.75" x2="331.6" y2="233.75" stroke="#000" stroke-width="1.15" />
<line x1="328.3" y1="221.8" x2="331.6" y2="221.8" stroke="#000" stroke-width="1.15" />
<text x="326.6" y="223.8" font-family="Liberation Serif" font-weight="bold" font-size="5.8" text-anchor="end" fill="#000" stroke="#000" stroke-width="0.17" >60</text>
<line x1="329.8" y1="209.85" x2="331.6" y2="209.85" stroke="#000" stroke-width="1.15" />
<line x1="328.3" y1="197.9" x2="331.6" y2="197.9" stroke="#000" stroke-width="1.15" />
<text x="326.6" y="199.9" font-family="Liberation Serif" font-weight="bold" font-size="5.8" text-anchor="end" fill="#000" stroke="#000" stroke-width="0.17" >65</text>
<line x1="331.6" y1="357.5" x2="331.6" y2="360.5" stroke="#000" stroke-width="1.15" />
<text x="331.6" y="368.1" font-family="Liberation Serif" font-weight="bold" font-size="5.8" text-anchor="middle" fill="#000" stroke="#000" stroke-width="0.17" >118</text>
<line x1="349.51" y1="357.5" x2="349.51" y2="359.3" stroke="#000" stroke-width="1.15" />
<line x1="367.42" y1="357.5" x2="367.42" y2="360.5" stroke="#000" stroke-width="1.15" />
<text x="367.42" y="368.1" font-family="Liberation Serif" font-weight="bold" font-size="5.8" text-anchor="middle" fill="#000" stroke="#000" stroke-width="0.17" >120</text>
<line x1="385.33" y1="357.5" x2="385.33" y2="359.3" stroke="#000" stroke-width="1.15" />
<line x1="403.23" y1="357.5" x2="403.23" y2="360.5" stroke="#000" stroke-width="1.15" />
<text x="403.23" y="368.1" font-family="Liberation Serif" font-weight="bold" font-size="5.8" text-anchor="middle" fill="#000" stroke="#000" stroke-width="0.17" >122</text>
<line x1="421.14" y1="357.5" x2="421.14" y2="359.3" stroke="#000" stroke-width="1.15" />
<line x1="439.05" y1="357.5" x2="439.05" y2="360.5" stroke="#000" stroke-width="1.15" />
<text x="439.05" y="368.1" font-family="Liberation Serif" font-weight="bold" font-size="5.8" text-anchor="middle" fill="#000" stroke="#000" stroke-width="0.17" >124</text>
<line x1="456.96" y1="357.5" x2="456.96" y2="359.3" stroke="#000" stroke-width="1.15" />
<line x1="474.87" y1="357.5" x2="474.87" y2="360.5" stroke="#000" stroke-width="1.15" />
<text x="474.87" y="368.1" font-family="Liberation Serif" font-weight="bold" font-size="5.8" text-anchor="middle" fill="#000" stroke="#000" stroke-width="0.17" >126</text>
<line x1="492.77" y1="357.5" x2="492.77" y2="359.3" stroke="#000" stroke-width="1.15" />
<line x1="510.68" y1="357.5" x2="510.68" y2="360.5" stroke="#000" stroke-width="1.15" />
<text x="510.68" y="368.1" font-family="Liberation Serif" font-weight="bold" font-size="5.8" text-anchor="middle" fill="#000" stroke="#000" stroke-width="0.17" >128</text>
<line x1="528.59" y1="357.5" x2="528.59" y2="359.3" stroke="#000" stroke-width="1.15" />
<line x1="546.5" y1="357.5" x2="546.5" y2="360.5" stroke="#000" stroke-width="1.15" />
<text x="546.5" y="368.1" font-family="Liberation Serif" font-weight="bold" font-size="5.8" text-anchor="middle" fill="#000" stroke="#000" stroke-width="0.17" >130</text>
<text x="438.8" y="383.2" font-family="Liberation Serif" font-weight="bold" font-size="9.9" text-anchor="middle" fill="#000" stroke="#000" stroke-width="0.30" >Time (s)</text>
<text x="311.5" y="285" font-family="Liberation Serif" font-weight="bold" font-size="10.0" text-anchor="middle" fill="#000" stroke="#000" stroke-width="0.30" transform="rotate(-90 311.5 285.0)">Transmittance (%)</text>
<path d="M331.6,341 L354.2,343.6 L366.3,241.5 C367.6,234 370.5,228 375.4,223.8 C381,219 386.5,215.6 393,214.1 L447.5,209.3 L454,250 C456,262 458,276 460,285 C463,297 468,311 474.4,325.8 C478,331 482,333.5 487,335.6 C496,338.5 510,340.2 528,341.2 L547,257.5" fill="none" stroke="#111" stroke-width="1.3" stroke-linejoin="round"/>
<line x1="354.5" y1="343.7" x2="375.4" y2="343.7" stroke="#222" stroke-width="0.9" stroke-dasharray="1.6,2.2"/>
<line x1="375.4" y1="343.7" x2="375.4" y2="228.5" stroke="#222" stroke-width="0.9" stroke-dasharray="1.6,2.2"/>
<path d="M373.9,229.2 L375.4,224.2 L376.9,229.2 Z" fill="#111"/>
<line x1="447.4" y1="211" x2="447.4" y2="323" stroke="#222" stroke-width="0.9" stroke-dasharray="1.6,2.2"/>
<path d="M445.7,322.5 L447.4,327.8 L449.1,322.5 Z" fill="#111"/>
<line x1="447.4" y1="328.6" x2="474.4" y2="328.6" stroke="#222" stroke-width="0.9" stroke-dasharray="1.6,2.2"/>
<text x="388" y="278.3" font-family="Liberation Serif" font-weight="bold" font-size="7.8" text-anchor="middle" fill="#000" stroke="#000" stroke-width="0.23" >90 %</text>
<text x="436" y="283" font-family="Liberation Serif" font-weight="bold" font-size="7.8" text-anchor="middle" fill="#000" stroke="#000" stroke-width="0.23" >90 %</text>
<text x="506.5" y="245.2" font-family="Liberation Serif" font-weight="bold" font-size="7.6" text-anchor="middle" fill="#000" stroke="#000" stroke-width="0.23" >&#916;T=28.3 %</text>
<text x="365.6" y="355.0" font-family="Liberation Serif" font-weight="bold" font-size="7.6" text-anchor="start">t<tspan dy="1.8" font-size="4.8">b</tspan><tspan dy="-1.8">=1.2 s</tspan></text>
<text x="444.6" y="339.8" font-family="Liberation Serif" font-weight="bold" font-size="7.6" text-anchor="start">t<tspan dy="1.8" font-size="4.8">c</tspan><tspan dy="-1.8">=1.6 s</tspan></text>
</svg></body></html>
